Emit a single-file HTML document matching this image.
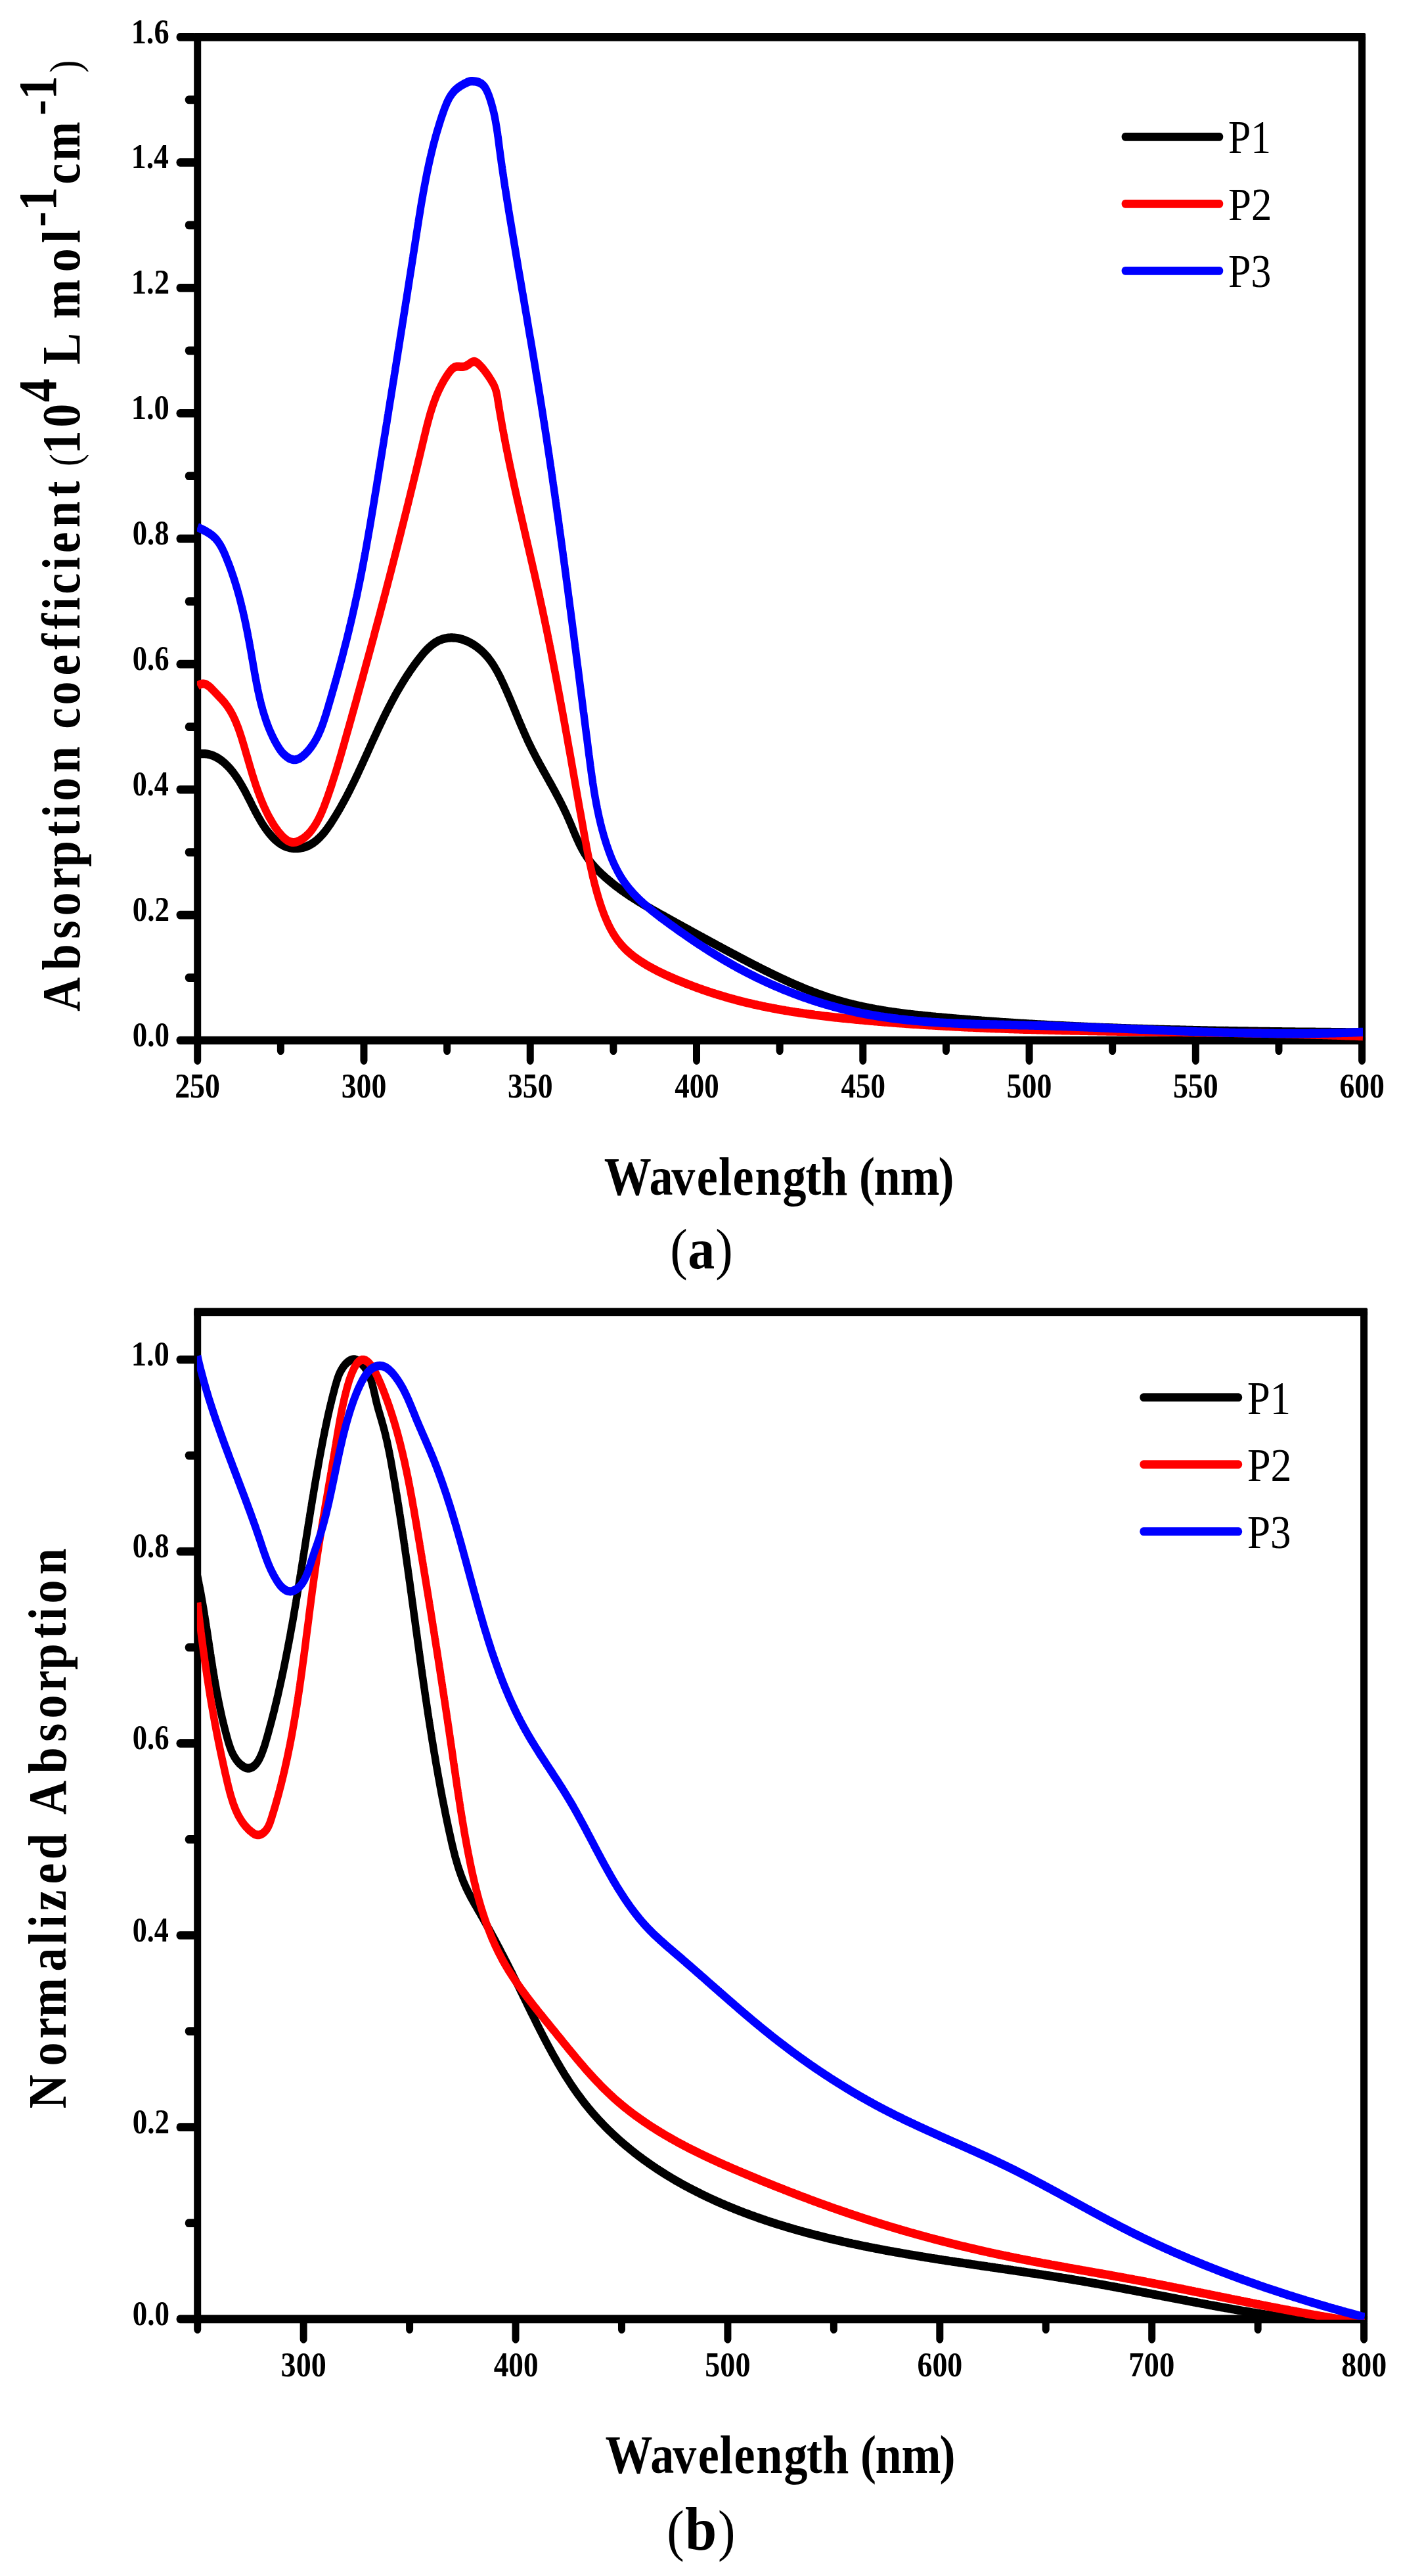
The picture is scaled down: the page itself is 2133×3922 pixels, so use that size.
<!DOCTYPE html>
<html lang="en"><head><meta charset="utf-8"><title>Absorption spectra of P1, P2 and P3</title>
<style>
html,body{margin:0;padding:0;background:#fff;}
body{width:2133px;height:3922px;overflow:hidden;}
svg{display:block;font-family:"Liberation Serif","DejaVu Serif",serif;font-size:200px;font-weight:bold;fill:#000;}
</style></head><body>
<svg width="2133" height="3922" viewBox="0 0 2133 3922">
<rect width="2133" height="3922" fill="#fff"/>
<g id="chart-a">
<path d="M300.70 56.40H2073.60V1584.00H300.70Z" fill="none" stroke="#000" stroke-width="11.0" stroke-linejoin="round" transform="translate(0,0)"/>
<rect x="295.20" y="50.05" width="1783.90" height="12.7" rx="2" ry="2"/>
<rect x="295.20" y="1577.65" width="1783.90" height="12.7" rx="2" ry="2"/>
<rect x="268.50" y="1577.65" width="32.20" height="12.7" rx="5.5" ry="6.35"/>
<rect x="268.50" y="1386.70" width="32.20" height="12.7" rx="5.5" ry="6.35"/>
<rect x="268.50" y="1195.75" width="32.20" height="12.7" rx="5.5" ry="6.35"/>
<rect x="268.50" y="1004.80" width="32.20" height="12.7" rx="5.5" ry="6.35"/>
<rect x="268.50" y="813.85" width="32.20" height="12.7" rx="5.5" ry="6.35"/>
<rect x="268.50" y="622.90" width="32.20" height="12.7" rx="5.5" ry="6.35"/>
<rect x="268.50" y="431.95" width="32.20" height="12.7" rx="5.5" ry="6.35"/>
<rect x="268.50" y="241.00" width="32.20" height="12.7" rx="5.5" ry="6.35"/>
<rect x="268.50" y="50.05" width="32.20" height="12.7" rx="5.5" ry="6.35"/>
<rect x="281.70" y="1482.18" width="19.00" height="12.7" rx="5.5" ry="6.35"/>
<rect x="281.70" y="1291.23" width="19.00" height="12.7" rx="5.5" ry="6.35"/>
<rect x="281.70" y="1100.28" width="19.00" height="12.7" rx="5.5" ry="6.35"/>
<rect x="281.70" y="909.33" width="19.00" height="12.7" rx="5.5" ry="6.35"/>
<rect x="281.70" y="718.38" width="19.00" height="12.7" rx="5.5" ry="6.35"/>
<rect x="281.70" y="527.43" width="19.00" height="12.7" rx="5.5" ry="6.35"/>
<rect x="281.70" y="336.48" width="19.00" height="12.7" rx="5.5" ry="6.35"/>
<rect x="281.70" y="145.53" width="19.00" height="12.7" rx="5.5" ry="6.35"/>
<rect x="295.20" y="1584.00" width="11.0" height="36.90" rx="5.5" ry="6.35"/>
<rect x="548.47" y="1584.00" width="11.0" height="36.90" rx="5.5" ry="6.35"/>
<rect x="801.74" y="1584.00" width="11.0" height="36.90" rx="5.5" ry="6.35"/>
<rect x="1055.01" y="1584.00" width="11.0" height="36.90" rx="5.5" ry="6.35"/>
<rect x="1308.29" y="1584.00" width="11.0" height="36.90" rx="5.5" ry="6.35"/>
<rect x="1561.56" y="1584.00" width="11.0" height="36.90" rx="5.5" ry="6.35"/>
<rect x="1814.83" y="1584.00" width="11.0" height="36.90" rx="5.5" ry="6.35"/>
<rect x="2068.10" y="1584.00" width="11.0" height="36.90" rx="5.5" ry="6.35"/>
<rect x="421.84" y="1584.00" width="11.0" height="22.00" rx="5.5" ry="6.35"/>
<rect x="675.11" y="1584.00" width="11.0" height="22.00" rx="5.5" ry="6.35"/>
<rect x="928.38" y="1584.00" width="11.0" height="22.00" rx="5.5" ry="6.35"/>
<rect x="1181.65" y="1584.00" width="11.0" height="22.00" rx="5.5" ry="6.35"/>
<rect x="1434.92" y="1584.00" width="11.0" height="22.00" rx="5.5" ry="6.35"/>
<rect x="1688.19" y="1584.00" width="11.0" height="22.00" rx="5.5" ry="6.35"/>
<rect x="1941.46" y="1584.00" width="11.0" height="22.00" rx="5.5" ry="6.35"/>
<text transform="matrix(0.2247,0,0,0.2654,201.71,1593.10)">0.0</text>
<text transform="matrix(0.2256,0,0,0.2654,201.71,1402.15)">0.2</text>
<text transform="matrix(0.2209,0,0,0.2654,201.74,1211.20)">0.4</text>
<text transform="matrix(0.2233,0,0,0.2654,201.73,1020.25)">0.6</text>
<text transform="matrix(0.2237,0,0,0.2654,201.72,829.30)">0.8</text>
<text transform="matrix(0.2331,0,0,0.2654,199.67,638.35)">1.0</text>
<text transform="matrix(0.2341,0,0,0.2664,199.65,447.40)">1.2</text>
<text transform="matrix(0.2291,0,0,0.2674,199.73,256.45)">1.4</text>
<text transform="matrix(0.2316,0,0,0.2664,199.69,65.50)">1.6</text>
<text transform="matrix(0.2296,0,0,0.2659,266.15,1671.37)">250</text>
<text transform="matrix(0.2288,0,0,0.2659,519.66,1671.37)">300</text>
<text transform="matrix(0.2288,0,0,0.2659,772.93,1671.37)">350</text>
<text transform="matrix(0.2248,0,0,0.2659,1027.35,1671.37)">400</text>
<text transform="matrix(0.2248,0,0,0.2659,1280.62,1671.37)">450</text>
<text transform="matrix(0.2292,0,0,0.2659,1532.62,1671.37)">500</text>
<text transform="matrix(0.2292,0,0,0.2659,1785.90,1671.37)">550</text>
<text transform="matrix(0.2284,0,0,0.2659,2039.40,1671.37)">600</text>
<clipPath id="clipA"><rect x="299.90" y="56.40" width="1775.10" height="1528.60"/></clipPath>
<g clip-path="url(#clipA)"><g fill="none" stroke-width="11.4" stroke-linejoin="round" transform="scale(1,1.16)">
<path d="M300.7 990.0 302.6 989.7 304.5 989.5 306.4 989.3 308.3 989.3 310.2 989.3 312.0 989.4 313.8 989.5 315.6 989.7 317.4 990.0 319.2 990.4 320.9 990.8 322.6 991.3 324.3 991.8 326.0 992.4 327.6 993.1 329.3 993.8 330.9 994.6 332.5 995.4 334.0 996.3 335.6 997.2 337.1 998.1 338.6 999.2 340.1 1000.2 341.6 1001.3 343.0 1002.4 344.4 1003.6 345.9 1004.8 347.2 1006.0 348.6 1007.2 349.9 1008.5 351.3 1009.8 352.5 1011.2 353.8 1012.5 355.1 1013.9 356.3 1015.3 357.5 1016.8 358.7 1018.2 359.9 1019.6 361.0 1021.1 362.2 1022.6 363.3 1024.1 364.4 1025.5 365.4 1027.0 366.5 1028.5 367.5 1030.0 368.5 1031.5 369.5 1033.1 370.5 1034.6 371.5 1036.1 372.5 1037.6 373.4 1039.2 374.3 1040.7 375.3 1042.2 376.2 1043.8 377.1 1045.3 378.0 1046.9 378.9 1048.4 379.9 1050.0 380.8 1051.5 381.7 1053.1 382.6 1054.6 383.5 1056.2 384.4 1057.8 385.3 1059.3 386.2 1060.9 387.2 1062.4 388.1 1064.0 389.0 1065.5 390.0 1067.1 391.0 1068.6 391.9 1070.2 392.9 1071.7 393.9 1073.2 395.0 1074.8 396.0 1076.3 397.0 1077.8 398.1 1079.4 399.2 1080.9 400.3 1082.4 401.5 1083.9 402.6 1085.4 403.8 1086.9 405.0 1088.3 406.2 1089.8 407.5 1091.2 408.7 1092.6 410.0 1094.0 411.3 1095.3 412.7 1096.7 414.0 1097.9 415.4 1099.2 416.8 1100.4 418.2 1101.6 419.7 1102.7 421.2 1103.8 422.7 1104.9 424.2 1105.9 425.7 1106.8 427.3 1107.7 428.9 1108.5 430.5 1109.3 432.2 1110.0 433.9 1110.7 435.6 1111.3 437.3 1111.8 439.0 1112.2 440.8 1112.6 442.6 1112.9 444.4 1113.2 446.2 1113.4 448.0 1113.5 449.9 1113.5 451.7 1113.5 453.5 1113.4 455.3 1113.3 457.1 1113.1 458.9 1112.8 460.7 1112.5 462.5 1112.1 464.3 1111.7 466.0 1111.2 467.7 1110.6 469.4 1110.0 471.1 1109.3 472.7 1108.5 474.3 1107.7 475.9 1106.9 477.4 1106.0 478.9 1105.0 480.4 1104.0 481.9 1103.0 483.3 1101.9 484.8 1100.8 486.2 1099.6 487.6 1098.4 488.9 1097.2 490.3 1095.9 491.6 1094.6 492.9 1093.3 494.2 1092.0 495.4 1090.6 496.7 1089.2 497.9 1087.8 499.1 1086.3 500.3 1084.9 501.5 1083.4 502.7 1081.9 503.9 1080.4 505.0 1078.9 506.1 1077.3 507.3 1075.8 508.4 1074.3 509.5 1072.7 510.6 1071.2 511.7 1069.7 512.7 1068.1 513.8 1066.6 514.9 1065.0 515.9 1063.5 517.0 1062.0 518.0 1060.4 519.0 1058.9 520.0 1057.3 521.0 1055.7 522.0 1054.2 523.0 1052.6 524.0 1051.1 525.0 1049.5 526.0 1048.0 526.9 1046.4 527.9 1044.8 528.8 1043.3 529.8 1041.7 530.7 1040.1 531.6 1038.6 532.6 1037.0 533.5 1035.4 534.4 1033.8 535.3 1032.3 536.2 1030.7 537.1 1029.1 538.0 1027.5 538.9 1026.0 539.8 1024.4 540.7 1022.8 541.5 1021.2 542.4 1019.6 543.3 1018.1 544.2 1016.5 545.0 1014.9 545.9 1013.3 546.7 1011.7 547.6 1010.1 548.4 1008.5 549.3 1007.0 550.1 1005.4 551.0 1003.8 551.8 1002.2 552.7 1000.6 553.5 999.0 554.3 997.4 555.2 995.8 556.0 994.2 556.9 992.6 557.7 991.1 558.5 989.5 559.4 987.9 560.2 986.3 561.0 984.7 561.9 983.1 562.7 981.5 563.5 979.9 564.4 978.3 565.2 976.7 566.0 975.1 566.9 973.5 567.7 971.9 568.6 970.4 569.4 968.8 570.3 967.2 571.1 965.6 572.0 964.0 572.8 962.4 573.7 960.8 574.5 959.2 575.4 957.6 576.2 956.0 577.1 954.5 578.0 952.9 578.8 951.3 579.7 949.7 580.6 948.1 581.5 946.6 582.3 945.0 583.2 943.4 584.1 941.8 585.0 940.2 585.9 938.7 586.8 937.1 587.7 935.5 588.6 934.0 589.6 932.4 590.5 930.8 591.4 929.3 592.3 927.7 593.3 926.2 594.2 924.6 595.1 923.1 596.1 921.5 597.1 920.0 598.0 918.4 599.0 916.9 600.0 915.3 600.9 913.8 601.9 912.3 602.9 910.7 603.9 909.2 604.9 907.7 605.9 906.1 607.0 904.6 608.0 903.1 609.0 901.6 610.1 900.1 611.1 898.6 612.2 897.1 613.2 895.6 614.3 894.1 615.4 892.6 616.5 891.1 617.6 889.6 618.7 888.1 619.8 886.6 620.9 885.2 622.1 883.7 623.2 882.2 624.3 880.8 625.5 879.3 626.7 877.8 627.9 876.4 629.0 874.9 630.2 873.5 631.4 872.1 632.7 870.6 633.9 869.2 635.1 867.8 636.4 866.4 637.6 865.0 638.9 863.6 640.2 862.2 641.5 860.8 642.8 859.4 644.1 858.1 645.4 856.7 646.8 855.4 648.1 854.2 649.5 852.9 650.9 851.7 652.3 850.5 653.8 849.4 655.2 848.2 656.7 847.2 658.2 846.1 659.7 845.2 661.2 844.2 662.7 843.3 664.3 842.5 665.9 841.7 667.5 841.0 669.1 840.3 670.8 839.8 672.5 839.2 674.2 838.7 675.9 838.3 677.6 838.0 679.3 837.7 681.1 837.4 682.9 837.2 684.7 837.1 686.5 837.0 688.3 837.0 690.1 837.1 691.9 837.2 693.7 837.3 695.5 837.5 697.3 837.8 699.1 838.1 700.9 838.5 702.7 838.9 704.5 839.4 706.3 839.9 708.0 840.5 709.8 841.1 711.5 841.7 713.3 842.4 715.0 843.2 716.7 844.0 718.4 844.8 720.1 845.6 721.7 846.5 723.3 847.5 724.9 848.4 726.5 849.5 728.1 850.5 729.6 851.6 731.2 852.7 732.6 853.8 734.1 854.9 735.5 856.1 736.9 857.3 738.3 858.5 739.6 859.8 740.9 861.0 742.2 862.3 743.5 863.6 744.7 865.0 745.9 866.3 747.0 867.7 748.2 869.1 749.3 870.5 750.4 871.9 751.4 873.3 752.5 874.7 753.5 876.2 754.5 877.7 755.5 879.2 756.5 880.6 757.5 882.2 758.4 883.7 759.3 885.2 760.3 886.7 761.2 888.3 762.1 889.9 763.0 891.4 763.8 893.0 764.7 894.6 765.6 896.2 766.4 897.7 767.3 899.3 768.1 900.9 769.0 902.6 769.8 904.2 770.7 905.8 771.5 907.4 772.3 909.0 773.1 910.7 774.0 912.3 774.8 913.9 775.6 915.6 776.4 917.2 777.2 918.8 778.0 920.5 778.8 922.1 779.6 923.8 780.4 925.4 781.2 927.1 782.0 928.8 782.8 930.4 783.6 932.1 784.4 933.7 785.2 935.4 786.0 937.1 786.8 938.7 787.6 940.4 788.4 942.0 789.2 943.7 790.0 945.4 790.8 947.0 791.6 948.7 792.4 950.3 793.3 952.0 794.1 953.6 794.9 955.3 795.7 956.9 796.6 958.6 797.4 960.2 798.2 961.9 799.1 963.5 799.9 965.2 800.8 966.8 801.6 968.4 802.5 970.0 803.3 971.7 804.2 973.3 805.1 974.9 806.0 976.5 806.9 978.1 807.8 979.7 808.7 981.3 809.6 982.9 810.5 984.4 811.4 986.0 812.4 987.6 813.3 989.2 814.2 990.7 815.2 992.3 816.1 993.8 817.1 995.4 818.0 996.9 819.0 998.5 820.0 1000.0 820.9 1001.6 821.9 1003.1 822.9 1004.7 823.9 1006.2 824.9 1007.7 825.8 1009.3 826.8 1010.8 827.8 1012.3 828.8 1013.8 829.8 1015.4 830.8 1016.9 831.8 1018.4 832.8 1020.0 833.7 1021.5 834.7 1023.0 835.7 1024.5 836.7 1026.1 837.7 1027.6 838.7 1029.1 839.7 1030.6 840.7 1032.2 841.6 1033.7 842.6 1035.2 843.6 1036.8 844.6 1038.3 845.5 1039.9 846.5 1041.4 847.5 1043.0 848.4 1044.5 849.4 1046.1 850.3 1047.6 851.3 1049.2 852.2 1050.7 853.1 1052.3 854.1 1053.9 855.0 1055.4 855.9 1057.0 856.8 1058.6 857.7 1060.2 858.6 1061.8 859.5 1063.4 860.4 1065.0 861.3 1066.6 862.1 1068.2 863.0 1069.8 863.8 1071.5 864.7 1073.1 865.5 1074.7 866.3 1076.4 867.1 1078.0 868.0 1079.7 868.8 1081.3 869.6 1083.0 870.4 1084.6 871.2 1086.3 872.0 1088.0 872.8 1089.6 873.6 1091.3 874.4 1092.9 875.2 1094.6 876.0 1096.2 876.9 1097.9 877.7 1099.5 878.5 1101.1 879.4 1102.7 880.3 1104.4 881.1 1106.0 882.0 1107.6 882.9 1109.1 883.8 1110.7 884.8 1112.3 885.7 1113.8 886.7 1115.4 887.7 1116.9 888.7 1118.4 889.7 1119.9 890.8 1121.3 891.9 1122.8 893.0 1124.2 894.1 1125.6 895.3 1127.0 896.4 1128.4 897.6 1129.8 898.8 1131.1 900.1 1132.5 901.3 1133.8 902.6 1135.1 903.9 1136.4 905.2 1137.6 906.5 1138.9 907.9 1140.1 909.2 1141.3 910.6 1142.6 912.0 1143.8 913.4 1144.9 914.8 1146.1 916.2 1147.3 917.6 1148.4 919.1 1149.6 920.5 1150.7 922.0 1151.8 923.4 1152.9 924.9 1154.0 926.4 1155.1 927.9 1156.2 929.4 1157.2 930.9 1158.3 932.4 1159.3 933.9 1160.4 935.4 1161.4 936.9 1162.4 938.4 1163.4 940.0 1164.4 941.5 1165.4 943.0 1166.4 944.6 1167.4 946.1 1168.3 947.7 1169.3 949.2 1170.2 950.8 1171.2 952.4 1172.1 954.0 1173.0 955.5 1174.0 957.1 1174.9 958.7 1175.8 960.3 1176.7 961.9 1177.6 963.5 1178.5 965.1 1179.4 966.7 1180.2 968.3 1181.1 969.9 1182.0 971.5 1182.8 973.2 1183.7 974.8 1184.5 976.4 1185.4 978.0 1186.2 979.7 1187.1 981.3 1187.9 982.9 1188.7 984.5 1189.6 986.2 1190.4 987.8 1191.2 989.5 1192.0 991.1 1192.8 992.7 1193.7 994.4 1194.5 996.0 1195.3 997.7 1196.1 999.3 1196.9 1001.0 1197.7 1002.6 1198.5 1004.3 1199.3 1005.9 1200.1 1007.6 1200.9 1009.2 1201.6 1010.9 1202.4 1012.5 1203.2 1014.2 1204.0 1015.8 1204.8 1017.5 1205.6 1019.1 1206.4 1020.8 1207.2 1022.4 1208.0 1024.1 1208.7 1025.7 1209.5 1027.4 1210.3 1029.0 1211.1 1030.7 1211.9 1032.3 1212.7 1034.0 1213.5 1035.6 1214.2 1037.2 1215.0 1038.9 1215.8 1040.5 1216.6 1042.2 1217.4 1043.8 1218.2 1045.5 1218.9 1047.1 1219.7 1048.8 1220.5 1050.4 1221.3 1052.1 1222.1 1053.7 1222.8 1055.3 1223.6 1057.0 1224.4 1058.6 1225.2 1060.3 1226.0 1061.9 1226.7 1063.6 1227.5 1065.2 1228.3 1066.9 1229.1 1068.5 1229.8 1070.2 1230.6 1071.8 1231.4 1073.5 1232.2 1075.1 1232.9 1076.7 1233.7 1078.4 1234.5 1080.0 1235.3 1081.7 1236.0 1083.3 1236.8 1085.0 1237.6 1086.6 1238.3 1088.3 1239.1 1089.9 1239.9 1091.6 1240.7 1093.2 1241.4 1094.9 1242.2 1096.5 1243.0 1098.2 1243.7 1099.8 1244.5 1101.5 1245.3 1103.2 1246.0 1104.8 1246.8 1106.5 1247.6 1108.1 1248.3 1109.8 1249.1 1111.4 1249.8 1113.1 1250.6 1114.8 1251.4 1116.4 1252.1 1118.1 1252.9 1119.7 1253.6 1121.4 1254.4 1123.1 1255.2 1124.7 1255.9 1126.4 1256.7 1128.1 1257.4 1129.7 1258.2 1131.4 1258.9 1133.1 1259.7 1134.7 1260.5 1136.4 1261.2 1138.1 1262.0 1139.7 1262.7 1141.4 1263.5 1143.1 1264.2 1144.8 1265.0 1146.4 1265.7 1148.1 1266.4 1149.8 1267.2 1151.5 1267.9 1153.1 1268.7 1154.8 1269.4 1156.5 1270.1 1158.2 1270.9 1159.9 1271.6 1161.5 1272.3 1163.2 1273.1 1164.9 1273.8 1166.6 1274.5 1168.3 1275.2 1170.0 1276.0 1171.7 1276.7 1173.3 1277.4 1175.0 1278.1 1176.7 1278.8 1178.4 1279.5 1180.1 1280.2 1181.8 1280.9 1183.5 1281.6 1185.2 1282.3 1186.9 1283.0 1188.6 1283.7 1190.3 1284.4 1192.0 1285.1 1193.7 1285.7 1195.4 1286.4 1197.1 1287.1 1198.8 1287.8 1200.5 1288.4 1202.2 1289.1 1203.9 1289.8 1205.7 1290.4 1207.4 1291.1 1209.1 1291.7 1210.8 1292.4 1212.5 1293.0 1214.2 1293.6 1215.9 1294.3 1217.7 1294.9 1219.4 1295.5 1221.1 1296.1 1222.8 1296.8 1224.6 1297.4 1226.3 1298.0 1228.0 1298.6 1229.7 1299.2 1231.5 1299.8 1233.2 1300.4 1234.9 1300.9 1236.7 1301.5 1238.4 1302.1 1240.1 1302.7 1241.9 1303.2 1243.6 1303.8 1245.3 1304.3 1247.1 1304.9 1248.8 1305.4 1250.6 1306.0 1252.3 1306.5 1254.1 1307.0 1255.8 1307.5 1257.6 1308.1 1259.3 1308.6 1261.1 1309.1 1262.8 1309.6 1264.6 1310.1 1266.3 1310.5 1268.1 1311.0 1269.8 1311.5 1271.6 1312.0 1273.4 1312.4 1275.1 1312.9 1276.9 1313.3 1278.6 1313.8 1280.4 1314.2 1282.2 1314.6 1284.0 1315.1 1285.7 1315.5 1287.5 1315.9 1289.3 1316.3 1291.0 1316.7 1292.8 1317.1 1294.6 1317.5 1296.4 1317.9 1298.2 1318.2 1299.9 1318.6 1301.7 1319.0 1303.5 1319.3 1305.3 1319.7 1307.1 1320.1 1308.9 1320.4 1310.7 1320.7 1312.4 1321.1 1314.2 1321.4 1316.0 1321.7 1317.8 1322.1 1319.6 1322.4 1321.4 1322.7 1323.2 1323.0 1325.0 1323.3 1326.8 1323.6 1328.6 1323.9 1330.4 1324.2 1332.2 1324.5 1334.0 1324.8 1335.8 1325.0 1337.6 1325.3 1339.4 1325.6 1341.2 1325.8 1343.0 1326.1 1344.8 1326.4 1346.6 1326.6 1348.4 1326.9 1350.2 1327.1 1352.0 1327.4 1353.9 1327.6 1355.7 1327.8 1357.5 1328.1 1359.3 1328.3 1361.1 1328.5 1362.9 1328.7 1364.7 1329.0 1366.5 1329.2 1368.4 1329.4 1370.2 1329.6 1372.0 1329.8 1373.8 1330.0 1375.6 1330.2 1377.4 1330.4 1379.3 1330.6 1381.1 1330.8 1382.9 1331.0 1384.7 1331.2 1386.5 1331.4 1388.4 1331.5 1390.2 1331.7 1392.0 1331.9 1393.8 1332.1 1395.6 1332.2 1397.5 1332.4 1399.3 1332.6 1401.1 1332.7 1402.9 1332.9 1404.8 1333.1 1406.6 1333.2 1408.4 1333.4 1410.2 1333.6 1412.1 1333.7 1413.9 1333.9 1415.7 1334.0 1417.5 1334.2 1419.4 1334.3 1421.2 1334.5 1423.0 1334.6 1424.8 1334.8 1426.7 1334.9 1428.5 1335.1 1430.3 1335.2 1432.1 1335.3 1434.0 1335.5 1435.8 1335.6 1437.6 1335.8 1439.5 1335.9 1441.3 1336.0 1443.1 1336.2 1444.9 1336.3 1446.8 1336.5 1448.6 1336.6 1450.4 1336.7 1452.2 1336.9 1454.1 1337.0 1455.9 1337.1 1457.7 1337.3 1459.5 1337.4 1461.4 1337.5 1463.2 1337.6 1465.0 1337.8 1466.8 1337.9 1468.7 1338.0 1470.5 1338.2 1472.3 1338.3 1474.1 1338.4 1476.0 1338.5 1477.8 1338.7 1479.6 1338.8 1481.4 1338.9 1483.3 1339.0 1485.1 1339.2 1486.9 1339.3 1488.8 1339.4 1490.6 1339.5 1492.4 1339.6 1494.2 1339.8 1496.1 1339.9 1497.9 1340.0 1499.7 1340.1 1501.5 1340.2 1503.4 1340.3 1505.2 1340.4 1507.0 1340.6 1508.8 1340.7 1510.7 1340.8 1512.5 1340.9 1514.3 1341.0 1516.1 1341.1 1518.0 1341.2 1519.8 1341.3 1521.6 1341.4 1523.4 1341.6 1525.3 1341.7 1527.1 1341.8 1528.9 1341.9 1530.7 1342.0 1532.6 1342.1 1534.4 1342.2 1536.2 1342.3 1538.0 1342.4 1539.9 1342.5 1541.7 1342.6 1543.5 1342.7 1545.3 1342.8 1547.2 1342.9 1549.0 1343.0 1550.8 1343.1 1552.6 1343.2 1554.5 1343.3 1556.3 1343.4 1558.1 1343.5 1559.9 1343.6 1561.8 1343.7 1563.6 1343.8 1565.4 1343.9 1567.2 1344.0 1569.1 1344.0 1570.9 1344.1 1572.7 1344.2 1574.5 1344.3 1576.4 1344.4 1578.2 1344.5 1580.0 1344.6 1581.8 1344.7 1583.7 1344.8 1585.5 1344.9 1587.3 1344.9 1589.1 1345.0 1591.0 1345.1 1592.8 1345.2 1594.6 1345.3 1596.4 1345.4 1598.3 1345.5 1600.1 1345.5 1601.9 1345.6 1603.7 1345.7 1605.6 1345.8 1607.4 1345.9 1609.2 1345.9 1611.0 1346.0 1612.9 1346.1 1614.7 1346.2 1616.5 1346.3 1618.3 1346.3 1620.2 1346.4 1622.0 1346.5 1623.8 1346.6 1625.6 1346.6 1627.5 1346.7 1629.3 1346.8 1631.1 1346.9 1632.9 1346.9 1634.8 1347.0 1636.6 1347.1 1638.4 1347.2 1640.2 1347.2 1642.1 1347.3 1643.9 1347.4 1645.7 1347.4 1647.5 1347.5 1649.4 1347.6 1651.2 1347.7 1653.0 1347.7 1654.8 1347.8 1656.7 1347.9 1658.5 1347.9 1660.3 1348.0 1662.1 1348.1 1664.0 1348.1 1665.8 1348.2 1667.6 1348.2 1669.5 1348.3 1671.3 1348.4 1673.1 1348.4 1674.9 1348.5 1676.8 1348.6 1678.6 1348.6 1680.4 1348.7 1682.2 1348.7 1684.1 1348.8 1685.9 1348.9 1687.7 1348.9 1689.5 1349.0 1691.4 1349.0 1693.2 1349.1 1695.0 1349.2 1696.8 1349.2 1698.7 1349.3 1700.5 1349.3 1702.3 1349.4 1704.1 1349.4 1706.0 1349.5 1707.8 1349.6 1709.6 1349.6 1711.4 1349.7 1713.3 1349.7 1715.1 1349.8 1716.9 1349.8 1718.7 1349.9 1720.6 1349.9 1722.4 1350.0 1724.2 1350.0 1726.0 1350.1 1727.9 1350.1 1729.7 1350.2 1731.5 1350.2 1733.3 1350.3 1735.2 1350.3 1737.0 1350.4 1738.8 1350.4 1740.6 1350.5 1742.5 1350.5 1744.3 1350.6 1746.1 1350.6 1747.9 1350.7 1749.8 1350.7 1751.6 1350.8 1753.4 1350.8 1755.2 1350.8 1757.1 1350.9 1758.9 1350.9 1760.7 1351.0 1762.5 1351.0 1764.4 1351.1 1766.2 1351.1 1768.0 1351.1 1769.8 1351.2 1771.7 1351.2 1773.5 1351.3 1775.3 1351.3 1777.1 1351.4 1779.0 1351.4 1780.8 1351.4 1782.6 1351.5 1784.4 1351.5 1786.3 1351.6 1788.1 1351.6 1789.9 1351.6 1791.7 1351.7 1793.6 1351.7 1795.4 1351.7 1797.2 1351.8 1799.0 1351.8 1800.9 1351.9 1802.7 1351.9 1804.5 1351.9 1806.4 1352.0 1808.2 1352.0 1810.0 1352.0 1811.8 1352.1 1813.7 1352.1 1815.5 1352.1 1817.3 1352.2 1819.1 1352.2 1821.0 1352.2 1822.8 1352.3 1824.6 1352.3 1826.4 1352.3 1828.3 1352.4 1830.1 1352.4 1831.9 1352.4 1833.7 1352.5 1835.6 1352.5 1837.4 1352.5 1839.2 1352.6 1841.0 1352.6 1842.9 1352.6 1844.7 1352.7 1846.5 1352.7 1848.3 1352.7 1850.2 1352.7 1852.0 1352.8 1853.8 1352.8 1855.7 1352.8 1857.5 1352.9 1859.3 1352.9 1861.1 1352.9 1863.0 1352.9 1864.8 1353.0 1866.6 1353.0 1868.4 1353.0 1870.3 1353.0 1872.1 1353.1 1873.9 1353.1 1875.7 1353.1 1877.6 1353.2 1879.4 1353.2 1881.2 1353.2 1883.0 1353.2 1884.9 1353.3 1886.7 1353.3 1888.5 1353.3 1890.4 1353.3 1892.2 1353.4 1894.0 1353.4 1895.8 1353.4 1897.7 1353.4 1899.5 1353.4 1901.3 1353.5 1903.1 1353.5 1905.0 1353.5 1906.8 1353.5 1908.6 1353.6 1910.5 1353.6 1912.3 1353.6 1914.1 1353.6 1915.9 1353.7 1917.8 1353.7 1919.6 1353.7 1921.4 1353.7 1923.2 1353.7 1925.1 1353.8 1926.9 1353.8 1928.7 1353.8 1930.5 1353.8 1932.4 1353.8 1934.2 1353.9 1936.0 1353.9 1937.9 1353.9 1939.7 1353.9 1941.5 1353.9 1943.3 1354.0 1945.2 1354.0 1947.0 1354.0 1948.8 1354.0 1950.7 1354.0 1952.5 1354.1 1954.3 1354.1 1956.1 1354.1 1958.0 1354.1 1959.8 1354.1 1961.6 1354.2 1963.4 1354.2 1965.3 1354.2 1967.1 1354.2 1968.9 1354.2 1970.8 1354.2 1972.6 1354.3 1974.4 1354.3 1976.2 1354.3 1978.1 1354.3 1979.9 1354.3 1981.7 1354.3 1983.6 1354.4 1985.4 1354.4 1987.2 1354.4 1989.0 1354.4 1990.9 1354.4 1992.7 1354.5 1994.5 1354.5 1996.3 1354.5 1998.2 1354.5 2000.0 1354.5 2001.8 1354.5 2003.7 1354.6 2005.5 1354.6 2007.3 1354.6 2009.1 1354.6 2011.0 1354.6 2012.8 1354.6 2014.6 1354.7 2016.5 1354.7 2018.3 1354.7 2020.1 1354.7 2021.9 1354.7 2023.8 1354.7 2025.6 1354.7 2027.4 1354.8 2029.3 1354.8 2031.1 1354.8 2032.9 1354.8 2034.8 1354.8 2036.6 1354.8 2038.4 1354.9 2040.2 1354.9 2042.1 1354.9 2043.9 1354.9 2045.7 1354.9 2047.6 1354.9 2049.4 1355.0 2051.2 1355.0 2053.0 1355.0 2054.9 1355.0 2056.7 1355.0 2058.5 1355.0 2060.4 1355.0 2062.2 1355.1 2064.0 1355.1 2065.9 1355.1 2067.7 1355.1 2069.5 1355.1 2071.3 1355.1 2073.2 1355.2 2075.0 1355.2" stroke="#000000"/>
<path d="M300.7 900.4 302.8 899.1 304.8 898.2 306.8 897.7 308.7 897.5 310.6 897.6 312.4 897.9 314.1 898.5 315.9 899.4 317.5 900.4 319.2 901.5 320.8 902.8 322.5 904.2 324.0 905.6 325.6 907.0 327.2 908.4 328.7 909.8 330.3 911.2 331.8 912.6 333.3 914.0 334.8 915.4 336.3 916.7 337.8 918.1 339.2 919.5 340.6 920.9 342.0 922.3 343.3 923.7 344.6 925.2 345.9 926.7 347.1 928.2 348.3 929.8 349.5 931.3 350.6 932.9 351.7 934.6 352.8 936.2 353.8 937.9 354.8 939.6 355.8 941.3 356.7 943.0 357.7 944.8 358.6 946.6 359.4 948.4 360.3 950.2 361.1 952.0 362.0 953.8 362.8 955.7 363.6 957.5 364.3 959.4 365.1 961.3 365.8 963.2 366.5 965.1 367.3 967.0 368.0 968.9 368.7 970.9 369.3 972.8 370.0 974.7 370.7 976.7 371.4 978.6 372.0 980.5 372.7 982.5 373.3 984.4 374.0 986.4 374.6 988.3 375.3 990.2 376.0 992.2 376.6 994.1 377.3 996.0 377.9 998.0 378.6 999.9 379.2 1001.8 379.9 1003.8 380.5 1005.7 381.2 1007.6 381.8 1009.5 382.5 1011.4 383.2 1013.4 383.8 1015.3 384.5 1017.2 385.2 1019.1 385.9 1021.0 386.6 1022.9 387.3 1024.8 388.0 1026.6 388.7 1028.5 389.4 1030.4 390.2 1032.3 390.9 1034.1 391.7 1036.0 392.4 1037.8 393.2 1039.7 394.0 1041.5 394.8 1043.3 395.6 1045.2 396.4 1047.0 397.2 1048.8 398.0 1050.6 398.9 1052.4 399.8 1054.2 400.6 1056.0 401.5 1057.7 402.4 1059.5 403.4 1061.2 404.3 1063.0 405.3 1064.7 406.2 1066.4 407.2 1068.2 408.2 1069.9 409.3 1071.6 410.3 1073.2 411.4 1074.9 412.5 1076.6 413.6 1078.2 414.7 1079.9 415.8 1081.5 417.0 1083.1 418.2 1084.7 419.4 1086.3 420.7 1087.8 422.0 1089.4 423.3 1090.9 424.7 1092.4 426.1 1093.9 427.6 1095.4 429.1 1096.8 430.7 1098.3 432.3 1099.6 434.0 1100.9 435.7 1102.0 437.5 1103.1 439.3 1104.0 441.1 1104.7 443.0 1105.2 444.9 1105.5 446.8 1105.6 448.8 1105.4 450.8 1105.1 452.7 1104.6 454.7 1103.9 456.6 1103.1 458.5 1102.2 460.4 1101.2 462.2 1100.1 463.9 1099.0 465.6 1097.8 467.2 1096.5 468.7 1095.2 470.2 1093.9 471.7 1092.5 473.1 1091.1 474.4 1089.6 475.7 1088.1 477.0 1086.5 478.2 1084.9 479.4 1083.3 480.6 1081.7 481.7 1080.1 482.8 1078.4 483.9 1076.7 484.9 1075.0 485.9 1073.2 486.9 1071.5 487.9 1069.7 488.8 1068.0 489.7 1066.2 490.6 1064.4 491.5 1062.5 492.4 1060.7 493.2 1058.9 494.0 1057.0 494.8 1055.2 495.6 1053.3 496.4 1051.5 497.2 1049.6 498.0 1047.8 498.8 1045.9 499.5 1044.0 500.3 1042.1 501.0 1040.3 501.8 1038.4 502.5 1036.5 503.3 1034.6 504.0 1032.8 504.7 1030.9 505.4 1029.0 506.1 1027.1 506.8 1025.2 507.5 1023.3 508.2 1021.5 508.9 1019.6 509.6 1017.7 510.3 1015.8 511.0 1013.9 511.7 1012.0 512.3 1010.1 513.0 1008.2 513.7 1006.3 514.3 1004.4 515.0 1002.5 515.7 1000.6 516.3 998.7 517.0 996.8 517.6 994.9 518.2 993.0 518.9 991.1 519.5 989.2 520.2 987.3 520.8 985.4 521.4 983.5 522.1 981.6 522.7 979.7 523.3 977.8 524.0 975.9 524.6 974.0 525.2 972.0 525.8 970.1 526.5 968.2 527.1 966.3 527.7 964.4 528.3 962.5 529.0 960.6 529.6 958.7 530.2 956.8 530.8 954.9 531.5 953.0 532.1 951.1 532.7 949.2 533.3 947.3 533.9 945.4 534.6 943.5 535.2 941.5 535.8 939.6 536.4 937.7 537.0 935.8 537.7 933.9 538.3 932.0 538.9 930.1 539.5 928.2 540.1 926.3 540.7 924.4 541.4 922.5 542.0 920.6 542.6 918.7 543.2 916.8 543.8 914.9 544.4 913.0 545.0 911.0 545.7 909.1 546.3 907.2 546.9 905.3 547.5 903.4 548.1 901.5 548.7 899.6 549.3 897.7 549.9 895.8 550.6 893.9 551.2 892.0 551.8 890.1 552.4 888.2 553.0 886.2 553.6 884.3 554.2 882.4 554.8 880.5 555.4 878.6 556.0 876.7 556.6 874.8 557.2 872.9 557.8 871.0 558.4 869.1 559.0 867.2 559.7 865.2 560.3 863.3 560.9 861.4 561.5 859.5 562.1 857.6 562.7 855.7 563.3 853.8 563.9 851.9 564.5 850.0 565.1 848.1 565.7 846.1 566.3 844.2 566.9 842.3 567.5 840.4 568.1 838.5 568.7 836.6 569.3 834.7 569.9 832.7 570.4 830.8 571.0 828.9 571.6 827.0 572.2 825.1 572.8 823.2 573.4 821.3 574.0 819.3 574.6 817.4 575.2 815.5 575.8 813.6 576.4 811.7 577.0 809.8 577.6 807.8 578.2 805.9 578.8 804.0 579.3 802.1 579.9 800.2 580.5 798.3 581.1 796.3 581.7 794.4 582.3 792.5 582.9 790.6 583.5 788.7 584.0 786.7 584.6 784.8 585.2 782.9 585.8 781.0 586.4 779.1 587.0 777.1 587.6 775.2 588.1 773.3 588.7 771.4 589.3 769.4 589.9 767.5 590.5 765.6 591.0 763.7 591.6 761.7 592.2 759.8 592.8 757.9 593.4 756.0 593.9 754.0 594.5 752.1 595.1 750.2 595.7 748.3 596.3 746.3 596.8 744.4 597.4 742.5 598.0 740.6 598.6 738.6 599.1 736.7 599.7 734.8 600.3 732.8 600.8 730.9 601.4 729.0 602.0 727.1 602.6 725.1 603.1 723.2 603.7 721.3 604.3 719.3 604.8 717.4 605.4 715.5 606.0 713.6 606.6 711.6 607.1 709.7 607.7 707.8 608.3 705.8 608.8 703.9 609.4 702.0 610.0 700.0 610.5 698.1 611.1 696.2 611.6 694.2 612.2 692.3 612.8 690.4 613.3 688.5 613.9 686.5 614.5 684.6 615.0 682.7 615.6 680.7 616.1 678.8 616.7 676.9 617.3 674.9 617.8 673.0 618.4 671.1 618.9 669.1 619.5 667.2 620.0 665.3 620.6 663.3 621.2 661.4 621.7 659.5 622.3 657.5 622.8 655.6 623.4 653.7 623.9 651.8 624.5 649.8 625.0 647.9 625.6 646.0 626.1 644.0 626.7 642.1 627.2 640.2 627.8 638.2 628.3 636.3 628.9 634.4 629.4 632.4 630.0 630.5 630.5 628.6 631.1 626.6 631.6 624.7 632.2 622.8 632.7 620.8 633.2 618.9 633.8 617.0 634.3 615.1 634.9 613.1 635.4 611.2 636.0 609.3 636.5 607.3 637.0 605.4 637.6 603.5 638.1 601.5 638.7 599.6 639.2 597.7 639.7 595.8 640.3 593.8 640.8 591.9 641.3 590.0 641.9 588.0 642.4 586.1 642.9 584.2 643.5 582.3 644.0 580.3 644.5 578.4 645.1 576.5 645.6 574.5 646.1 572.6 646.7 570.7 647.2 568.8 647.7 566.9 648.3 564.9 648.8 563.0 649.4 561.1 649.9 559.2 650.5 557.3 651.1 555.4 651.7 553.5 652.3 551.5 652.9 549.6 653.5 547.8 654.1 545.9 654.7 544.0 655.3 542.1 656.0 540.2 656.7 538.3 657.4 536.5 658.0 534.6 658.8 532.8 659.5 530.9 660.2 529.1 661.0 527.2 661.8 525.4 662.6 523.6 663.4 521.8 664.2 519.9 665.1 518.1 666.0 516.4 666.9 514.6 667.8 512.8 668.8 511.0 669.8 509.3 670.8 507.5 671.8 505.8 672.9 504.0 674.0 502.3 675.1 500.6 676.2 498.9 677.4 497.2 678.6 495.5 679.8 493.9 681.1 492.2 682.4 490.6 683.7 489.0 685.1 487.4 686.5 485.9 688.0 484.5 689.6 483.3 691.3 482.3 693.0 481.6 694.9 481.2 696.9 481.1 698.9 481.2 701.0 481.3 703.0 481.4 705.1 481.3 707.1 481.0 709.0 480.5 710.9 479.7 712.8 478.7 714.6 477.6 716.3 476.5 718.1 475.5 719.8 474.8 721.5 474.5 723.3 474.7 725.0 475.4 726.7 476.4 728.5 477.6 730.1 479.0 731.7 480.5 733.3 481.9 734.8 483.4 736.3 484.9 737.7 486.5 739.0 488.0 740.3 489.5 741.6 491.0 742.8 492.6 744.1 494.1 745.2 495.7 746.4 497.3 747.5 498.8 748.6 500.4 749.7 502.0 750.8 503.6 751.8 505.2 752.7 506.9 753.5 508.6 754.3 510.4 754.9 512.2 755.5 514.0 756.1 515.9 756.5 517.9 757.0 519.8 757.4 521.8 757.7 523.8 758.1 525.8 758.5 527.7 758.8 529.7 759.2 531.7 759.6 533.7 760.0 535.7 760.3 537.7 760.7 539.7 761.1 541.6 761.5 543.6 761.9 545.6 762.3 547.6 762.7 549.6 763.1 551.5 763.5 553.5 763.9 555.5 764.3 557.5 764.7 559.4 765.1 561.4 765.5 563.4 766.0 565.4 766.4 567.3 766.8 569.3 767.2 571.3 767.7 573.2 768.1 575.2 768.5 577.2 769.0 579.1 769.4 581.1 769.8 583.1 770.3 585.0 770.7 587.0 771.2 588.9 771.6 590.9 772.1 592.8 772.6 594.8 773.0 596.8 773.5 598.7 773.9 600.7 774.4 602.6 774.9 604.6 775.3 606.5 775.8 608.5 776.3 610.4 776.7 612.4 777.2 614.3 777.7 616.3 778.2 618.2 778.7 620.2 779.1 622.1 779.6 624.1 780.1 626.0 780.6 628.0 781.1 629.9 781.6 631.9 782.1 633.8 782.5 635.8 783.0 637.7 783.5 639.6 784.0 641.6 784.5 643.5 785.0 645.5 785.5 647.4 786.0 649.3 786.5 651.3 787.0 653.2 787.5 655.2 788.0 657.1 788.6 659.0 789.1 661.0 789.6 662.9 790.1 664.9 790.6 666.8 791.1 668.7 791.6 670.7 792.1 672.6 792.6 674.5 793.2 676.5 793.7 678.4 794.2 680.4 794.7 682.3 795.2 684.2 795.7 686.2 796.3 688.1 796.8 690.0 797.3 692.0 797.8 693.9 798.3 695.8 798.8 697.8 799.4 699.7 799.9 701.6 800.4 703.6 800.9 705.5 801.4 707.5 802.0 709.4 802.5 711.3 803.0 713.3 803.5 715.2 804.0 717.1 804.6 719.1 805.1 721.0 805.6 722.9 806.1 724.9 806.6 726.8 807.2 728.7 807.7 730.7 808.2 732.6 808.7 734.5 809.2 736.5 809.8 738.4 810.3 740.4 810.8 742.3 811.3 744.2 811.8 746.2 812.3 748.1 812.8 750.0 813.4 752.0 813.9 753.9 814.4 755.9 814.9 757.8 815.4 759.7 815.9 761.7 816.4 763.6 816.9 765.6 817.4 767.5 817.9 769.4 818.4 771.4 818.9 773.3 819.5 775.3 820.0 777.2 820.5 779.2 821.0 781.1 821.5 783.0 821.9 785.0 822.4 786.9 822.9 788.9 823.4 790.8 823.9 792.8 824.4 794.7 824.9 796.7 825.4 798.6 825.9 800.6 826.4 802.5 826.8 804.5 827.3 806.4 827.8 808.4 828.3 810.3 828.8 812.3 829.2 814.2 829.7 816.2 830.2 818.1 830.6 820.1 831.1 822.0 831.6 824.0 832.1 826.0 832.5 827.9 833.0 829.9 833.5 831.8 833.9 833.8 834.4 835.7 834.8 837.7 835.3 839.7 835.8 841.6 836.2 843.6 836.7 845.5 837.1 847.5 837.6 849.5 838.0 851.4 838.5 853.4 838.9 855.3 839.4 857.3 839.8 859.3 840.3 861.2 840.7 863.2 841.2 865.2 841.6 867.1 842.1 869.1 842.5 871.1 843.0 873.0 843.4 875.0 843.8 876.9 844.3 878.9 844.7 880.9 845.2 882.8 845.6 884.8 846.0 886.8 846.5 888.7 846.9 890.7 847.3 892.7 847.8 894.6 848.2 896.6 848.6 898.6 849.1 900.5 849.5 902.5 849.9 904.5 850.3 906.4 850.8 908.4 851.2 910.4 851.6 912.3 852.1 914.3 852.5 916.3 852.9 918.3 853.3 920.2 853.7 922.2 854.2 924.2 854.6 926.1 855.0 928.1 855.4 930.1 855.8 932.0 856.3 934.0 856.7 936.0 857.1 937.9 857.5 939.9 857.9 941.9 858.3 943.8 858.8 945.8 859.2 947.8 859.6 949.8 860.0 951.7 860.4 953.7 860.8 955.7 861.2 957.6 861.6 959.6 862.1 961.6 862.5 963.5 862.9 965.5 863.3 967.5 863.7 969.4 864.1 971.4 864.5 973.4 864.9 975.3 865.3 977.3 865.7 979.3 866.1 981.3 866.5 983.2 867.0 985.2 867.4 987.2 867.8 989.1 868.2 991.1 868.6 993.1 869.0 995.0 869.4 997.0 869.8 999.0 870.2 1000.9 870.6 1002.9 871.0 1004.9 871.4 1006.8 871.8 1008.8 872.2 1010.7 872.6 1012.7 873.0 1014.7 873.4 1016.6 873.8 1018.6 874.2 1020.6 874.6 1022.5 875.0 1024.5 875.4 1026.5 875.8 1028.4 876.2 1030.4 876.6 1032.3 877.0 1034.3 877.4 1036.3 877.8 1038.2 878.2 1040.2 878.6 1042.1 879.0 1044.1 879.4 1046.1 879.8 1048.0 880.2 1050.0 880.6 1051.9 881.0 1053.9 881.4 1055.9 881.8 1057.8 882.2 1059.8 882.6 1061.7 883.0 1063.7 883.4 1065.6 883.9 1067.6 884.3 1069.5 884.7 1071.5 885.1 1073.4 885.5 1075.4 885.9 1077.4 886.3 1079.3 886.7 1081.3 887.1 1083.2 887.5 1085.2 887.9 1087.1 888.3 1089.1 888.7 1091.0 889.1 1093.0 889.5 1094.9 889.9 1096.8 890.3 1098.8 890.7 1100.7 891.1 1102.7 891.6 1104.6 892.0 1106.6 892.4 1108.5 892.8 1110.5 893.2 1112.4 893.7 1114.3 894.1 1116.3 894.5 1118.2 895.0 1120.2 895.4 1122.1 895.9 1124.1 896.3 1126.0 896.8 1127.9 897.3 1129.9 897.7 1131.8 898.2 1133.8 898.7 1135.7 899.2 1137.6 899.7 1139.6 900.2 1141.5 900.7 1143.4 901.2 1145.4 901.7 1147.3 902.2 1149.3 902.7 1151.2 903.3 1153.1 903.8 1155.1 904.4 1157.0 905.0 1158.9 905.5 1160.9 906.1 1162.8 906.7 1164.7 907.3 1166.7 907.9 1168.6 908.5 1170.6 909.2 1172.5 909.8 1174.4 910.5 1176.4 911.1 1178.3 911.8 1180.2 912.5 1182.1 913.2 1184.1 913.9 1186.0 914.6 1187.9 915.4 1189.8 916.1 1191.7 916.9 1193.6 917.7 1195.5 918.5 1197.4 919.3 1199.3 920.1 1201.1 921.0 1203.0 921.9 1204.8 922.8 1206.7 923.7 1208.5 924.6 1210.3 925.5 1212.0 926.5 1213.8 927.5 1215.6 928.5 1217.3 929.6 1219.0 930.6 1220.7 931.7 1222.4 932.8 1224.1 933.9 1225.7 935.1 1227.3 936.3 1228.9 937.5 1230.5 938.7 1232.0 940.0 1233.6 941.3 1235.1 942.6 1236.5 944.0 1238.0 945.3 1239.4 946.7 1240.8 948.2 1242.1 949.6 1243.5 951.1 1244.8 952.6 1246.1 954.1 1247.4 955.7 1248.6 957.3 1249.8 958.8 1251.0 960.5 1252.2 962.1 1253.3 963.7 1254.5 965.4 1255.6 967.1 1256.7 968.8 1257.8 970.5 1258.8 972.2 1259.9 974.0 1260.9 975.7 1261.9 977.5 1262.9 979.3 1263.8 981.0 1264.8 982.8 1265.7 984.6 1266.7 986.4 1267.6 988.3 1268.5 990.1 1269.3 991.9 1270.2 993.7 1271.1 995.6 1271.9 997.4 1272.7 999.2 1273.6 1001.1 1274.4 1002.9 1275.2 1004.8 1276.0 1006.6 1276.7 1008.5 1277.5 1010.4 1278.3 1012.2 1279.0 1014.1 1279.8 1015.9 1280.5 1017.8 1281.2 1019.7 1282.0 1021.6 1282.7 1023.4 1283.4 1025.3 1284.1 1027.2 1284.8 1029.1 1285.5 1031.0 1286.2 1032.9 1286.8 1034.8 1287.5 1036.6 1288.2 1038.5 1288.8 1040.4 1289.5 1042.3 1290.2 1044.2 1290.8 1046.1 1291.4 1048.0 1292.1 1050.0 1292.7 1051.9 1293.3 1053.8 1294.0 1055.7 1294.6 1057.6 1295.2 1059.5 1295.8 1061.4 1296.4 1063.3 1297.0 1065.3 1297.6 1067.2 1298.2 1069.1 1298.8 1071.0 1299.4 1073.0 1299.9 1074.9 1300.5 1076.8 1301.1 1078.8 1301.6 1080.7 1302.2 1082.6 1302.7 1084.6 1303.3 1086.5 1303.8 1088.4 1304.3 1090.4 1304.9 1092.3 1305.4 1094.3 1305.9 1096.2 1306.4 1098.2 1306.9 1100.1 1307.4 1102.0 1307.9 1104.0 1308.4 1105.9 1308.9 1107.9 1309.4 1109.8 1309.9 1111.8 1310.4 1113.8 1310.8 1115.7 1311.3 1117.7 1311.7 1119.6 1312.2 1121.6 1312.7 1123.5 1313.1 1125.5 1313.5 1127.5 1314.0 1129.4 1314.4 1131.4 1314.8 1133.4 1315.3 1135.3 1315.7 1137.3 1316.1 1139.2 1316.5 1141.2 1316.9 1143.2 1317.3 1145.1 1317.7 1147.1 1318.1 1149.1 1318.5 1151.1 1318.8 1153.0 1319.2 1155.0 1319.6 1157.0 1319.9 1158.9 1320.3 1160.9 1320.7 1162.9 1321.0 1164.9 1321.4 1166.8 1321.7 1168.8 1322.1 1170.8 1322.4 1172.8 1322.7 1174.8 1323.1 1176.7 1323.4 1178.7 1323.7 1180.7 1324.0 1182.7 1324.4 1184.7 1324.7 1186.6 1325.0 1188.6 1325.3 1190.6 1325.6 1192.6 1325.9 1194.6 1326.2 1196.6 1326.5 1198.6 1326.7 1200.5 1327.0 1202.5 1327.3 1204.5 1327.6 1206.5 1327.9 1208.5 1328.1 1210.5 1328.4 1212.5 1328.7 1214.5 1328.9 1216.5 1329.2 1218.4 1329.4 1220.4 1329.7 1222.4 1329.9 1224.4 1330.2 1226.4 1330.4 1228.4 1330.7 1230.4 1330.9 1232.4 1331.2 1234.4 1331.4 1236.4 1331.6 1238.4 1331.8 1240.4 1332.1 1242.4 1332.3 1244.4 1332.5 1246.4 1332.7 1248.4 1332.9 1250.4 1333.2 1252.3 1333.4 1254.3 1333.6 1256.3 1333.8 1258.3 1334.0 1260.3 1334.2 1262.3 1334.4 1264.3 1334.6 1266.3 1334.8 1268.3 1335.0 1270.3 1335.2 1272.3 1335.4 1274.3 1335.5 1276.3 1335.7 1278.3 1335.9 1280.3 1336.1 1282.3 1336.3 1284.3 1336.5 1286.3 1336.6 1288.3 1336.8 1290.3 1337.0 1292.3 1337.2 1294.3 1337.3 1296.3 1337.5 1298.3 1337.7 1300.4 1337.8 1302.4 1338.0 1304.4 1338.2 1306.4 1338.3 1308.4 1338.5 1310.4 1338.7 1312.4 1338.8 1314.4 1339.0 1316.4 1339.1 1318.4 1339.3 1320.4 1339.4 1322.4 1339.6 1324.4 1339.8 1326.4 1339.9 1328.4 1340.1 1330.4 1340.2 1332.4 1340.4 1334.4 1340.5 1336.4 1340.6 1338.4 1340.8 1340.4 1340.9 1342.4 1341.1 1344.4 1341.2 1346.4 1341.4 1348.4 1341.5 1350.4 1341.6 1352.4 1341.8 1354.4 1341.9 1356.4 1342.0 1358.4 1342.2 1360.4 1342.3 1362.4 1342.4 1364.4 1342.6 1366.4 1342.7 1368.4 1342.8 1370.5 1343.0 1372.5 1343.1 1374.5 1343.2 1376.5 1343.3 1378.5 1343.5 1380.5 1343.6 1382.5 1343.7 1384.5 1343.8 1386.5 1344.0 1388.5 1344.1 1390.5 1344.2 1392.5 1344.3 1394.5 1344.4 1396.5 1344.5 1398.5 1344.6 1400.5 1344.8 1402.5 1344.9 1404.5 1345.0 1406.5 1345.1 1408.5 1345.2 1410.5 1345.3 1412.5 1345.4 1414.5 1345.5 1416.6 1345.6 1418.6 1345.7 1420.6 1345.8 1422.6 1345.9 1424.6 1346.0 1426.6 1346.1 1428.6 1346.2 1430.6 1346.3 1432.6 1346.4 1434.6 1346.5 1436.6 1346.6 1438.6 1346.7 1440.6 1346.8 1442.6 1346.9 1444.6 1347.0 1446.6 1347.1 1448.6 1347.2 1450.6 1347.3 1452.6 1347.4 1454.6 1347.5 1456.7 1347.6 1458.7 1347.6 1460.7 1347.7 1462.7 1347.8 1464.7 1347.9 1466.7 1348.0 1468.7 1348.1 1470.7 1348.1 1472.7 1348.2 1474.7 1348.3 1476.7 1348.4 1478.7 1348.5 1480.7 1348.5 1482.7 1348.6 1484.7 1348.7 1486.7 1348.8 1488.7 1348.8 1490.8 1348.9 1492.8 1349.0 1494.8 1349.1 1496.8 1349.1 1498.8 1349.2 1500.8 1349.3 1502.8 1349.4 1504.8 1349.4 1506.8 1349.5 1508.8 1349.6 1510.8 1349.6 1512.8 1349.7 1514.8 1349.8 1516.8 1349.8 1518.8 1349.9 1520.9 1350.0 1522.9 1350.0 1524.9 1350.1 1526.9 1350.1 1528.9 1350.2 1530.9 1350.3 1532.9 1350.3 1534.9 1350.4 1536.9 1350.5 1538.9 1350.5 1540.9 1350.6 1542.9 1350.6 1544.9 1350.7 1546.9 1350.7 1548.9 1350.8 1551.0 1350.8 1553.0 1350.9 1555.0 1351.0 1557.0 1351.0 1559.0 1351.1 1561.0 1351.1 1563.0 1351.2 1565.0 1351.2 1567.0 1351.3 1569.0 1351.3 1571.0 1351.4 1573.0 1351.4 1575.0 1351.5 1577.0 1351.5 1579.1 1351.6 1581.1 1351.6 1583.1 1351.7 1585.1 1351.7 1587.1 1351.7 1589.1 1351.8 1591.1 1351.8 1593.1 1351.9 1595.1 1351.9 1597.1 1352.0 1599.1 1352.0 1601.1 1352.0 1603.1 1352.1 1605.2 1352.1 1607.2 1352.2 1609.2 1352.2 1611.2 1352.2 1613.2 1352.3 1615.2 1352.3 1617.2 1352.4 1619.2 1352.4 1621.2 1352.4 1623.2 1352.5 1625.2 1352.5 1627.2 1352.5 1629.3 1352.6 1631.3 1352.6 1633.3 1352.7 1635.3 1352.7 1637.3 1352.7 1639.3 1352.8 1641.3 1352.8 1643.3 1352.8 1645.3 1352.9 1647.3 1352.9 1649.3 1352.9 1651.3 1353.0 1653.3 1353.0 1655.4 1353.0 1657.4 1353.1 1659.4 1353.1 1661.4 1353.1 1663.4 1353.1 1665.4 1353.2 1667.4 1353.2 1669.4 1353.2 1671.4 1353.3 1673.4 1353.3 1675.4 1353.3 1677.4 1353.3 1679.5 1353.4 1681.5 1353.4 1683.5 1353.4 1685.5 1353.5 1687.5 1353.5 1689.5 1353.5 1691.5 1353.5 1693.5 1353.6 1695.5 1353.6 1697.5 1353.6 1699.5 1353.6 1701.5 1353.7 1703.6 1353.7 1705.6 1353.7 1707.6 1353.7 1709.6 1353.8 1711.6 1353.8 1713.6 1353.8 1715.6 1353.8 1717.6 1353.9 1719.6 1353.9 1721.6 1353.9 1723.6 1353.9 1725.6 1353.9 1727.7 1354.0 1729.7 1354.0 1731.7 1354.0 1733.7 1354.0 1735.7 1354.1 1737.7 1354.1 1739.7 1354.1 1741.7 1354.1 1743.7 1354.2 1745.7 1354.2 1747.7 1354.2 1749.7 1354.2 1751.8 1354.2 1753.8 1354.3 1755.8 1354.3 1757.8 1354.3 1759.8 1354.3 1761.8 1354.3 1763.8 1354.4 1765.8 1354.4 1767.8 1354.4 1769.8 1354.4 1771.8 1354.5 1773.9 1354.5 1775.9 1354.5 1777.9 1354.5 1779.9 1354.5 1781.9 1354.6 1783.9 1354.6 1785.9 1354.6 1787.9 1354.6 1789.9 1354.6 1791.9 1354.7 1793.9 1354.7 1795.9 1354.7 1798.0 1354.7 1800.0 1354.7 1802.0 1354.8 1804.0 1354.8 1806.0 1354.8 1808.0 1354.8 1810.0 1354.9 1812.0 1354.9 1814.0 1354.9 1816.0 1354.9 1818.0 1354.9 1820.0 1355.0 1822.1 1355.0 1824.1 1355.0 1826.1 1355.0 1828.1 1355.0 1830.1 1355.1 1832.1 1355.1 1834.1 1355.1 1836.1 1355.1 1838.1 1355.2 1840.1 1355.2 1842.1 1355.2 1844.1 1355.2 1846.2 1355.3 1848.2 1355.3 1850.2 1355.3 1852.2 1355.3 1854.2 1355.3 1856.2 1355.4 1858.2 1355.4 1860.2 1355.4 1862.2 1355.4 1864.2 1355.5 1866.2 1355.5 1868.2 1355.5 1870.3 1355.5 1872.3 1355.6 1874.3 1355.6 1876.3 1355.6 1878.3 1355.6 1880.3 1355.7 1882.3 1355.7 1884.3 1355.7 1886.3 1355.8 1888.3 1355.8 1890.3 1355.8 1892.3 1355.8 1894.4 1355.9 1896.4 1355.9 1898.4 1355.9 1900.4 1356.0 1902.4 1356.0 1904.4 1356.0 1906.4 1356.0 1908.4 1356.1 1910.4 1356.1 1912.4 1356.1 1914.4 1356.2 1916.4 1356.2 1918.5 1356.2 1920.5 1356.3 1922.5 1356.3 1924.5 1356.3 1926.5 1356.4 1928.5 1356.4 1930.5 1356.4 1932.5 1356.5 1934.5 1356.5 1936.5 1356.5 1938.5 1356.6 1940.5 1356.6 1942.5 1356.6 1944.6 1356.7 1946.6 1356.7 1948.6 1356.8 1950.6 1356.8 1952.6 1356.8 1954.6 1356.9 1956.6 1356.9 1958.6 1357.0 1960.6 1357.0 1962.6 1357.0 1964.6 1357.1 1966.6 1357.1 1968.6 1357.2 1970.7 1357.2 1972.7 1357.2 1974.7 1357.3 1976.7 1357.3 1978.7 1357.4 1980.7 1357.4 1982.7 1357.5 1984.7 1357.5 1986.7 1357.6 1988.7 1357.6 1990.7 1357.7 1992.7 1357.7 1994.7 1357.7 1996.7 1357.8 1998.8 1357.8 2000.8 1357.9 2002.8 1357.9 2004.8 1358.0 2006.8 1358.1 2008.8 1358.1 2010.8 1358.2 2012.8 1358.2 2014.8 1358.3 2016.8 1358.3 2018.8 1358.4 2020.8 1358.4 2022.8 1358.5 2024.8 1358.5 2026.8 1358.6 2028.9 1358.7 2030.9 1358.7 2032.9 1358.8 2034.9 1358.8 2036.9 1358.9 2038.9 1359.0 2040.9 1359.0 2042.9 1359.1 2044.9 1359.1 2046.9 1359.2 2048.9 1359.3 2050.9 1359.3 2052.9 1359.4 2054.9 1359.5 2056.9 1359.5 2059.0 1359.6 2061.0 1359.7 2063.0 1359.7 2065.0 1359.8 2067.0 1359.9 2069.0 1360.0 2071.0 1360.0 2073.0 1360.1 2075.0 1360.2" stroke="#ff0000"/>
<path d="M300.7 691.9 302.6 692.7 304.5 693.4 306.5 694.2 308.4 695.1 310.4 695.9 312.3 696.8 314.2 697.7 316.1 698.7 318.0 699.7 319.8 700.7 321.6 701.8 323.4 703.0 325.0 704.2 326.7 705.5 328.2 706.9 329.7 708.4 331.1 709.9 332.4 711.5 333.7 713.1 334.9 714.8 336.1 716.5 337.3 718.3 338.4 720.1 339.4 722.0 340.5 723.9 341.5 725.8 342.4 727.7 343.4 729.6 344.3 731.5 345.2 733.5 346.1 735.4 347.0 737.4 347.9 739.3 348.8 741.2 349.6 743.2 350.4 745.1 351.3 747.1 352.1 749.0 352.9 751.0 353.6 753.0 354.4 754.9 355.2 756.9 355.9 758.8 356.7 760.8 357.4 762.8 358.1 764.7 358.8 766.7 359.5 768.7 360.2 770.6 360.9 772.6 361.5 774.6 362.2 776.6 362.8 778.6 363.5 780.5 364.1 782.5 364.7 784.5 365.3 786.5 365.9 788.5 366.5 790.5 367.1 792.5 367.6 794.5 368.2 796.5 368.8 798.5 369.3 800.5 369.9 802.5 370.4 804.5 370.9 806.5 371.5 808.5 372.0 810.5 372.5 812.5 373.0 814.6 373.5 816.6 374.0 818.6 374.5 820.6 374.9 822.6 375.4 824.7 375.9 826.7 376.4 828.7 376.8 830.8 377.3 832.8 377.7 834.9 378.2 836.9 378.6 838.9 379.1 841.0 379.5 843.0 379.9 845.1 380.4 847.1 380.8 849.2 381.2 851.3 381.7 853.3 382.1 855.4 382.5 857.5 382.9 859.5 383.3 861.6 383.7 863.7 384.2 865.7 384.6 867.8 385.0 869.9 385.4 872.0 385.8 874.1 386.2 876.1 386.7 878.2 387.1 880.3 387.5 882.4 387.9 884.5 388.4 886.5 388.8 888.6 389.3 890.7 389.7 892.8 390.2 894.9 390.6 896.9 391.1 899.0 391.6 901.1 392.1 903.1 392.5 905.2 393.0 907.3 393.6 909.3 394.1 911.4 394.6 913.4 395.2 915.5 395.7 917.5 396.3 919.5 396.8 921.6 397.4 923.6 398.0 925.6 398.7 927.6 399.3 929.6 399.9 931.6 400.6 933.6 401.3 935.6 402.0 937.6 402.7 939.5 403.4 941.5 404.2 943.4 404.9 945.4 405.7 947.3 406.5 949.2 407.3 951.2 408.2 953.1 409.0 955.0 409.9 956.9 410.8 958.7 411.8 960.6 412.7 962.5 413.7 964.3 414.7 966.1 415.7 968.0 416.8 969.8 417.8 971.6 418.9 973.3 420.0 975.1 421.2 976.9 422.4 978.6 423.6 980.3 424.8 982.0 426.1 983.7 427.5 985.3 428.9 986.9 430.4 988.4 432.0 989.8 433.6 991.1 435.4 992.4 437.2 993.6 439.1 994.7 441.1 995.6 443.1 996.3 445.1 996.8 447.2 997.2 449.2 997.2 451.2 996.9 453.2 996.4 455.2 995.7 457.1 994.8 458.9 993.7 460.8 992.5 462.5 991.2 464.3 989.8 465.9 988.4 467.5 986.9 469.1 985.4 470.6 983.9 472.0 982.3 473.5 980.7 474.8 979.1 476.1 977.5 477.4 975.8 478.6 974.1 479.8 972.4 480.9 970.7 482.1 968.9 483.1 967.2 484.2 965.4 485.2 963.5 486.1 961.7 487.1 959.8 488.0 958.0 488.9 956.1 489.7 954.2 490.6 952.3 491.4 950.3 492.2 948.4 492.9 946.4 493.7 944.5 494.4 942.5 495.2 940.5 495.9 938.6 496.6 936.6 497.3 934.6 498.0 932.6 498.7 930.6 499.4 928.6 500.1 926.6 500.7 924.6 501.4 922.6 502.1 920.6 502.8 918.6 503.5 916.6 504.1 914.6 504.8 912.6 505.5 910.6 506.1 908.6 506.8 906.6 507.5 904.6 508.1 902.6 508.8 900.6 509.5 898.6 510.1 896.6 510.8 894.6 511.4 892.6 512.1 890.6 512.7 888.6 513.4 886.6 514.0 884.6 514.6 882.6 515.3 880.6 515.9 878.6 516.5 876.6 517.2 874.6 517.8 872.6 518.4 870.6 519.0 868.6 519.7 866.6 520.3 864.6 520.9 862.6 521.5 860.6 522.1 858.6 522.7 856.6 523.3 854.5 523.9 852.5 524.5 850.5 525.1 848.5 525.7 846.5 526.3 844.5 526.9 842.5 527.5 840.5 528.1 838.5 528.7 836.4 529.2 834.4 529.8 832.4 530.4 830.4 531.0 828.4 531.5 826.4 532.1 824.3 532.6 822.3 533.2 820.3 533.8 818.3 534.3 816.3 534.9 814.2 535.4 812.2 536.0 810.2 536.5 808.2 537.0 806.2 537.6 804.1 538.1 802.1 538.6 800.1 539.2 798.0 539.7 796.0 540.2 794.0 540.7 792.0 541.2 789.9 541.7 787.9 542.2 785.9 542.8 783.8 543.3 781.8 543.8 779.8 544.2 777.7 544.7 775.7 545.2 773.7 545.7 771.6 546.2 769.6 546.7 767.5 547.2 765.5 547.6 763.5 548.1 761.4 548.6 759.4 549.1 757.3 549.5 755.3 550.0 753.2 550.5 751.2 550.9 749.2 551.4 747.1 551.8 745.1 552.3 743.0 552.7 741.0 553.2 738.9 553.6 736.9 554.1 734.8 554.5 732.8 554.9 730.7 555.4 728.7 555.8 726.6 556.3 724.6 556.7 722.5 557.1 720.5 557.6 718.4 558.0 716.4 558.4 714.3 558.8 712.2 559.2 710.2 559.7 708.1 560.1 706.1 560.5 704.0 560.9 702.0 561.3 699.9 561.7 697.9 562.2 695.8 562.6 693.7 563.0 691.7 563.4 689.6 563.8 687.6 564.2 685.5 564.6 683.4 565.0 681.4 565.4 679.3 565.8 677.3 566.2 675.2 566.6 673.1 567.0 671.1 567.4 669.0 567.8 667.0 568.2 664.9 568.6 662.8 569.0 660.8 569.4 658.7 569.8 656.7 570.2 654.6 570.5 652.5 570.9 650.5 571.3 648.4 571.7 646.4 572.1 644.3 572.5 642.2 572.9 640.2 573.3 638.1 573.7 636.0 574.0 634.0 574.4 631.9 574.8 629.9 575.2 627.8 575.6 625.7 576.0 623.7 576.4 621.6 576.7 619.5 577.1 617.5 577.5 615.4 577.9 613.4 578.3 611.3 578.7 609.2 579.1 607.2 579.4 605.1 579.8 603.0 580.2 601.0 580.6 598.9 581.0 596.9 581.4 594.8 581.8 592.7 582.1 590.7 582.5 588.6 582.9 586.6 583.3 584.5 583.7 582.4 584.1 580.4 584.4 578.3 584.8 576.3 585.2 574.2 585.6 572.1 586.0 570.1 586.4 568.0 586.7 565.9 587.1 563.9 587.5 561.8 587.9 559.8 588.3 557.7 588.7 555.6 589.1 553.6 589.4 551.5 589.8 549.5 590.2 547.4 590.6 545.3 591.0 543.3 591.3 541.2 591.7 539.2 592.1 537.1 592.5 535.0 592.9 533.0 593.3 530.9 593.6 528.9 594.0 526.8 594.4 524.7 594.8 522.7 595.2 520.6 595.6 518.6 595.9 516.5 596.3 514.4 596.7 512.4 597.1 510.3 597.5 508.3 597.8 506.2 598.2 504.1 598.6 502.1 599.0 500.0 599.4 498.0 599.8 495.9 600.1 493.8 600.5 491.8 600.9 489.7 601.3 487.6 601.7 485.6 602.0 483.5 602.4 481.5 602.8 479.4 603.2 477.3 603.6 475.3 603.9 473.2 604.3 471.2 604.7 469.1 605.1 467.0 605.5 465.0 605.8 462.9 606.2 460.9 606.6 458.8 607.0 456.7 607.4 454.7 607.7 452.6 608.1 450.5 608.5 448.5 608.9 446.4 609.2 444.4 609.6 442.3 610.0 440.2 610.4 438.2 610.8 436.1 611.1 434.1 611.5 432.0 611.9 429.9 612.3 427.9 612.6 425.8 613.0 423.7 613.4 421.7 613.8 419.6 614.2 417.6 614.5 415.5 614.9 413.4 615.3 411.4 615.7 409.3 616.0 407.2 616.4 405.2 616.8 403.1 617.2 401.1 617.5 399.0 617.9 396.9 618.3 394.9 618.7 392.8 619.1 390.7 619.4 388.7 619.8 386.6 620.2 384.6 620.6 382.5 620.9 380.4 621.3 378.4 621.7 376.3 622.1 374.2 622.4 372.2 622.8 370.1 623.2 368.0 623.5 366.0 623.9 363.9 624.3 361.9 624.7 359.8 625.0 357.7 625.4 355.7 625.8 353.6 626.2 351.5 626.5 349.5 626.9 347.4 627.3 345.3 627.7 343.3 628.0 341.2 628.4 339.1 628.8 337.1 629.1 335.0 629.5 332.9 629.9 330.9 630.3 328.8 630.6 326.7 631.0 324.7 631.4 322.6 631.8 320.5 632.1 318.5 632.5 316.4 632.9 314.3 633.2 312.3 633.6 310.2 634.0 308.1 634.3 306.1 634.7 304.0 635.1 301.9 635.5 299.9 635.8 297.8 636.2 295.7 636.6 293.7 637.0 291.6 637.3 289.5 637.7 287.5 638.1 285.4 638.5 283.3 638.9 281.3 639.3 279.2 639.7 277.1 640.0 275.1 640.4 273.0 640.8 270.9 641.2 268.9 641.6 266.8 642.0 264.8 642.4 262.7 642.9 260.6 643.3 258.6 643.7 256.5 644.1 254.5 644.5 252.4 645.0 250.4 645.4 248.3 645.8 246.3 646.3 244.2 646.7 242.2 647.2 240.1 647.6 238.1 648.1 236.0 648.5 234.0 649.0 231.9 649.5 229.9 649.9 227.8 650.4 225.8 650.9 223.8 651.4 221.7 651.9 219.7 652.4 217.6 652.9 215.6 653.4 213.6 654.0 211.5 654.5 209.5 655.0 207.5 655.6 205.5 656.1 203.4 656.7 201.4 657.2 199.4 657.8 197.4 658.4 195.4 658.9 193.4 659.5 191.3 660.1 189.3 660.7 187.3 661.4 185.3 662.0 183.3 662.6 181.3 663.2 179.3 663.9 177.3 664.5 175.3 665.2 173.3 665.9 171.3 666.6 169.4 667.3 167.4 668.0 165.4 668.7 163.4 669.4 161.4 670.1 159.5 670.8 157.5 671.6 155.5 672.3 153.5 673.1 151.6 673.9 149.6 674.7 147.7 675.5 145.7 676.3 143.8 677.1 141.8 678.0 139.9 678.9 138.0 679.8 136.1 680.7 134.3 681.7 132.4 682.8 130.7 683.8 128.9 685.0 127.2 686.2 125.5 687.5 123.9 688.8 122.4 690.2 120.9 691.7 119.4 693.2 118.1 694.9 116.8 696.6 115.6 698.4 114.4 700.3 113.3 702.2 112.3 704.1 111.3 706.0 110.4 708.0 109.5 709.9 108.7 711.7 107.9 713.6 107.3 715.5 106.8 717.5 106.6 719.6 106.6 721.7 106.7 723.8 106.9 726.0 107.3 728.1 107.8 730.2 108.5 732.1 109.4 733.9 110.4 735.5 111.7 737.0 113.1 738.3 114.6 739.5 116.3 740.6 118.0 741.6 119.9 742.6 121.8 743.5 123.7 744.4 125.7 745.2 127.7 746.0 129.7 746.7 131.6 747.4 133.6 748.1 135.6 748.8 137.6 749.4 139.6 750.1 141.6 750.6 143.6 751.2 145.6 751.8 147.6 752.3 149.7 752.8 151.7 753.3 153.7 753.7 155.7 754.2 157.8 754.6 159.8 755.0 161.8 755.4 163.9 755.8 165.9 756.2 168.0 756.6 170.0 756.9 172.0 757.3 174.1 757.6 176.1 757.9 178.2 758.3 180.2 758.6 182.3 758.9 184.4 759.2 186.4 759.5 188.5 759.8 190.5 760.1 192.6 760.4 194.7 760.7 196.7 761.1 198.8 761.4 200.8 761.7 202.9 762.0 205.0 762.3 207.0 762.7 209.1 763.0 211.1 763.3 213.2 763.7 215.3 764.0 217.3 764.4 219.4 764.7 221.5 765.1 223.5 765.4 225.6 765.8 227.7 766.1 229.7 766.5 231.8 766.8 233.9 767.2 235.9 767.5 238.0 767.9 240.1 768.3 242.1 768.6 244.2 769.0 246.3 769.4 248.3 769.8 250.4 770.1 252.5 770.5 254.5 770.9 256.6 771.3 258.7 771.6 260.7 772.0 262.8 772.4 264.9 772.8 266.9 773.2 269.0 773.6 271.1 774.0 273.1 774.3 275.2 774.7 277.3 775.1 279.3 775.5 281.4 775.9 283.5 776.3 285.5 776.7 287.6 777.1 289.7 777.5 291.7 777.9 293.8 778.3 295.9 778.7 297.9 779.1 300.0 779.5 302.0 779.9 304.1 780.3 306.2 780.7 308.2 781.1 310.3 781.5 312.4 781.9 314.4 782.3 316.5 782.7 318.5 783.1 320.6 783.5 322.7 783.9 324.7 784.3 326.8 784.7 328.9 785.1 330.9 785.5 333.0 785.9 335.0 786.3 337.1 786.7 339.2 787.1 341.2 787.5 343.3 787.9 345.3 788.3 347.4 788.7 349.5 789.1 351.5 789.5 353.6 789.9 355.6 790.3 357.7 790.7 359.8 791.2 361.8 791.6 363.9 792.0 365.9 792.4 368.0 792.8 370.0 793.2 372.1 793.6 374.2 794.0 376.2 794.4 378.3 794.8 380.3 795.2 382.4 795.6 384.5 796.1 386.5 796.5 388.6 796.9 390.6 797.3 392.7 797.7 394.7 798.1 396.8 798.5 398.9 798.9 400.9 799.3 403.0 799.7 405.0 800.1 407.1 800.5 409.2 801.0 411.2 801.4 413.3 801.8 415.3 802.2 417.4 802.6 419.4 803.0 421.5 803.4 423.6 803.8 425.6 804.2 427.7 804.6 429.7 805.0 431.8 805.4 433.8 805.8 435.9 806.2 438.0 806.6 440.0 807.0 442.1 807.5 444.1 807.9 446.2 808.3 448.3 808.7 450.3 809.1 452.4 809.5 454.4 809.9 456.5 810.3 458.5 810.7 460.6 811.1 462.7 811.5 464.7 811.9 466.8 812.3 468.8 812.7 470.9 813.1 473.0 813.5 475.0 813.9 477.1 814.3 479.1 814.7 481.2 815.1 483.2 815.5 485.3 815.8 487.4 816.2 489.4 816.6 491.5 817.0 493.5 817.4 495.6 817.8 497.7 818.2 499.7 818.6 501.8 819.0 503.8 819.4 505.9 819.8 508.0 820.1 510.0 820.5 512.1 820.9 514.1 821.3 516.2 821.7 518.3 822.1 520.3 822.5 522.4 822.8 524.5 823.2 526.5 823.6 528.6 824.0 530.6 824.4 532.7 824.7 534.8 825.1 536.8 825.5 538.9 825.9 541.0 826.2 543.0 826.6 545.1 827.0 547.1 827.4 549.2 827.7 551.3 828.1 553.3 828.5 555.4 828.9 557.5 829.2 559.5 829.6 561.6 830.0 563.7 830.3 565.7 830.7 567.8 831.1 569.9 831.4 571.9 831.8 574.0 832.2 576.0 832.5 578.1 832.9 580.2 833.2 582.2 833.6 584.3 834.0 586.4 834.3 588.4 834.7 590.5 835.0 592.6 835.4 594.6 835.8 596.7 836.1 598.8 836.5 600.8 836.8 602.9 837.2 605.0 837.5 607.0 837.9 609.1 838.2 611.2 838.6 613.3 839.0 615.3 839.3 617.4 839.7 619.5 840.0 621.5 840.4 623.6 840.7 625.7 841.1 627.7 841.4 629.8 841.7 631.9 842.1 633.9 842.4 636.0 842.8 638.1 843.1 640.1 843.5 642.2 843.8 644.3 844.2 646.4 844.5 648.4 844.9 650.5 845.2 652.6 845.5 654.6 845.9 656.7 846.2 658.8 846.6 660.8 846.9 662.9 847.2 665.0 847.6 667.1 847.9 669.1 848.2 671.2 848.6 673.3 848.9 675.3 849.3 677.4 849.6 679.5 849.9 681.6 850.3 683.6 850.6 685.7 850.9 687.8 851.3 689.8 851.6 691.9 851.9 694.0 852.3 696.1 852.6 698.1 852.9 700.2 853.3 702.3 853.6 704.3 853.9 706.4 854.2 708.5 854.6 710.6 854.9 712.6 855.2 714.7 855.6 716.8 855.9 718.9 856.2 720.9 856.5 723.0 856.9 725.1 857.2 727.1 857.5 729.2 857.8 731.3 858.2 733.4 858.5 735.4 858.8 737.5 859.1 739.6 859.5 741.7 859.8 743.7 860.1 745.8 860.4 747.9 860.7 750.0 861.1 752.0 861.4 754.1 861.7 756.2 862.0 758.3 862.3 760.3 862.7 762.4 863.0 764.5 863.3 766.5 863.6 768.6 863.9 770.7 864.3 772.8 864.6 774.8 864.9 776.9 865.2 779.0 865.5 781.1 865.8 783.1 866.2 785.2 866.5 787.3 866.8 789.4 867.1 791.4 867.4 793.5 867.7 795.6 868.0 797.7 868.4 799.7 868.7 801.8 869.0 803.9 869.3 806.0 869.6 808.0 869.9 810.1 870.2 812.2 870.6 814.3 870.9 816.3 871.2 818.4 871.5 820.5 871.8 822.6 872.1 824.6 872.4 826.7 872.7 828.8 873.1 830.9 873.4 832.9 873.7 835.0 874.0 837.1 874.3 839.2 874.6 841.2 874.9 843.3 875.2 845.4 875.5 847.5 875.8 849.6 876.2 851.6 876.5 853.7 876.8 855.8 877.1 857.9 877.4 859.9 877.7 862.0 878.0 864.1 878.3 866.2 878.6 868.2 878.9 870.3 879.2 872.4 879.5 874.5 879.9 876.5 880.2 878.6 880.5 880.7 880.8 882.8 881.1 884.8 881.4 886.9 881.7 889.0 882.0 891.1 882.3 893.1 882.6 895.2 882.9 897.3 883.2 899.4 883.5 901.4 883.8 903.5 884.2 905.6 884.5 907.7 884.8 909.8 885.1 911.8 885.4 913.9 885.7 916.0 886.0 918.1 886.3 920.1 886.6 922.2 886.9 924.3 887.2 926.4 887.5 928.4 887.8 930.5 888.1 932.6 888.4 934.7 888.8 936.7 889.1 938.8 889.4 940.9 889.7 943.0 890.0 945.0 890.3 947.1 890.6 949.2 890.9 951.3 891.2 953.3 891.5 955.4 891.8 957.5 892.1 959.6 892.4 961.6 892.7 963.7 893.1 965.8 893.4 967.9 893.7 969.9 894.0 972.0 894.3 974.1 894.6 976.2 894.9 978.2 895.2 980.3 895.5 982.4 895.8 984.5 896.1 986.5 896.4 988.6 896.7 990.7 897.1 992.8 897.4 994.8 897.7 996.9 898.0 999.0 898.3 1001.1 898.6 1003.1 898.9 1005.2 899.3 1007.3 899.6 1009.3 899.9 1011.4 900.2 1013.5 900.6 1015.6 900.9 1017.6 901.2 1019.7 901.6 1021.8 901.9 1023.8 902.3 1025.9 902.6 1028.0 903.0 1030.0 903.4 1032.1 903.8 1034.1 904.1 1036.2 904.5 1038.3 904.9 1040.3 905.3 1042.4 905.7 1044.4 906.1 1046.5 906.5 1048.5 907.0 1050.6 907.4 1052.6 907.8 1054.7 908.3 1056.7 908.8 1058.7 909.2 1060.8 909.7 1062.8 910.2 1064.9 910.7 1066.9 911.2 1068.9 911.7 1071.0 912.2 1073.0 912.8 1075.0 913.3 1077.0 913.9 1079.1 914.4 1081.1 915.0 1083.1 915.6 1085.1 916.2 1087.1 916.8 1089.1 917.5 1091.1 918.1 1093.1 918.8 1095.1 919.4 1097.1 920.1 1099.1 920.8 1101.1 921.5 1103.1 922.2 1105.1 923.0 1107.1 923.7 1109.1 924.5 1111.0 925.3 1113.0 926.1 1115.0 926.9 1116.9 927.7 1118.9 928.6 1120.8 929.4 1122.8 930.3 1124.7 931.2 1126.6 932.1 1128.5 933.1 1130.4 934.0 1132.3 935.0 1134.2 936.0 1136.0 937.1 1137.9 938.1 1139.7 939.2 1141.5 940.2 1143.3 941.4 1145.1 942.5 1146.9 943.7 1148.6 944.8 1150.3 946.0 1152.0 947.3 1153.7 948.5 1155.3 949.8 1157.0 951.1 1158.6 952.4 1160.2 953.8 1161.7 955.2 1163.3 956.6 1164.8 958.0 1166.3 959.4 1167.8 960.9 1169.3 962.3 1170.7 963.8 1172.2 965.3 1173.6 966.9 1175.0 968.4 1176.4 970.0 1177.8 971.5 1179.1 973.1 1180.5 974.7 1181.8 976.4 1183.1 978.0 1184.4 979.6 1185.7 981.3 1187.0 983.0 1188.2 984.7 1189.5 986.4 1190.7 988.1 1192.0 989.8 1193.2 991.5 1194.4 993.2 1195.6 995.0 1196.8 996.7 1198.0 998.5 1199.2 1000.2 1200.4 1002.0 1201.5 1003.8 1202.7 1005.5 1203.9 1007.3 1205.0 1009.1 1206.2 1010.9 1207.3 1012.7 1208.4 1014.5 1209.6 1016.3 1210.7 1018.0 1211.8 1019.8 1213.0 1021.6 1214.1 1023.4 1215.2 1025.2 1216.3 1027.0 1217.4 1028.8 1218.5 1030.6 1219.7 1032.4 1220.8 1034.2 1221.9 1036.0 1223.0 1037.8 1224.0 1039.6 1225.1 1041.5 1226.2 1043.3 1227.3 1045.1 1228.4 1046.9 1229.5 1048.7 1230.5 1050.5 1231.6 1052.3 1232.7 1054.2 1233.7 1056.0 1234.8 1057.8 1235.8 1059.6 1236.9 1061.4 1237.9 1063.3 1239.0 1065.1 1240.0 1066.9 1241.0 1068.8 1242.1 1070.6 1243.1 1072.4 1244.1 1074.3 1245.1 1076.1 1246.1 1078.0 1247.2 1079.8 1248.2 1081.6 1249.2 1083.5 1250.2 1085.3 1251.1 1087.2 1252.1 1089.0 1253.1 1090.9 1254.1 1092.8 1255.1 1094.6 1256.0 1096.5 1257.0 1098.3 1258.0 1100.2 1258.9 1102.1 1259.9 1103.9 1260.8 1105.8 1261.7 1107.7 1262.7 1109.6 1263.6 1111.5 1264.5 1113.3 1265.5 1115.2 1266.4 1117.1 1267.3 1119.0 1268.2 1120.9 1269.1 1122.8 1270.0 1124.7 1270.9 1126.6 1271.8 1128.5 1272.6 1130.4 1273.5 1132.3 1274.4 1134.2 1275.2 1136.1 1276.1 1138.0 1277.0 1139.9 1277.8 1141.9 1278.6 1143.8 1279.5 1145.7 1280.3 1147.6 1281.1 1149.6 1282.0 1151.5 1282.8 1153.4 1283.6 1155.4 1284.4 1157.3 1285.2 1159.2 1286.0 1161.2 1286.8 1163.1 1287.6 1165.1 1288.3 1167.0 1289.1 1169.0 1289.9 1170.9 1290.6 1172.9 1291.4 1174.8 1292.1 1176.8 1292.9 1178.7 1293.6 1180.7 1294.4 1182.7 1295.1 1184.6 1295.8 1186.6 1296.5 1188.6 1297.2 1190.5 1298.0 1192.5 1298.7 1194.5 1299.4 1196.5 1300.0 1198.4 1300.7 1200.4 1301.4 1202.4 1302.1 1204.4 1302.7 1206.4 1303.4 1208.4 1304.1 1210.4 1304.7 1212.4 1305.4 1214.3 1306.0 1216.3 1306.6 1218.3 1307.3 1220.3 1307.9 1222.3 1308.5 1224.3 1309.1 1226.3 1309.7 1228.4 1310.3 1230.4 1310.9 1232.4 1311.5 1234.4 1312.1 1236.4 1312.7 1238.4 1313.2 1240.4 1313.8 1242.4 1314.4 1244.5 1314.9 1246.5 1315.5 1248.5 1316.0 1250.5 1316.5 1252.6 1317.1 1254.6 1317.6 1256.6 1318.1 1258.6 1318.6 1260.7 1319.1 1262.7 1319.6 1264.7 1320.1 1266.8 1320.6 1268.8 1321.1 1270.8 1321.6 1272.9 1322.0 1274.9 1322.5 1277.0 1323.0 1279.0 1323.4 1281.0 1323.9 1283.1 1324.3 1285.1 1324.7 1287.2 1325.2 1289.2 1325.6 1291.3 1326.0 1293.3 1326.4 1295.4 1326.8 1297.4 1327.2 1299.5 1327.6 1301.5 1328.0 1303.6 1328.4 1305.7 1328.8 1307.7 1329.1 1309.8 1329.5 1311.8 1329.9 1313.9 1330.2 1316.0 1330.6 1318.0 1330.9 1320.1 1331.2 1322.1 1331.6 1324.2 1331.9 1326.3 1332.2 1328.3 1332.5 1330.4 1332.8 1332.5 1333.1 1334.6 1333.4 1336.6 1333.7 1338.7 1334.0 1340.8 1334.3 1342.8 1334.5 1344.9 1334.8 1347.0 1335.1 1349.1 1335.3 1351.1 1335.6 1353.2 1335.8 1355.3 1336.1 1357.4 1336.3 1359.5 1336.6 1361.5 1336.8 1363.6 1337.0 1365.7 1337.2 1367.8 1337.5 1369.9 1337.7 1372.0 1337.9 1374.0 1338.1 1376.1 1338.3 1378.2 1338.5 1380.3 1338.7 1382.4 1338.9 1384.5 1339.0 1386.6 1339.2 1388.7 1339.4 1390.8 1339.6 1392.8 1339.7 1394.9 1339.9 1397.0 1340.1 1399.1 1340.2 1401.2 1340.4 1403.3 1340.5 1405.4 1340.7 1407.5 1340.8 1409.6 1340.9 1411.7 1341.1 1413.8 1341.2 1415.9 1341.3 1418.0 1341.5 1420.1 1341.6 1422.2 1341.7 1424.3 1341.8 1426.4 1341.9 1428.5 1342.0 1430.6 1342.2 1432.7 1342.3 1434.8 1342.4 1436.9 1342.5 1439.0 1342.6 1441.1 1342.7 1443.2 1342.7 1445.3 1342.8 1447.4 1342.9 1449.5 1343.0 1451.6 1343.1 1453.7 1343.2 1455.8 1343.3 1457.9 1343.3 1460.0 1343.4 1462.1 1343.5 1464.2 1343.5 1466.3 1343.6 1468.4 1343.7 1470.6 1343.7 1472.7 1343.8 1474.8 1343.9 1476.9 1343.9 1479.0 1344.0 1481.1 1344.0 1483.2 1344.1 1485.3 1344.2 1487.4 1344.2 1489.5 1344.3 1491.6 1344.3 1493.7 1344.4 1495.8 1344.4 1497.9 1344.5 1500.1 1344.5 1502.2 1344.6 1504.3 1344.6 1506.4 1344.6 1508.5 1344.7 1510.6 1344.7 1512.7 1344.8 1514.8 1344.8 1516.9 1344.8 1519.0 1344.9 1521.1 1344.9 1523.3 1345.0 1525.4 1345.0 1527.5 1345.0 1529.6 1345.1 1531.7 1345.1 1533.8 1345.2 1535.9 1345.2 1538.0 1345.2 1540.1 1345.3 1542.2 1345.3 1544.3 1345.3 1546.4 1345.4 1548.5 1345.4 1550.7 1345.5 1552.8 1345.5 1554.9 1345.5 1557.0 1345.6 1559.1 1345.6 1561.2 1345.7 1563.3 1345.7 1565.4 1345.7 1567.5 1345.8 1569.6 1345.8 1571.7 1345.9 1573.8 1345.9 1575.9 1346.0 1578.0 1346.0 1580.1 1346.1 1582.2 1346.1 1584.3 1346.2 1586.4 1346.2 1588.5 1346.3 1590.7 1346.3 1592.8 1346.4 1594.9 1346.4 1597.0 1346.5 1599.1 1346.5 1601.2 1346.6 1603.3 1346.6 1605.4 1346.7 1607.5 1346.8 1609.6 1346.8 1611.7 1346.9 1613.8 1346.9 1615.9 1347.0 1618.0 1347.1 1620.1 1347.1 1622.2 1347.2 1624.3 1347.2 1626.4 1347.3 1628.5 1347.4 1630.6 1347.4 1632.7 1347.5 1634.8 1347.6 1636.9 1347.6 1639.0 1347.7 1641.1 1347.8 1643.2 1347.8 1645.2 1347.9 1647.3 1348.0 1649.4 1348.0 1651.5 1348.1 1653.6 1348.2 1655.7 1348.2 1657.8 1348.3 1659.9 1348.4 1662.0 1348.5 1664.1 1348.5 1666.2 1348.6 1668.3 1348.7 1670.4 1348.7 1672.5 1348.8 1674.6 1348.9 1676.7 1349.0 1678.8 1349.0 1680.9 1349.1 1683.0 1349.2 1685.1 1349.2 1687.2 1349.3 1689.3 1349.4 1691.4 1349.5 1693.4 1349.5 1695.5 1349.6 1697.6 1349.7 1699.7 1349.8 1701.8 1349.8 1703.9 1349.9 1706.0 1350.0 1708.1 1350.1 1710.2 1350.1 1712.3 1350.2 1714.4 1350.3 1716.5 1350.4 1718.6 1350.5 1720.7 1350.5 1722.7 1350.6 1724.8 1350.7 1726.9 1350.8 1729.0 1350.8 1731.1 1350.9 1733.2 1351.0 1735.3 1351.1 1737.4 1351.1 1739.5 1351.2 1741.6 1351.3 1743.7 1351.4 1745.8 1351.4 1747.9 1351.5 1749.9 1351.6 1752.0 1351.7 1754.1 1351.7 1756.2 1351.8 1758.3 1351.9 1760.4 1352.0 1762.5 1352.0 1764.6 1352.1 1766.7 1352.2 1768.8 1352.3 1770.9 1352.3 1773.0 1352.4 1775.0 1352.5 1777.1 1352.6 1779.2 1352.6 1781.3 1352.7 1783.4 1352.8 1785.5 1352.8 1787.6 1352.9 1789.7 1353.0 1791.8 1353.1 1793.9 1353.1 1796.0 1353.2 1798.0 1353.3 1800.1 1353.3 1802.2 1353.4 1804.3 1353.5 1806.4 1353.5 1808.5 1353.6 1810.6 1353.7 1812.7 1353.7 1814.8 1353.8 1816.9 1353.9 1819.0 1353.9 1821.0 1354.0 1823.1 1354.1 1825.2 1354.1 1827.3 1354.2 1829.4 1354.2 1831.5 1354.3 1833.6 1354.4 1835.7 1354.4 1837.8 1354.5 1839.9 1354.6 1842.0 1354.6 1844.1 1354.7 1846.1 1354.7 1848.2 1354.8 1850.3 1354.8 1852.4 1354.9 1854.5 1354.9 1856.6 1355.0 1858.7 1355.1 1860.8 1355.1 1862.9 1355.2 1865.0 1355.2 1867.1 1355.3 1869.2 1355.3 1871.2 1355.4 1873.3 1355.4 1875.4 1355.5 1877.5 1355.5 1879.6 1355.5 1881.7 1355.6 1883.8 1355.6 1885.9 1355.7 1888.0 1355.7 1890.1 1355.8 1892.2 1355.8 1894.3 1355.8 1896.4 1355.9 1898.5 1355.9 1900.6 1356.0 1902.6 1356.0 1904.7 1356.0 1906.8 1356.1 1908.9 1356.1 1911.0 1356.1 1913.1 1356.2 1915.2 1356.2 1917.3 1356.2 1919.4 1356.2 1921.5 1356.3 1923.6 1356.3 1925.7 1356.3 1927.8 1356.3 1929.9 1356.4 1932.0 1356.4 1934.1 1356.4 1936.2 1356.4 1938.3 1356.4 1940.4 1356.5 1942.5 1356.5 1944.6 1356.5 1946.7 1356.5 1948.8 1356.5 1950.8 1356.5 1952.9 1356.5 1955.0 1356.5 1957.1 1356.5 1959.2 1356.5 1961.3 1356.5 1963.4 1356.6 1965.5 1356.6 1967.6 1356.6 1969.7 1356.6 1971.8 1356.6 1973.9 1356.5 1976.0 1356.5 1978.1 1356.5 1980.2 1356.5 1982.3 1356.5 1984.4 1356.5 1986.5 1356.5 1988.6 1356.5 1990.7 1356.5 1992.8 1356.5 1994.9 1356.4 1997.0 1356.4 1999.1 1356.4 2001.2 1356.4 2003.4 1356.3 2005.5 1356.3 2007.6 1356.3 2009.7 1356.3 2011.8 1356.2 2013.9 1356.2 2016.0 1356.2 2018.1 1356.1 2020.2 1356.1 2022.3 1356.1 2024.4 1356.0 2026.5 1356.0 2028.6 1355.9 2030.7 1355.9 2032.8 1355.9 2034.9 1355.8 2037.0 1355.8 2039.1 1355.7 2041.2 1355.7 2043.4 1355.6 2045.5 1355.5 2047.6 1355.5 2049.7 1355.4 2051.8 1355.4 2053.9 1355.3 2056.0 1355.2 2058.1 1355.2 2060.2 1355.1 2062.3 1355.0 2064.4 1355.0 2066.6 1354.9 2068.7 1354.8 2070.8 1354.7 2072.9 1354.6 2075.0 1354.6" stroke="#0000ff"/>
</g></g>
<rect x="1707.6" y="201.95" width="154.7" height="12.7" rx="5.5" ry="6.35" fill="#000000"/>
<text transform="matrix(0.3083,0,0,0.3553,1870.05,232.90)" font-weight="normal">P1</text>
<rect x="1707.6" y="303.95" width="154.7" height="12.7" rx="5.5" ry="6.35" fill="#ff0000"/>
<text transform="matrix(0.3144,0,0,0.3540,1870.01,334.90)" font-weight="normal">P2</text>
<rect x="1707.6" y="405.95" width="154.7" height="12.7" rx="5.5" ry="6.35" fill="#0000ff"/>
<text transform="matrix(0.3096,0,0,0.3546,1870.04,436.99)" font-weight="normal">P3</text>
<text transform="matrix(0.3600,0,0,0.4160,923.10,1818.70)" x="-9.58 181.58 275.42 382.67 474.5 534.47 628.67 745.61 841.86 908.92 1020.15 1069.25 1131.72 1243.11 1403.86" y="0">Wavelength (nm)</text>
<text transform="matrix(0.3980,0,0,0.4290,1023.80,1931.40)" x="-9.12 58.88 164.23" y="0" font-weight="normal">(<tspan font-weight="bold" font-size="206">a</tspan>)</text>
<text transform="matrix(0,-0.3600,0.4125,0,121.10,1539.20)"><tspan x="-2.36 172.11 304.67 401.94 517.22 609.06 737.14 816.92 887.5 1007.69 1118.93" y="0">Absorption </tspan><tspan x="1193.11 1293.61 1418.64 1528.47 1614.44 1694.14 1762.56 1864.14 1936.97 2044.36 2173.94 2240.55" y="0">coefficient </tspan><tspan x="2303.51" y="0" font-weight="normal" font-size="157">(</tspan><tspan x="2355.58 2467.64" y="0">10</tspan><tspan x="2574.94 2674.94" y="-87.27">4 </tspan><tspan x="2733.67 2867.07" y="0">L </tspan><tspan x="2927.28 3124.58 3247.69" y="0">mol</tspan><tspan x="3314.97 3384.61" y="-87.27">-1</tspan><tspan x="3495.89 3594.64" y="0">cm</tspan><tspan x="3787.19 3854.75" y="-87.27">-1</tspan><tspan x="3968.33" y="0" font-weight="normal" font-size="157">)</tspan></text>
</g>
<g id="chart-b">
<path d="M300.70 1997.60H2076.60V3530.80H300.70Z" fill="none" stroke="#000" stroke-width="11.0" stroke-linejoin="round" transform="translate(0,0)"/>
<rect x="295.20" y="1991.25" width="1786.90" height="12.7" rx="2" ry="2"/>
<rect x="295.20" y="3524.45" width="1786.90" height="12.7" rx="2" ry="2"/>
<rect x="268.50" y="3524.45" width="32.20" height="12.7" rx="5.5" ry="6.35"/>
<rect x="268.50" y="3232.29" width="32.20" height="12.7" rx="5.5" ry="6.35"/>
<rect x="268.50" y="2940.13" width="32.20" height="12.7" rx="5.5" ry="6.35"/>
<rect x="268.50" y="2647.97" width="32.20" height="12.7" rx="5.5" ry="6.35"/>
<rect x="268.50" y="2355.81" width="32.20" height="12.7" rx="5.5" ry="6.35"/>
<rect x="268.50" y="2063.65" width="32.20" height="12.7" rx="5.5" ry="6.35"/>
<rect x="281.70" y="3378.37" width="19.00" height="12.7" rx="5.5" ry="6.35"/>
<rect x="281.70" y="3086.21" width="19.00" height="12.7" rx="5.5" ry="6.35"/>
<rect x="281.70" y="2794.05" width="19.00" height="12.7" rx="5.5" ry="6.35"/>
<rect x="281.70" y="2501.89" width="19.00" height="12.7" rx="5.5" ry="6.35"/>
<rect x="281.70" y="2209.73" width="19.00" height="12.7" rx="5.5" ry="6.35"/>
<rect x="456.65" y="3530.80" width="11.0" height="36.90" rx="5.5" ry="6.35"/>
<rect x="779.54" y="3530.80" width="11.0" height="36.90" rx="5.5" ry="6.35"/>
<rect x="1102.43" y="3530.80" width="11.0" height="36.90" rx="5.5" ry="6.35"/>
<rect x="1425.32" y="3530.80" width="11.0" height="36.90" rx="5.5" ry="6.35"/>
<rect x="1748.21" y="3530.80" width="11.0" height="36.90" rx="5.5" ry="6.35"/>
<rect x="2071.10" y="3530.80" width="11.0" height="36.90" rx="5.5" ry="6.35"/>
<rect x="295.20" y="3530.80" width="11.0" height="22.00" rx="5.5" ry="6.35"/>
<rect x="618.09" y="3530.80" width="11.0" height="22.00" rx="5.5" ry="6.35"/>
<rect x="940.98" y="3530.80" width="11.0" height="22.00" rx="5.5" ry="6.35"/>
<rect x="1263.87" y="3530.80" width="11.0" height="22.00" rx="5.5" ry="6.35"/>
<rect x="1586.76" y="3530.80" width="11.0" height="22.00" rx="5.5" ry="6.35"/>
<rect x="1909.65" y="3530.80" width="11.0" height="22.00" rx="5.5" ry="6.35"/>
<text transform="matrix(0.2247,0,0,0.2654,201.71,3539.90)">0.0</text>
<text transform="matrix(0.2256,0,0,0.2654,201.71,3247.74)">0.2</text>
<text transform="matrix(0.2209,0,0,0.2654,201.74,2955.58)">0.4</text>
<text transform="matrix(0.2233,0,0,0.2654,201.73,2663.42)">0.6</text>
<text transform="matrix(0.2237,0,0,0.2654,201.72,2371.26)">0.8</text>
<text transform="matrix(0.2331,0,0,0.2654,199.67,2079.10)">1.0</text>
<text transform="matrix(0.2302,0,0,0.2674,427.62,3617.87)">300</text>
<text transform="matrix(0.2262,0,0,0.2674,751.67,3617.87)">400</text>
<text transform="matrix(0.2306,0,0,0.2674,1073.28,3617.87)">500</text>
<text transform="matrix(0.2298,0,0,0.2674,1396.41,3617.87)">600</text>
<text transform="matrix(0.2335,0,0,0.2674,1718.22,3617.87)">700</text>
<text transform="matrix(0.2294,0,0,0.2674,2042.31,3617.87)">800</text>
<clipPath id="clipB"><rect x="299.90" y="1997.60" width="1778.10" height="1534.20"/></clipPath>
<g clip-path="url(#clipB)"><g fill="none" stroke-width="11.4" stroke-linejoin="round" transform="scale(1,1.16)">
<path d="M300.7 2069.0 301.2 2070.9 301.7 2072.9 302.1 2074.9 302.6 2076.9 303.0 2078.9 303.5 2080.9 303.9 2082.8 304.4 2084.8 304.8 2086.8 305.2 2088.8 305.7 2090.7 306.1 2092.7 306.5 2094.7 306.9 2096.6 307.3 2098.6 307.7 2100.6 308.1 2102.5 308.5 2104.5 308.9 2106.5 309.3 2108.4 309.7 2110.4 310.0 2112.4 310.4 2114.3 310.8 2116.3 311.2 2118.2 311.5 2120.2 311.9 2122.2 312.2 2124.1 312.6 2126.1 313.0 2128.0 313.3 2130.0 313.7 2131.9 314.0 2133.9 314.4 2135.8 314.7 2137.8 315.1 2139.7 315.4 2141.7 315.8 2143.6 316.1 2145.6 316.4 2147.5 316.8 2149.5 317.1 2151.4 317.5 2153.4 317.8 2155.3 318.1 2157.3 318.5 2159.2 318.8 2161.2 319.2 2163.1 319.5 2165.0 319.8 2167.0 320.2 2168.9 320.5 2170.9 320.9 2172.8 321.2 2174.8 321.6 2176.7 321.9 2178.6 322.3 2180.6 322.6 2182.5 323.0 2184.5 323.3 2186.4 323.7 2188.4 324.0 2190.3 324.4 2192.2 324.8 2194.2 325.1 2196.1 325.5 2198.1 325.9 2200.0 326.3 2201.9 326.6 2203.9 327.0 2205.8 327.4 2207.8 327.8 2209.7 328.2 2211.6 328.6 2213.6 329.0 2215.5 329.4 2217.5 329.8 2219.4 330.2 2221.4 330.6 2223.3 331.1 2225.2 331.5 2227.2 331.9 2229.1 332.4 2231.1 332.8 2233.0 333.3 2235.0 333.7 2236.9 334.2 2238.8 334.7 2240.8 335.1 2242.7 335.6 2244.7 336.1 2246.6 336.6 2248.6 337.1 2250.5 337.6 2252.5 338.1 2254.4 338.6 2256.4 339.2 2258.3 339.7 2260.3 340.3 2262.2 340.8 2264.2 341.4 2266.1 341.9 2268.1 342.5 2270.0 343.1 2272.0 343.7 2274.0 344.3 2275.9 344.9 2277.9 345.5 2279.8 346.1 2281.8 346.8 2283.7 347.4 2285.7 348.1 2287.6 348.8 2289.6 349.6 2291.5 350.3 2293.4 351.1 2295.2 351.9 2297.1 352.8 2298.9 353.7 2300.7 354.7 2302.4 355.7 2304.1 356.8 2305.8 358.0 2307.4 359.2 2309.0 360.4 2310.5 361.8 2311.9 363.2 2313.3 364.7 2314.7 366.3 2315.9 368.0 2317.1 369.7 2318.2 371.5 2319.2 373.4 2320.0 375.2 2320.5 377.2 2320.8 379.1 2320.8 381.0 2320.5 382.8 2319.9 384.7 2319.1 386.4 2318.0 388.0 2316.8 389.5 2315.5 390.9 2314.0 392.2 2312.4 393.4 2310.8 394.6 2309.0 395.6 2307.2 396.6 2305.4 397.6 2303.5 398.5 2301.7 399.3 2299.8 400.1 2298.0 400.9 2296.1 401.6 2294.2 402.4 2292.4 403.1 2290.5 403.7 2288.6 404.4 2286.7 405.0 2284.9 405.6 2283.0 406.3 2281.1 406.9 2279.2 407.5 2277.3 408.1 2275.5 408.7 2273.6 409.3 2271.7 409.9 2269.8 410.5 2267.9 411.1 2266.0 411.7 2264.1 412.3 2262.2 412.9 2260.3 413.5 2258.4 414.0 2256.5 414.6 2254.6 415.2 2252.7 415.7 2250.8 416.3 2248.9 416.9 2247.0 417.4 2245.1 418.0 2243.2 418.5 2241.3 419.0 2239.4 419.6 2237.5 420.1 2235.5 420.7 2233.6 421.2 2231.7 421.7 2229.8 422.2 2227.9 422.8 2226.0 423.3 2224.0 423.8 2222.1 424.3 2220.2 424.8 2218.3 425.3 2216.3 425.8 2214.4 426.3 2212.5 426.8 2210.5 427.3 2208.6 427.8 2206.7 428.3 2204.8 428.8 2202.8 429.3 2200.9 429.7 2198.9 430.2 2197.0 430.7 2195.1 431.2 2193.1 431.6 2191.2 432.1 2189.3 432.6 2187.3 433.0 2185.4 433.5 2183.4 433.9 2181.5 434.4 2179.5 434.8 2177.6 435.3 2175.6 435.7 2173.7 436.2 2171.7 436.6 2169.8 437.1 2167.8 437.5 2165.9 437.9 2163.9 438.4 2162.0 438.8 2160.0 439.2 2158.1 439.7 2156.1 440.1 2154.2 440.5 2152.2 440.9 2150.3 441.4 2148.3 441.8 2146.3 442.2 2144.4 442.6 2142.4 443.0 2140.5 443.4 2138.5 443.8 2136.5 444.2 2134.6 444.7 2132.6 445.1 2130.6 445.5 2128.7 445.9 2126.7 446.3 2124.7 446.7 2122.8 447.1 2120.8 447.5 2118.8 447.8 2116.9 448.2 2114.9 448.6 2112.9 449.0 2111.0 449.4 2109.0 449.8 2107.0 450.2 2105.1 450.6 2103.1 450.9 2101.1 451.3 2099.1 451.7 2097.2 452.1 2095.2 452.5 2093.2 452.8 2091.3 453.2 2089.3 453.6 2087.3 454.0 2085.3 454.3 2083.4 454.7 2081.4 455.1 2079.4 455.5 2077.4 455.8 2075.5 456.2 2073.5 456.6 2071.5 456.9 2069.5 457.3 2067.6 457.7 2065.6 458.0 2063.6 458.4 2061.6 458.8 2059.7 459.1 2057.7 459.5 2055.7 459.9 2053.7 460.2 2051.8 460.6 2049.8 461.0 2047.8 461.3 2045.8 461.7 2043.8 462.0 2041.9 462.4 2039.9 462.8 2037.9 463.1 2035.9 463.5 2034.0 463.9 2032.0 464.2 2030.0 464.6 2028.0 464.9 2026.1 465.3 2024.1 465.7 2022.1 466.0 2020.1 466.4 2018.1 466.7 2016.2 467.1 2014.2 467.5 2012.2 467.8 2010.2 468.2 2008.3 468.6 2006.3 468.9 2004.3 469.3 2002.3 469.6 2000.4 470.0 1998.4 470.4 1996.4 470.7 1994.4 471.1 1992.5 471.5 1990.5 471.8 1988.5 472.2 1986.6 472.6 1984.6 472.9 1982.6 473.3 1980.6 473.7 1978.7 474.1 1976.7 474.4 1974.7 474.8 1972.8 475.2 1970.8 475.5 1968.8 475.9 1966.9 476.3 1964.9 476.7 1962.9 477.1 1961.0 477.4 1959.0 477.8 1957.0 478.2 1955.1 478.6 1953.1 479.0 1951.1 479.3 1949.2 479.7 1947.2 480.1 1945.2 480.5 1943.3 480.9 1941.3 481.3 1939.4 481.7 1937.4 482.1 1935.4 482.5 1933.5 482.9 1931.5 483.3 1929.6 483.7 1927.6 484.1 1925.7 484.5 1923.7 484.9 1921.7 485.3 1919.8 485.7 1917.8 486.1 1915.9 486.5 1913.9 486.9 1912.0 487.3 1910.0 487.8 1908.1 488.2 1906.1 488.6 1904.2 489.0 1902.2 489.5 1900.3 489.9 1898.4 490.3 1896.4 490.7 1894.5 491.2 1892.5 491.6 1890.6 492.0 1888.7 492.5 1886.7 492.9 1884.8 493.4 1882.8 493.8 1880.9 494.3 1879.0 494.7 1877.0 495.2 1875.1 495.7 1873.2 496.1 1871.2 496.6 1869.3 497.1 1867.4 497.6 1865.5 498.0 1863.5 498.5 1861.6 499.0 1859.7 499.5 1857.8 500.0 1855.8 500.5 1853.9 501.0 1852.0 501.5 1850.1 502.0 1848.1 502.6 1846.2 503.1 1844.3 503.6 1842.4 504.2 1840.5 504.7 1838.6 505.2 1836.7 505.8 1834.7 506.4 1832.8 506.9 1830.9 507.5 1829.0 508.1 1827.1 508.7 1825.2 509.2 1823.3 509.8 1821.4 510.4 1819.5 511.0 1817.6 511.7 1815.7 512.3 1813.8 513.0 1811.9 513.7 1810.0 514.4 1808.2 515.2 1806.3 516.0 1804.5 516.9 1802.7 517.9 1800.9 518.9 1799.2 520.1 1797.5 521.3 1795.8 522.6 1794.1 524.0 1792.5 525.4 1791.0 527.0 1789.6 528.6 1788.3 530.3 1787.1 532.0 1786.1 533.7 1785.3 535.5 1784.7 537.3 1784.4 539.2 1784.3 541.0 1784.6 542.9 1785.1 544.7 1785.9 546.5 1786.9 548.2 1788.0 549.9 1789.3 551.5 1790.7 553.0 1792.2 554.5 1793.7 555.8 1795.3 557.1 1796.9 558.2 1798.5 559.3 1800.2 560.4 1801.9 561.4 1803.7 562.3 1805.5 563.1 1807.3 563.9 1809.2 564.7 1811.0 565.4 1812.9 566.1 1814.9 566.7 1816.8 567.3 1818.8 567.9 1820.7 568.5 1822.7 569.0 1824.7 569.5 1826.7 570.1 1828.7 570.6 1830.6 571.1 1832.6 571.6 1834.6 572.1 1836.6 572.6 1838.5 573.2 1840.5 573.8 1842.4 574.3 1844.3 574.9 1846.2 575.5 1848.1 576.1 1850.0 576.8 1851.9 577.4 1853.8 578.0 1855.6 578.7 1857.5 579.3 1859.4 579.9 1861.2 580.6 1863.1 581.2 1864.9 581.8 1866.8 582.4 1868.7 583.0 1870.5 583.6 1872.4 584.2 1874.3 584.8 1876.2 585.4 1878.0 585.9 1879.9 586.5 1881.8 587.0 1883.7 587.5 1885.7 588.0 1887.6 588.6 1889.5 589.1 1891.4 589.6 1893.3 590.0 1895.3 590.5 1897.2 591.0 1899.1 591.5 1901.1 591.9 1903.0 592.4 1904.9 592.8 1906.9 593.3 1908.8 593.7 1910.8 594.1 1912.7 594.6 1914.7 595.0 1916.7 595.4 1918.6 595.8 1920.6 596.2 1922.5 596.6 1924.5 597.0 1926.5 597.4 1928.4 597.8 1930.4 598.2 1932.4 598.6 1934.3 599.0 1936.3 599.4 1938.3 599.8 1940.2 600.2 1942.2 600.6 1944.2 601.0 1946.1 601.4 1948.1 601.7 1950.1 602.1 1952.1 602.5 1954.0 602.9 1956.0 603.2 1958.0 603.6 1959.9 604.0 1961.9 604.4 1963.9 604.7 1965.8 605.1 1967.8 605.5 1969.8 605.8 1971.8 606.2 1973.7 606.6 1975.7 606.9 1977.7 607.3 1979.6 607.6 1981.6 608.0 1983.6 608.4 1985.5 608.7 1987.5 609.1 1989.5 609.4 1991.5 609.8 1993.4 610.1 1995.4 610.5 1997.4 610.8 1999.4 611.2 2001.3 611.5 2003.3 611.8 2005.3 612.2 2007.2 612.5 2009.2 612.9 2011.2 613.2 2013.2 613.6 2015.1 613.9 2017.1 614.2 2019.1 614.6 2021.1 614.9 2023.0 615.2 2025.0 615.6 2027.0 615.9 2028.9 616.2 2030.9 616.6 2032.9 616.9 2034.9 617.2 2036.8 617.5 2038.8 617.9 2040.8 618.2 2042.8 618.5 2044.7 618.9 2046.7 619.2 2048.7 619.5 2050.7 619.8 2052.6 620.1 2054.6 620.5 2056.6 620.8 2058.6 621.1 2060.5 621.4 2062.5 621.7 2064.5 622.1 2066.5 622.4 2068.4 622.7 2070.4 623.0 2072.4 623.3 2074.3 623.7 2076.3 624.0 2078.3 624.3 2080.3 624.6 2082.2 624.9 2084.2 625.2 2086.2 625.5 2088.2 625.9 2090.1 626.2 2092.1 626.5 2094.1 626.8 2096.1 627.1 2098.0 627.4 2100.0 627.7 2102.0 628.0 2104.0 628.4 2105.9 628.7 2107.9 629.0 2109.9 629.3 2111.9 629.6 2113.8 629.9 2115.8 630.2 2117.8 630.5 2119.8 630.8 2121.7 631.2 2123.7 631.5 2125.7 631.8 2127.7 632.1 2129.6 632.4 2131.6 632.7 2133.6 633.0 2135.5 633.3 2137.5 633.6 2139.5 634.0 2141.5 634.3 2143.4 634.6 2145.4 634.9 2147.4 635.2 2149.4 635.5 2151.3 635.8 2153.3 636.1 2155.3 636.5 2157.3 636.8 2159.2 637.1 2161.2 637.4 2163.2 637.7 2165.1 638.0 2167.1 638.3 2169.1 638.7 2171.1 639.0 2173.0 639.3 2175.0 639.6 2177.0 639.9 2179.0 640.2 2180.9 640.6 2182.9 640.9 2184.9 641.2 2186.8 641.5 2188.8 641.8 2190.8 642.2 2192.8 642.5 2194.7 642.8 2196.7 643.1 2198.7 643.4 2200.6 643.8 2202.6 644.1 2204.6 644.4 2206.5 644.7 2208.5 645.1 2210.5 645.4 2212.5 645.7 2214.4 646.1 2216.4 646.4 2218.4 646.7 2220.3 647.0 2222.3 647.4 2224.3 647.7 2226.2 648.0 2228.2 648.4 2230.2 648.7 2232.1 649.1 2234.1 649.4 2236.1 649.7 2238.0 650.1 2240.0 650.4 2242.0 650.8 2243.9 651.1 2245.9 651.4 2247.9 651.8 2249.8 652.1 2251.8 652.5 2253.8 652.8 2255.7 653.2 2257.7 653.5 2259.7 653.9 2261.6 654.2 2263.6 654.6 2265.6 655.0 2267.5 655.3 2269.5 655.7 2271.5 656.0 2273.4 656.4 2275.4 656.8 2277.3 657.1 2279.3 657.5 2281.3 657.8 2283.2 658.2 2285.2 658.6 2287.2 659.0 2289.1 659.3 2291.1 659.7 2293.0 660.1 2295.0 660.5 2297.0 660.8 2298.9 661.2 2300.9 661.6 2302.8 662.0 2304.8 662.4 2306.8 662.8 2308.7 663.1 2310.7 663.5 2312.6 663.9 2314.6 664.3 2316.6 664.7 2318.5 665.1 2320.5 665.5 2322.4 665.9 2324.4 666.3 2326.3 666.7 2328.3 667.1 2330.3 667.5 2332.2 667.9 2334.2 668.4 2336.1 668.8 2338.1 669.2 2340.0 669.6 2342.0 670.0 2343.9 670.4 2345.9 670.9 2347.9 671.3 2349.8 671.7 2351.8 672.1 2353.7 672.6 2355.7 673.0 2357.6 673.4 2359.6 673.9 2361.5 674.3 2363.5 674.8 2365.4 675.2 2367.4 675.7 2369.3 676.1 2371.3 676.6 2373.2 677.0 2375.2 677.5 2377.1 677.9 2379.1 678.4 2381.0 678.8 2383.0 679.3 2384.9 679.8 2386.9 680.2 2388.8 680.7 2390.7 681.2 2392.7 681.7 2394.6 682.1 2396.6 682.6 2398.5 683.1 2400.5 683.6 2402.4 684.1 2404.4 684.6 2406.3 685.1 2408.2 685.6 2410.2 686.1 2412.1 686.6 2414.1 687.1 2416.0 687.6 2417.9 688.1 2419.9 688.6 2421.8 689.2 2423.7 689.7 2425.7 690.3 2427.6 690.8 2429.5 691.4 2431.4 692.0 2433.3 692.5 2435.3 693.1 2437.2 693.7 2439.1 694.4 2441.0 695.0 2442.9 695.6 2444.8 696.3 2446.6 696.9 2448.5 697.6 2450.4 698.3 2452.3 699.0 2454.1 699.7 2456.0 700.5 2457.8 701.2 2459.7 702.0 2461.5 702.8 2463.4 703.6 2465.2 704.4 2467.0 705.2 2468.8 706.1 2470.6 707.0 2472.4 707.9 2474.2 708.8 2476.0 709.7 2477.7 710.7 2479.5 711.7 2481.2 712.7 2483.0 713.7 2484.7 714.7 2486.4 715.8 2488.2 716.8 2489.9 717.9 2491.6 719.0 2493.3 720.1 2495.0 721.2 2496.7 722.3 2498.4 723.4 2500.0 724.6 2501.7 725.7 2503.4 726.8 2505.1 727.9 2506.8 729.0 2508.4 730.2 2510.1 731.3 2511.8 732.4 2513.5 733.5 2515.1 734.6 2516.8 735.7 2518.5 736.8 2520.1 737.9 2521.8 738.9 2523.5 740.0 2525.2 741.1 2526.8 742.2 2528.5 743.2 2530.2 744.3 2531.9 745.4 2533.5 746.4 2535.2 747.5 2536.9 748.5 2538.6 749.6 2540.2 750.6 2541.9 751.7 2543.6 752.7 2545.3 753.8 2546.9 754.8 2548.6 755.8 2550.3 756.9 2552.0 757.9 2553.7 758.9 2555.3 760.0 2557.0 761.0 2558.7 762.0 2560.4 763.0 2562.1 764.0 2563.8 765.0 2565.5 766.1 2567.1 767.1 2568.8 768.1 2570.5 769.1 2572.2 770.1 2573.9 771.1 2575.6 772.1 2577.3 773.1 2579.0 774.1 2580.7 775.1 2582.4 776.1 2584.1 777.1 2585.8 778.1 2587.5 779.1 2589.2 780.1 2590.9 781.1 2592.7 782.0 2594.4 783.0 2596.1 784.0 2597.8 785.0 2599.5 786.0 2601.2 787.0 2603.0 788.0 2604.7 789.0 2606.4 790.0 2608.1 791.0 2609.9 791.9 2611.6 792.9 2613.4 793.9 2615.1 794.9 2616.8 795.9 2618.6 796.9 2620.3 797.9 2622.1 798.9 2623.8 799.9 2625.6 800.9 2627.3 801.9 2629.1 802.8 2630.8 803.8 2632.6 804.8 2634.3 805.8 2636.1 806.8 2637.8 807.8 2639.6 808.8 2641.4 809.8 2643.1 810.9 2644.9 811.9 2646.6 812.9 2648.4 813.9 2650.1 814.9 2651.9 815.9 2653.6 816.9 2655.4 817.9 2657.2 819.0 2658.9 820.0 2660.7 821.0 2662.4 822.0 2664.2 823.1 2665.9 824.1 2667.7 825.2 2669.4 826.2 2671.2 827.2 2672.9 828.3 2674.6 829.3 2676.4 830.4 2678.1 831.4 2679.8 832.5 2681.6 833.6 2683.3 834.6 2685.0 835.7 2686.8 836.8 2688.5 837.9 2690.2 839.0 2691.9 840.0 2693.6 841.1 2695.3 842.2 2697.0 843.3 2698.7 844.4 2700.4 845.5 2702.1 846.7 2703.8 847.8 2705.5 848.9 2707.2 850.0 2708.9 851.2 2710.5 852.3 2712.2 853.4 2713.9 854.6 2715.5 855.7 2717.2 856.9 2718.8 858.1 2720.5 859.2 2722.1 860.4 2723.8 861.6 2725.4 862.8 2727.0 864.0 2728.6 865.2 2730.2 866.4 2731.8 867.6 2733.4 868.8 2735.0 870.0 2736.6 871.3 2738.2 872.5 2739.8 873.8 2741.3 875.0 2742.9 876.3 2744.5 877.5 2746.0 878.8 2747.5 880.1 2749.1 881.4 2750.6 882.7 2752.1 884.0 2753.6 885.3 2755.1 886.6 2756.6 887.9 2758.1 889.2 2759.6 890.6 2761.1 891.9 2762.5 893.3 2764.0 894.6 2765.4 896.0 2766.9 897.4 2768.3 898.8 2769.7 900.1 2771.1 901.5 2772.5 902.9 2773.9 904.3 2775.3 905.8 2776.7 907.2 2778.1 908.6 2779.5 910.0 2780.8 911.5 2782.2 912.9 2783.6 914.4 2784.9 915.9 2786.2 917.3 2787.6 918.8 2788.9 920.3 2790.2 921.8 2791.5 923.3 2792.8 924.8 2794.1 926.3 2795.4 927.8 2796.7 929.3 2797.9 930.8 2799.2 932.3 2800.5 933.9 2801.7 935.4 2802.9 937.0 2804.2 938.5 2805.4 940.1 2806.6 941.6 2807.9 943.2 2809.1 944.8 2810.3 946.4 2811.5 947.9 2812.6 949.5 2813.8 951.1 2815.0 952.7 2816.2 954.3 2817.3 956.0 2818.5 957.6 2819.6 959.2 2820.8 960.8 2821.9 962.5 2823.0 964.1 2824.2 965.7 2825.3 967.4 2826.4 969.0 2827.5 970.7 2828.6 972.4 2829.7 974.0 2830.8 975.7 2831.8 977.4 2832.9 979.0 2834.0 980.7 2835.0 982.4 2836.1 984.1 2837.1 985.8 2838.2 987.5 2839.2 989.2 2840.2 990.9 2841.3 992.6 2842.3 994.4 2843.3 996.1 2844.3 997.8 2845.3 999.5 2846.3 1001.3 2847.3 1003.0 2848.3 1004.8 2849.2 1006.5 2850.2 1008.3 2851.2 1010.0 2852.1 1011.8 2853.1 1013.5 2854.0 1015.3 2855.0 1017.1 2855.9 1018.8 2856.8 1020.6 2857.7 1022.4 2858.7 1024.2 2859.6 1025.9 2860.5 1027.7 2861.4 1029.5 2862.3 1031.3 2863.2 1033.1 2864.0 1034.9 2864.9 1036.7 2865.8 1038.5 2866.7 1040.3 2867.5 1042.1 2868.4 1043.9 2869.2 1045.8 2870.1 1047.6 2870.9 1049.4 2871.7 1051.2 2872.6 1053.1 2873.4 1054.9 2874.2 1056.7 2875.0 1058.6 2875.8 1060.4 2876.6 1062.2 2877.4 1064.1 2878.2 1065.9 2879.0 1067.8 2879.8 1069.6 2880.6 1071.5 2881.4 1073.3 2882.1 1075.2 2882.9 1077.0 2883.7 1078.9 2884.4 1080.7 2885.2 1082.6 2885.9 1084.5 2886.6 1086.3 2887.4 1088.2 2888.1 1090.1 2888.8 1091.9 2889.6 1093.8 2890.3 1095.7 2891.0 1097.5 2891.7 1099.4 2892.4 1101.3 2893.1 1103.2 2893.8 1105.0 2894.5 1106.9 2895.2 1108.8 2895.8 1110.7 2896.5 1112.6 2897.2 1114.5 2897.9 1116.4 2898.5 1118.2 2899.2 1120.1 2899.8 1122.0 2900.5 1123.9 2901.1 1125.8 2901.8 1127.7 2902.4 1129.6 2903.0 1131.5 2903.7 1133.4 2904.3 1135.3 2904.9 1137.2 2905.5 1139.1 2906.1 1141.0 2906.7 1143.0 2907.4 1144.9 2908.0 1146.8 2908.5 1148.7 2909.1 1150.6 2909.7 1152.5 2910.3 1154.4 2910.9 1156.3 2911.5 1158.3 2912.0 1160.2 2912.6 1162.1 2913.2 1164.0 2913.7 1165.9 2914.3 1167.9 2914.9 1169.8 2915.4 1171.7 2916.0 1173.6 2916.5 1175.6 2917.0 1177.5 2917.6 1179.4 2918.1 1181.3 2918.6 1183.3 2919.2 1185.2 2919.7 1187.1 2920.2 1189.1 2920.7 1191.0 2921.2 1192.9 2921.7 1194.9 2922.2 1196.8 2922.8 1198.8 2923.2 1200.7 2923.7 1202.6 2924.2 1204.6 2924.7 1206.5 2925.2 1208.5 2925.7 1210.4 2926.2 1212.3 2926.7 1214.3 2927.1 1216.2 2927.6 1218.2 2928.1 1220.1 2928.5 1222.1 2929.0 1224.0 2929.5 1226.0 2929.9 1227.9 2930.4 1229.8 2930.8 1231.8 2931.3 1233.7 2931.7 1235.7 2932.1 1237.6 2932.6 1239.6 2933.0 1241.5 2933.5 1243.5 2933.9 1245.5 2934.3 1247.4 2934.7 1249.4 2935.2 1251.3 2935.6 1253.3 2936.0 1255.2 2936.4 1257.2 2936.8 1259.1 2937.2 1261.1 2937.7 1263.0 2938.1 1265.0 2938.5 1267.0 2938.9 1268.9 2939.3 1270.9 2939.7 1272.8 2940.1 1274.8 2940.4 1276.7 2940.8 1278.7 2941.2 1280.7 2941.6 1282.6 2942.0 1284.6 2942.4 1286.5 2942.7 1288.5 2943.1 1290.5 2943.5 1292.4 2943.9 1294.4 2944.2 1296.3 2944.6 1298.3 2945.0 1300.3 2945.3 1302.2 2945.7 1304.2 2946.0 1306.2 2946.4 1308.1 2946.8 1310.1 2947.1 1312.1 2947.5 1314.0 2947.8 1316.0 2948.2 1318.0 2948.5 1319.9 2948.8 1321.9 2949.2 1323.8 2949.5 1325.8 2949.9 1327.8 2950.2 1329.8 2950.5 1331.7 2950.9 1333.7 2951.2 1335.7 2951.5 1337.6 2951.8 1339.6 2952.2 1341.6 2952.5 1343.5 2952.8 1345.5 2953.1 1347.5 2953.4 1349.4 2953.8 1351.4 2954.1 1353.4 2954.4 1355.4 2954.7 1357.3 2955.0 1359.3 2955.3 1361.3 2955.6 1363.2 2955.9 1365.2 2956.2 1367.2 2956.5 1369.2 2956.8 1371.1 2957.1 1373.1 2957.4 1375.1 2957.7 1377.0 2958.0 1379.0 2958.3 1381.0 2958.6 1383.0 2958.9 1384.9 2959.2 1386.9 2959.5 1388.9 2959.8 1390.9 2960.1 1392.8 2960.3 1394.8 2960.6 1396.8 2960.9 1398.8 2961.2 1400.7 2961.5 1402.7 2961.8 1404.7 2962.0 1406.7 2962.3 1408.6 2962.6 1410.6 2962.9 1412.6 2963.1 1414.6 2963.4 1416.6 2963.7 1418.5 2964.0 1420.5 2964.2 1422.5 2964.5 1424.5 2964.8 1426.4 2965.0 1428.4 2965.3 1430.4 2965.6 1432.4 2965.8 1434.4 2966.1 1436.3 2966.4 1438.3 2966.6 1440.3 2966.9 1442.3 2967.1 1444.3 2967.4 1446.2 2967.7 1448.2 2967.9 1450.2 2968.2 1452.2 2968.4 1454.2 2968.7 1456.1 2969.0 1458.1 2969.2 1460.1 2969.5 1462.1 2969.7 1464.1 2970.0 1466.0 2970.2 1468.0 2970.5 1470.0 2970.7 1472.0 2971.0 1474.0 2971.2 1475.9 2971.5 1477.9 2971.7 1479.9 2972.0 1481.9 2972.2 1483.9 2972.5 1485.8 2972.8 1487.8 2973.0 1489.8 2973.3 1491.8 2973.5 1493.8 2973.8 1495.7 2974.0 1497.7 2974.2 1499.7 2974.5 1501.7 2974.7 1503.7 2975.0 1505.7 2975.2 1507.6 2975.5 1509.6 2975.7 1511.6 2976.0 1513.6 2976.2 1515.6 2976.5 1517.5 2976.7 1519.5 2977.0 1521.5 2977.2 1523.5 2977.5 1525.5 2977.7 1527.4 2978.0 1529.4 2978.2 1531.4 2978.5 1533.4 2978.7 1535.4 2979.0 1537.4 2979.2 1539.3 2979.5 1541.3 2979.7 1543.3 2980.0 1545.3 2980.2 1547.3 2980.5 1549.2 2980.7 1551.2 2981.0 1553.2 2981.2 1555.2 2981.5 1557.2 2981.7 1559.1 2982.0 1561.1 2982.2 1563.1 2982.5 1565.1 2982.8 1567.1 2983.0 1569.0 2983.3 1571.0 2983.5 1573.0 2983.8 1575.0 2984.0 1577.0 2984.3 1579.0 2984.5 1580.9 2984.8 1582.9 2985.1 1584.9 2985.3 1586.9 2985.6 1588.9 2985.9 1590.8 2986.1 1592.8 2986.4 1594.8 2986.6 1596.8 2986.9 1598.7 2987.2 1600.7 2987.4 1602.7 2987.7 1604.7 2988.0 1606.7 2988.2 1608.6 2988.5 1610.6 2988.8 1612.6 2989.1 1614.6 2989.3 1616.6 2989.6 1618.5 2989.9 1620.5 2990.1 1622.5 2990.4 1624.5 2990.7 1626.4 2991.0 1628.4 2991.3 1630.4 2991.5 1632.4 2991.8 1634.4 2992.1 1636.3 2992.4 1638.3 2992.7 1640.3 2993.0 1642.3 2993.3 1644.2 2993.5 1646.2 2993.8 1648.2 2994.1 1650.2 2994.4 1652.1 2994.7 1654.1 2995.0 1656.1 2995.3 1658.1 2995.6 1660.0 2995.9 1662.0 2996.2 1664.0 2996.5 1666.0 2996.8 1667.9 2997.1 1669.9 2997.4 1671.9 2997.7 1673.9 2998.0 1675.8 2998.3 1677.8 2998.6 1679.8 2998.9 1681.7 2999.2 1683.7 2999.5 1685.7 2999.9 1687.7 3000.2 1689.6 3000.5 1691.6 3000.8 1693.6 3001.1 1695.6 3001.4 1697.5 3001.7 1699.5 3002.0 1701.5 3002.4 1703.4 3002.7 1705.4 3003.0 1707.4 3003.3 1709.4 3003.6 1711.3 3003.9 1713.3 3004.3 1715.3 3004.6 1717.2 3004.9 1719.2 3005.2 1721.2 3005.5 1723.2 3005.9 1725.1 3006.2 1727.1 3006.5 1729.1 3006.8 1731.0 3007.2 1733.0 3007.5 1735.0 3007.8 1737.0 3008.1 1738.9 3008.5 1740.9 3008.8 1742.9 3009.1 1744.8 3009.4 1746.8 3009.8 1748.8 3010.1 1750.7 3010.4 1752.7 3010.7 1754.7 3011.1 1756.7 3011.4 1758.6 3011.7 1760.6 3012.0 1762.6 3012.4 1764.5 3012.7 1766.5 3013.0 1768.5 3013.3 1770.5 3013.7 1772.4 3014.0 1774.4 3014.3 1776.4 3014.6 1778.3 3015.0 1780.3 3015.3 1782.3 3015.6 1784.2 3016.0 1786.2 3016.3 1788.2 3016.6 1790.2 3016.9 1792.1 3017.3 1794.1 3017.6 1796.1 3017.9 1798.0 3018.2 1800.0 3018.6 1802.0 3018.9 1804.0 3019.2 1805.9 3019.5 1807.9 3019.9 1809.9 3020.2 1811.8 3020.5 1813.8 3020.8 1815.8 3021.1 1817.8 3021.5 1819.7 3021.8 1821.7 3022.1 1823.7 3022.4 1825.6 3022.7 1827.6 3023.1 1829.6 3023.4 1831.6 3023.7 1833.5 3024.0 1835.5 3024.3 1837.5 3024.6 1839.4 3025.0 1841.4 3025.3 1843.4 3025.6 1845.4 3025.9 1847.3 3026.2 1849.3 3026.5 1851.3 3026.8 1853.2 3027.1 1855.2 3027.5 1857.2 3027.8 1859.2 3028.1 1861.1 3028.4 1863.1 3028.7 1865.1 3029.0 1867.1 3029.3 1869.0 3029.6 1871.0 3029.9 1873.0 3030.2 1875.0 3030.5 1876.9 3030.8 1878.9 3031.1 1880.9 3031.4 1882.9 3031.7 1884.8 3032.0 1886.8 3032.3 1888.8 3032.6 1890.8 3032.9 1892.7 3033.2 1894.7 3033.4 1896.7 3033.7 1898.7 3034.0 1900.6 3034.3 1902.6 3034.6 1904.6 3034.9 1906.6 3035.2 1908.5 3035.4 1910.5 3035.7 1912.5 3036.0 1914.5 3036.3 1916.5 3036.5 1918.4 3036.8 1920.4 3037.1 1922.4 3037.4 1924.4 3037.6 1926.4 3037.9 1928.3 3038.2 1930.3 3038.4 1932.3 3038.7 1934.3 3039.0 1936.2 3039.2 1938.2 3039.5 1940.2 3039.7 1942.2 3040.0 1944.2 3040.2 1946.2 3040.5 1948.1 3040.7 1950.1 3041.0 1952.1 3041.2 1954.1 3041.5 1956.1 3041.7 1958.0 3042.0 1960.0 3042.2 1962.0 3042.5 1964.0 3042.7 1966.0 3042.9 1968.0 3043.2 1970.0 3043.4 1971.9 3043.6 1973.9 3043.8 1975.9 3044.1 1977.9 3044.3 1979.9 3044.5 1981.9 3044.7 1983.9 3045.0 1985.8 3045.2 1987.8 3045.4 1989.8 3045.6 1991.8 3045.8 1993.8 3046.0 1995.8 3046.2 1997.8 3046.4 1999.8 3046.6 2001.7 3046.8 2003.7 3047.0 2005.7 3047.2 2007.7 3047.4 2009.7 3047.6 2011.7 3047.8 2013.7 3048.0 2015.7 3048.2 2017.7 3048.3 2019.7 3048.5 2021.7 3048.7 2023.6 3048.9 2025.6 3049.0 2027.6 3049.2 2029.6 3049.4 2031.6 3049.5 2033.6 3049.7 2035.6 3049.9 2037.6 3050.0 2039.6 3050.2 2041.6 3050.3 2043.6 3050.5 2045.6 3050.6 2047.6 3050.8 2049.6 3050.9 2051.6 3051.0 2053.6 3051.2 2055.6 3051.3 2057.6 3051.4 2059.6 3051.6 2061.6 3051.7 2063.6 3051.8 2065.6 3051.9 2067.6 3052.0 2069.6 3052.2 2071.6 3052.3 2073.6 3052.4 2075.6 3052.5 2077.6 3052.6" stroke="#000000"/>
<path d="M300.7 2103.4 301.0 2105.5 301.2 2107.5 301.5 2109.5 301.8 2111.6 302.0 2113.6 302.3 2115.6 302.6 2117.6 302.8 2119.7 303.1 2121.7 303.4 2123.7 303.7 2125.7 304.0 2127.7 304.2 2129.7 304.5 2131.7 304.8 2133.7 305.1 2135.7 305.4 2137.7 305.7 2139.7 305.9 2141.7 306.2 2143.7 306.5 2145.7 306.8 2147.7 307.1 2149.7 307.4 2151.6 307.7 2153.6 308.0 2155.6 308.3 2157.6 308.6 2159.6 308.9 2161.5 309.2 2163.5 309.5 2165.5 309.8 2167.5 310.1 2169.4 310.5 2171.4 310.8 2173.4 311.1 2175.3 311.4 2177.3 311.7 2179.3 312.0 2181.2 312.4 2183.2 312.7 2185.1 313.0 2187.1 313.4 2189.1 313.7 2191.0 314.0 2193.0 314.4 2194.9 314.7 2196.9 315.0 2198.8 315.4 2200.8 315.7 2202.7 316.1 2204.7 316.4 2206.7 316.8 2208.6 317.1 2210.6 317.5 2212.5 317.8 2214.4 318.2 2216.4 318.5 2218.3 318.9 2220.3 319.3 2222.2 319.6 2224.2 320.0 2226.1 320.4 2228.1 320.8 2230.0 321.1 2232.0 321.5 2233.9 321.9 2235.8 322.3 2237.8 322.7 2239.7 323.1 2241.7 323.5 2243.6 323.9 2245.6 324.3 2247.5 324.7 2249.4 325.1 2251.4 325.5 2253.3 325.9 2255.3 326.3 2257.2 326.7 2259.2 327.1 2261.1 327.5 2263.1 328.0 2265.0 328.4 2266.9 328.8 2268.9 329.2 2270.8 329.7 2272.8 330.1 2274.7 330.5 2276.7 331.0 2278.6 331.4 2280.6 331.9 2282.5 332.3 2284.5 332.8 2286.4 333.2 2288.4 333.7 2290.3 334.2 2292.3 334.6 2294.2 335.1 2296.2 335.6 2298.2 336.0 2300.1 336.5 2302.1 337.0 2304.0 337.5 2306.0 338.0 2308.0 338.5 2309.9 339.0 2311.9 339.5 2313.8 340.0 2315.8 340.5 2317.8 341.0 2319.8 341.5 2321.7 342.0 2323.7 342.5 2325.7 343.0 2327.6 343.6 2329.6 344.1 2331.6 344.6 2333.6 345.2 2335.6 345.7 2337.5 346.2 2339.5 346.8 2341.5 347.3 2343.5 347.9 2345.5 348.5 2347.5 349.1 2349.4 349.6 2351.4 350.3 2353.4 350.9 2355.3 351.5 2357.2 352.2 2359.2 352.9 2361.1 353.6 2363.0 354.3 2364.9 355.0 2366.8 355.8 2368.7 356.6 2370.5 357.4 2372.3 358.2 2374.1 359.1 2375.9 360.0 2377.7 361.0 2379.5 361.9 2381.2 362.9 2382.9 364.0 2384.5 365.1 2386.2 366.2 2387.8 367.4 2389.4 368.6 2391.0 369.8 2392.5 371.1 2394.0 372.4 2395.4 373.8 2396.9 375.2 2398.2 376.7 2399.6 378.2 2400.9 379.8 2402.2 381.5 2403.4 383.2 2404.6 384.9 2405.7 386.7 2406.8 388.6 2407.6 390.5 2408.1 392.4 2408.4 394.4 2408.3 396.4 2407.8 398.4 2407.1 400.3 2406.1 402.0 2404.9 403.6 2403.6 405.1 2402.1 406.4 2400.6 407.5 2399.0 408.6 2397.3 409.5 2395.5 410.4 2393.7 411.2 2391.9 411.9 2390.0 412.7 2388.1 413.4 2386.2 414.1 2384.3 414.7 2382.4 415.4 2380.5 416.1 2378.6 416.8 2376.7 417.4 2374.8 418.1 2372.9 418.8 2371.0 419.4 2369.1 420.0 2367.2 420.7 2365.2 421.3 2363.3 421.9 2361.4 422.6 2359.5 423.2 2357.6 423.8 2355.7 424.4 2353.7 425.0 2351.8 425.6 2349.9 426.1 2348.0 426.7 2346.0 427.3 2344.1 427.9 2342.2 428.4 2340.3 429.0 2338.3 429.5 2336.4 430.1 2334.5 430.6 2332.5 431.2 2330.6 431.7 2328.7 432.2 2326.7 432.8 2324.8 433.3 2322.9 433.8 2320.9 434.3 2319.0 434.8 2317.0 435.3 2315.1 435.8 2313.1 436.3 2311.2 436.8 2309.3 437.3 2307.3 437.8 2305.4 438.2 2303.4 438.7 2301.5 439.2 2299.5 439.6 2297.6 440.1 2295.6 440.6 2293.7 441.0 2291.7 441.5 2289.8 441.9 2287.8 442.3 2285.9 442.8 2283.9 443.2 2282.0 443.6 2280.0 444.1 2278.0 444.5 2276.1 444.9 2274.1 445.3 2272.2 445.7 2270.2 446.1 2268.2 446.5 2266.3 446.9 2264.3 447.3 2262.4 447.7 2260.4 448.1 2258.4 448.5 2256.5 448.9 2254.5 449.3 2252.5 449.6 2250.6 450.0 2248.6 450.4 2246.6 450.8 2244.7 451.1 2242.7 451.5 2240.7 451.9 2238.7 452.2 2236.8 452.6 2234.8 452.9 2232.8 453.3 2230.9 453.6 2228.9 454.0 2226.9 454.3 2224.9 454.7 2223.0 455.0 2221.0 455.4 2219.0 455.7 2217.0 456.0 2215.1 456.4 2213.1 456.7 2211.1 457.0 2209.1 457.3 2207.2 457.7 2205.2 458.0 2203.2 458.3 2201.2 458.6 2199.2 459.0 2197.3 459.3 2195.3 459.6 2193.3 459.9 2191.3 460.2 2189.3 460.5 2187.4 460.8 2185.4 461.1 2183.4 461.4 2181.4 461.8 2179.4 462.1 2177.5 462.4 2175.5 462.7 2173.5 463.0 2171.5 463.3 2169.5 463.6 2167.5 463.9 2165.6 464.2 2163.6 464.5 2161.6 464.8 2159.6 465.1 2157.6 465.4 2155.6 465.7 2153.7 465.9 2151.7 466.2 2149.7 466.5 2147.7 466.8 2145.7 467.1 2143.7 467.4 2141.8 467.7 2139.8 468.0 2137.8 468.3 2135.8 468.6 2133.8 468.9 2131.8 469.2 2129.9 469.5 2127.9 469.8 2125.9 470.1 2123.9 470.3 2121.9 470.6 2119.9 470.9 2117.9 471.2 2116.0 471.5 2114.0 471.8 2112.0 472.1 2110.0 472.4 2108.0 472.7 2106.0 473.0 2104.1 473.3 2102.1 473.6 2100.1 473.9 2098.1 474.2 2096.1 474.5 2094.2 474.8 2092.2 475.1 2090.2 475.4 2088.2 475.7 2086.2 476.0 2084.2 476.4 2082.3 476.7 2080.3 477.0 2078.3 477.3 2076.3 477.6 2074.3 477.9 2072.4 478.2 2070.4 478.6 2068.4 478.9 2066.4 479.2 2064.4 479.5 2062.5 479.9 2060.5 480.2 2058.5 480.5 2056.5 480.8 2054.6 481.2 2052.6 481.5 2050.6 481.9 2048.6 482.2 2046.7 482.5 2044.7 482.9 2042.7 483.2 2040.7 483.6 2038.8 483.9 2036.8 484.3 2034.8 484.6 2032.9 485.0 2030.9 485.3 2028.9 485.7 2026.9 486.1 2025.0 486.4 2023.0 486.8 2021.0 487.2 2019.1 487.5 2017.1 487.9 2015.1 488.3 2013.2 488.6 2011.2 489.0 2009.2 489.4 2007.3 489.8 2005.3 490.1 2003.3 490.5 2001.4 490.9 1999.4 491.3 1997.4 491.7 1995.4 492.0 1993.5 492.4 1991.5 492.8 1989.5 493.2 1987.6 493.6 1985.6 494.0 1983.6 494.4 1981.7 494.7 1979.7 495.1 1977.7 495.5 1975.8 495.9 1973.8 496.3 1971.8 496.7 1969.9 497.1 1967.9 497.5 1965.9 497.9 1964.0 498.3 1962.0 498.7 1960.0 499.1 1958.1 499.4 1956.1 499.8 1954.1 500.2 1952.1 500.6 1950.2 501.0 1948.2 501.4 1946.2 501.8 1944.3 502.2 1942.3 502.6 1940.3 503.0 1938.3 503.4 1936.4 503.8 1934.4 504.2 1932.4 504.5 1930.4 504.9 1928.5 505.3 1926.5 505.7 1924.5 506.1 1922.5 506.5 1920.6 506.9 1918.6 507.3 1916.6 507.7 1914.6 508.0 1912.6 508.4 1910.7 508.8 1908.7 509.2 1906.7 509.6 1904.7 509.9 1902.7 510.3 1900.7 510.7 1898.8 511.1 1896.8 511.5 1894.8 511.8 1892.8 512.2 1890.8 512.6 1888.8 513.0 1886.8 513.3 1884.9 513.7 1882.9 514.1 1880.9 514.5 1878.9 514.9 1876.9 515.3 1875.0 515.7 1873.0 516.1 1871.0 516.5 1869.0 516.9 1867.1 517.3 1865.1 517.7 1863.1 518.1 1861.2 518.6 1859.2 519.0 1857.2 519.4 1855.3 519.9 1853.3 520.3 1851.4 520.8 1849.4 521.2 1847.5 521.7 1845.6 522.2 1843.6 522.7 1841.7 523.2 1839.8 523.7 1837.8 524.2 1835.9 524.7 1834.0 525.2 1832.1 525.8 1830.2 526.3 1828.3 526.9 1826.4 527.5 1824.5 528.0 1822.7 528.6 1820.8 529.2 1818.9 529.9 1817.1 530.5 1815.2 531.1 1813.3 531.8 1811.5 532.5 1809.7 533.3 1807.8 534.0 1806.0 534.9 1804.1 535.7 1802.3 536.6 1800.4 537.6 1798.6 538.6 1796.7 539.6 1794.9 540.8 1793.1 542.0 1791.3 543.3 1789.7 544.7 1788.2 546.2 1787.0 547.9 1785.9 549.6 1785.2 551.5 1784.7 553.4 1784.7 555.3 1785.1 557.1 1785.8 558.9 1786.8 560.6 1788.0 562.2 1789.4 563.7 1790.9 565.1 1792.4 566.5 1794.0 567.7 1795.6 568.9 1797.2 570.0 1798.9 571.0 1800.5 572.1 1802.3 573.0 1804.0 574.0 1805.8 575.0 1807.5 575.9 1809.3 576.8 1811.1 577.8 1812.8 578.7 1814.6 579.6 1816.4 580.4 1818.2 581.3 1820.1 582.2 1821.9 583.0 1823.7 583.9 1825.5 584.7 1827.4 585.5 1829.2 586.3 1831.0 587.1 1832.9 587.9 1834.7 588.7 1836.6 589.5 1838.4 590.3 1840.3 591.0 1842.1 591.8 1844.0 592.5 1845.8 593.3 1847.7 594.0 1849.6 594.7 1851.4 595.4 1853.3 596.1 1855.2 596.8 1857.0 597.5 1858.9 598.2 1860.8 598.9 1862.7 599.6 1864.6 600.2 1866.5 600.9 1868.3 601.5 1870.2 602.2 1872.1 602.8 1874.0 603.4 1875.9 604.1 1877.8 604.7 1879.7 605.3 1881.6 605.9 1883.6 606.5 1885.5 607.1 1887.4 607.7 1889.3 608.2 1891.2 608.8 1893.1 609.4 1895.0 609.9 1897.0 610.5 1898.9 611.0 1900.8 611.6 1902.7 612.1 1904.7 612.7 1906.6 613.2 1908.5 613.7 1910.5 614.2 1912.4 614.7 1914.3 615.3 1916.3 615.8 1918.2 616.3 1920.2 616.8 1922.1 617.2 1924.1 617.7 1926.0 618.2 1928.0 618.7 1929.9 619.2 1931.8 619.6 1933.8 620.1 1935.8 620.6 1937.7 621.0 1939.7 621.5 1941.6 621.9 1943.6 622.4 1945.5 622.8 1947.5 623.3 1949.5 623.7 1951.4 624.1 1953.4 624.6 1955.3 625.0 1957.3 625.4 1959.3 625.8 1961.2 626.3 1963.2 626.7 1965.2 627.1 1967.1 627.5 1969.1 627.9 1971.1 628.3 1973.0 628.7 1975.0 629.1 1977.0 629.6 1979.0 630.0 1980.9 630.4 1982.9 630.7 1984.9 631.1 1986.8 631.5 1988.8 631.9 1990.8 632.3 1992.8 632.7 1994.7 633.1 1996.7 633.5 1998.7 633.9 2000.7 634.3 2002.6 634.6 2004.6 635.0 2006.6 635.4 2008.6 635.8 2010.5 636.2 2012.5 636.6 2014.5 636.9 2016.4 637.3 2018.4 637.7 2020.4 638.1 2022.4 638.5 2024.3 638.9 2026.3 639.2 2028.3 639.6 2030.3 640.0 2032.2 640.4 2034.2 640.8 2036.2 641.1 2038.2 641.5 2040.1 641.9 2042.1 642.3 2044.1 642.6 2046.0 643.0 2048.0 643.4 2050.0 643.8 2052.0 644.2 2053.9 644.5 2055.9 644.9 2057.9 645.3 2059.8 645.7 2061.8 646.0 2063.8 646.4 2065.8 646.8 2067.7 647.2 2069.7 647.5 2071.7 647.9 2073.6 648.3 2075.6 648.7 2077.6 649.0 2079.5 649.4 2081.5 649.8 2083.5 650.1 2085.5 650.5 2087.4 650.9 2089.4 651.3 2091.4 651.6 2093.3 652.0 2095.3 652.4 2097.3 652.7 2099.3 653.1 2101.2 653.5 2103.2 653.8 2105.2 654.2 2107.1 654.6 2109.1 655.0 2111.1 655.3 2113.0 655.7 2115.0 656.1 2117.0 656.4 2118.9 656.8 2120.9 657.2 2122.9 657.5 2124.9 657.9 2126.8 658.2 2128.8 658.6 2130.8 659.0 2132.7 659.3 2134.7 659.7 2136.7 660.1 2138.6 660.4 2140.6 660.8 2142.6 661.2 2144.6 661.5 2146.5 661.9 2148.5 662.2 2150.5 662.6 2152.4 663.0 2154.4 663.3 2156.4 663.7 2158.3 664.0 2160.3 664.4 2162.3 664.8 2164.3 665.1 2166.2 665.5 2168.2 665.8 2170.2 666.2 2172.1 666.5 2174.1 666.9 2176.1 667.3 2178.0 667.6 2180.0 668.0 2182.0 668.3 2184.0 668.7 2185.9 669.0 2187.9 669.4 2189.9 669.7 2191.8 670.1 2193.8 670.4 2195.8 670.8 2197.8 671.1 2199.7 671.5 2201.7 671.8 2203.7 672.2 2205.6 672.5 2207.6 672.9 2209.6 673.2 2211.6 673.6 2213.5 673.9 2215.5 674.3 2217.5 674.6 2219.4 675.0 2221.4 675.3 2223.4 675.7 2225.4 676.0 2227.3 676.4 2229.3 676.7 2231.3 677.1 2233.3 677.4 2235.2 677.8 2237.2 678.1 2239.2 678.4 2241.1 678.8 2243.1 679.1 2245.1 679.5 2247.1 679.8 2249.0 680.1 2251.0 680.5 2253.0 680.8 2255.0 681.2 2256.9 681.5 2258.9 681.8 2260.9 682.2 2262.9 682.5 2264.8 682.9 2266.8 683.2 2268.8 683.5 2270.8 683.9 2272.7 684.2 2274.7 684.5 2276.7 684.9 2278.7 685.2 2280.7 685.5 2282.6 685.9 2284.6 686.2 2286.6 686.5 2288.6 686.9 2290.5 687.2 2292.5 687.5 2294.5 687.9 2296.5 688.2 2298.5 688.5 2300.4 688.9 2302.4 689.2 2304.4 689.5 2306.4 689.8 2308.3 690.2 2310.3 690.5 2312.3 690.8 2314.3 691.2 2316.3 691.5 2318.2 691.8 2320.2 692.2 2322.2 692.5 2324.2 692.8 2326.2 693.2 2328.1 693.5 2330.1 693.8 2332.1 694.2 2334.1 694.5 2336.1 694.8 2338.1 695.2 2340.0 695.5 2342.0 695.8 2344.0 696.2 2346.0 696.5 2348.0 696.9 2349.9 697.2 2351.9 697.6 2353.9 697.9 2355.9 698.3 2357.8 698.6 2359.8 699.0 2361.8 699.3 2363.8 699.7 2365.8 700.0 2367.7 700.4 2369.7 700.7 2371.7 701.1 2373.7 701.4 2375.7 701.8 2377.6 702.2 2379.6 702.5 2381.6 702.9 2383.6 703.3 2385.5 703.7 2387.5 704.0 2389.5 704.4 2391.5 704.8 2393.4 705.2 2395.4 705.6 2397.4 706.0 2399.4 706.4 2401.3 706.7 2403.3 707.1 2405.3 707.5 2407.3 707.9 2409.2 708.3 2411.2 708.8 2413.2 709.2 2415.1 709.6 2417.1 710.0 2419.1 710.4 2421.0 710.8 2423.0 711.3 2425.0 711.7 2427.0 712.1 2428.9 712.6 2430.9 713.0 2432.9 713.5 2434.8 713.9 2436.8 714.4 2438.8 714.8 2440.7 715.3 2442.7 715.7 2444.6 716.2 2446.6 716.7 2448.6 717.1 2450.5 717.6 2452.5 718.1 2454.4 718.6 2456.4 719.1 2458.3 719.6 2460.3 720.1 2462.2 720.6 2464.2 721.1 2466.1 721.7 2468.1 722.2 2470.0 722.7 2472.0 723.3 2473.9 723.8 2475.8 724.4 2477.8 724.9 2479.7 725.5 2481.6 726.1 2483.5 726.6 2485.5 727.2 2487.4 727.8 2489.3 728.4 2491.2 729.0 2493.1 729.6 2495.0 730.3 2496.9 730.9 2498.8 731.5 2500.7 732.2 2502.6 732.8 2504.5 733.5 2506.4 734.2 2508.2 734.9 2510.1 735.6 2512.0 736.3 2513.9 737.0 2515.7 737.7 2517.6 738.4 2519.4 739.1 2521.3 739.9 2523.1 740.6 2525.0 741.4 2526.8 742.2 2528.6 743.0 2530.4 743.8 2532.3 744.6 2534.1 745.4 2535.9 746.2 2537.7 747.0 2539.5 747.9 2541.3 748.7 2543.1 749.6 2544.9 750.5 2546.6 751.4 2548.4 752.3 2550.2 753.2 2551.9 754.1 2553.7 755.1 2555.4 756.0 2557.1 757.0 2558.9 758.0 2560.6 758.9 2562.3 759.9 2564.0 761.0 2565.7 762.0 2567.4 763.0 2569.1 764.1 2570.8 765.1 2572.5 766.2 2574.2 767.3 2575.8 768.4 2577.5 769.5 2579.1 770.6 2580.8 771.7 2582.4 772.9 2584.1 774.0 2585.7 775.2 2587.3 776.4 2588.9 777.6 2590.5 778.8 2592.1 780.0 2593.7 781.2 2595.3 782.4 2596.9 783.6 2598.5 784.9 2600.1 786.1 2601.6 787.4 2603.2 788.6 2604.8 789.9 2606.3 791.2 2607.9 792.5 2609.5 793.8 2611.0 795.1 2612.5 796.4 2614.1 797.7 2615.6 799.0 2617.2 800.3 2618.7 801.6 2620.2 803.0 2621.7 804.3 2623.3 805.7 2624.8 807.0 2626.3 808.4 2627.8 809.7 2629.3 811.1 2630.8 812.4 2632.3 813.8 2633.8 815.2 2635.3 816.6 2636.8 817.9 2638.3 819.3 2639.8 820.7 2641.3 822.1 2642.8 823.5 2644.3 824.9 2645.7 826.3 2647.2 827.6 2648.7 829.0 2650.2 830.4 2651.7 831.8 2653.2 833.2 2654.6 834.6 2656.1 836.0 2657.6 837.4 2659.1 838.8 2660.5 840.2 2662.0 841.6 2663.5 843.0 2665.0 844.4 2666.4 845.8 2667.9 847.1 2669.4 848.5 2670.9 849.9 2672.4 851.3 2673.8 852.7 2675.3 854.1 2676.8 855.5 2678.3 856.8 2679.7 858.2 2681.2 859.6 2682.7 861.0 2684.1 862.4 2685.6 863.8 2687.1 865.1 2688.5 866.5 2690.0 867.9 2691.4 869.3 2692.9 870.7 2694.3 872.1 2695.8 873.5 2697.2 874.9 2698.7 876.2 2700.1 877.6 2701.6 879.0 2703.0 880.4 2704.4 881.8 2705.9 883.2 2707.3 884.6 2708.7 886.1 2710.1 887.5 2711.5 888.9 2713.0 890.3 2714.4 891.7 2715.8 893.1 2717.2 894.6 2718.5 896.0 2719.9 897.4 2721.3 898.9 2722.7 900.3 2724.1 901.7 2725.4 903.2 2726.8 904.6 2728.1 906.1 2729.5 907.6 2730.8 909.0 2732.2 910.5 2733.5 912.0 2734.8 913.5 2736.1 914.9 2737.5 916.4 2738.8 917.9 2740.1 919.4 2741.4 920.9 2742.6 922.5 2743.9 924.0 2745.2 925.5 2746.4 927.0 2747.7 928.6 2748.9 930.1 2750.2 931.7 2751.4 933.2 2752.6 934.8 2753.9 936.3 2755.1 937.9 2756.3 939.5 2757.5 941.1 2758.6 942.7 2759.8 944.3 2761.0 945.9 2762.1 947.5 2763.3 949.1 2764.4 950.7 2765.6 952.4 2766.7 954.0 2767.8 955.7 2769.0 957.3 2770.1 959.0 2771.2 960.6 2772.3 962.3 2773.4 963.9 2774.5 965.6 2775.5 967.3 2776.6 969.0 2777.7 970.7 2778.7 972.4 2779.8 974.1 2780.8 975.8 2781.8 977.5 2782.9 979.2 2783.9 980.9 2784.9 982.6 2785.9 984.3 2786.9 986.1 2787.9 987.8 2788.9 989.5 2789.9 991.3 2790.9 993.0 2791.9 994.8 2792.8 996.5 2793.8 998.3 2794.8 1000.1 2795.7 1001.8 2796.7 1003.6 2797.6 1005.4 2798.5 1007.2 2799.5 1009.0 2800.4 1010.7 2801.3 1012.5 2802.2 1014.3 2803.1 1016.1 2804.0 1017.9 2804.9 1019.7 2805.8 1021.5 2806.7 1023.4 2807.6 1025.2 2808.5 1027.0 2809.4 1028.8 2810.2 1030.6 2811.1 1032.5 2812.0 1034.3 2812.8 1036.1 2813.7 1038.0 2814.5 1039.8 2815.3 1041.6 2816.2 1043.5 2817.0 1045.3 2817.8 1047.2 2818.7 1049.0 2819.5 1050.9 2820.3 1052.7 2821.1 1054.6 2821.9 1056.5 2822.7 1058.3 2823.5 1060.2 2824.3 1062.1 2825.1 1063.9 2825.9 1065.8 2826.7 1067.7 2827.5 1069.5 2828.3 1071.4 2829.0 1073.3 2829.8 1075.2 2830.6 1077.1 2831.3 1078.9 2832.1 1080.8 2832.8 1082.7 2833.6 1084.6 2834.3 1086.5 2835.1 1088.4 2835.8 1090.3 2836.6 1092.1 2837.3 1094.0 2838.1 1095.9 2838.8 1097.8 2839.5 1099.7 2840.2 1101.6 2841.0 1103.5 2841.7 1105.4 2842.4 1107.3 2843.1 1109.2 2843.8 1111.1 2844.6 1113.0 2845.3 1114.9 2846.0 1116.8 2846.7 1118.7 2847.4 1120.6 2848.1 1122.5 2848.8 1124.4 2849.5 1126.3 2850.2 1128.2 2850.9 1130.1 2851.6 1132.0 2852.3 1133.9 2852.9 1135.8 2853.6 1137.7 2854.3 1139.6 2855.0 1141.5 2855.7 1143.4 2856.4 1145.3 2857.0 1147.2 2857.7 1149.1 2858.4 1151.0 2859.1 1152.8 2859.7 1154.7 2860.4 1156.6 2861.1 1158.5 2861.8 1160.4 2862.4 1162.3 2863.1 1164.2 2863.7 1166.1 2864.4 1168.0 2865.1 1169.9 2865.7 1171.8 2866.4 1173.7 2867.0 1175.5 2867.7 1177.4 2868.4 1179.3 2869.0 1181.2 2869.7 1183.1 2870.3 1185.0 2871.0 1186.9 2871.6 1188.8 2872.2 1190.7 2872.9 1192.6 2873.5 1194.4 2874.2 1196.3 2874.8 1198.2 2875.4 1200.1 2876.1 1202.0 2876.7 1203.9 2877.4 1205.8 2878.0 1207.7 2878.6 1209.6 2879.2 1211.4 2879.9 1213.3 2880.5 1215.2 2881.1 1217.1 2881.7 1219.0 2882.4 1220.9 2883.0 1222.8 2883.6 1224.7 2884.2 1226.6 2884.8 1228.5 2885.4 1230.3 2886.0 1232.2 2886.7 1234.1 2887.3 1236.0 2887.9 1237.9 2888.5 1239.8 2889.1 1241.7 2889.7 1243.6 2890.3 1245.5 2890.9 1247.4 2891.5 1249.3 2892.1 1251.2 2892.7 1253.1 2893.3 1255.0 2893.8 1256.9 2894.4 1258.8 2895.0 1260.7 2895.6 1262.5 2896.2 1264.4 2896.8 1266.3 2897.4 1268.2 2897.9 1270.1 2898.5 1272.0 2899.1 1274.0 2899.7 1275.9 2900.2 1277.8 2900.8 1279.7 2901.4 1281.6 2901.9 1283.5 2902.5 1285.4 2903.1 1287.3 2903.6 1289.2 2904.2 1291.1 2904.8 1293.0 2905.3 1294.9 2905.9 1296.8 2906.4 1298.7 2907.0 1300.7 2907.5 1302.6 2908.1 1304.5 2908.6 1306.4 2909.2 1308.3 2909.7 1310.2 2910.3 1312.2 2910.8 1314.1 2911.4 1316.0 2911.9 1317.9 2912.4 1319.8 2913.0 1321.8 2913.5 1323.7 2914.0 1325.6 2914.6 1327.6 2915.1 1329.5 2915.6 1331.4 2916.1 1333.3 2916.7 1335.3 2917.2 1337.2 2917.7 1339.1 2918.2 1341.1 2918.7 1343.0 2919.3 1344.9 2919.8 1346.9 2920.3 1348.8 2920.8 1350.8 2921.3 1352.7 2921.8 1354.6 2922.3 1356.6 2922.8 1358.5 2923.3 1360.5 2923.8 1362.4 2924.3 1364.4 2924.8 1366.3 2925.3 1368.2 2925.8 1370.2 2926.3 1372.1 2926.8 1374.1 2927.3 1376.0 2927.8 1378.0 2928.3 1379.9 2928.7 1381.9 2929.2 1383.9 2929.7 1385.8 2930.2 1387.8 2930.7 1389.7 2931.1 1391.7 2931.6 1393.6 2932.1 1395.6 2932.6 1397.5 2933.0 1399.5 2933.5 1401.5 2934.0 1403.4 2934.4 1405.4 2934.9 1407.3 2935.3 1409.3 2935.8 1411.3 2936.3 1413.2 2936.7 1415.2 2937.2 1417.2 2937.6 1419.1 2938.1 1421.1 2938.5 1423.0 2939.0 1425.0 2939.4 1427.0 2939.9 1428.9 2940.3 1430.9 2940.7 1432.9 2941.2 1434.8 2941.6 1436.8 2942.1 1438.8 2942.5 1440.8 2942.9 1442.7 2943.3 1444.7 2943.8 1446.7 2944.2 1448.6 2944.6 1450.6 2945.1 1452.6 2945.5 1454.6 2945.9 1456.5 2946.3 1458.5 2946.7 1460.5 2947.2 1462.4 2947.6 1464.4 2948.0 1466.4 2948.4 1468.4 2948.8 1470.3 2949.2 1472.3 2949.6 1474.3 2950.0 1476.3 2950.4 1478.2 2950.8 1480.2 2951.2 1482.2 2951.6 1484.2 2952.0 1486.1 2952.4 1488.1 2952.8 1490.1 2953.2 1492.1 2953.6 1494.0 2954.0 1496.0 2954.3 1498.0 2954.7 1500.0 2955.1 1502.0 2955.5 1503.9 2955.9 1505.9 2956.2 1507.9 2956.6 1509.9 2957.0 1511.8 2957.4 1513.8 2957.7 1515.8 2958.1 1517.8 2958.5 1519.7 2958.8 1521.7 2959.2 1523.7 2959.6 1525.7 2959.9 1527.7 2960.3 1529.6 2960.6 1531.6 2961.0 1533.6 2961.3 1535.6 2961.7 1537.5 2962.1 1539.5 2962.4 1541.5 2962.7 1543.5 2963.1 1545.4 2963.4 1547.4 2963.8 1549.4 2964.1 1551.4 2964.5 1553.4 2964.8 1555.3 2965.1 1557.3 2965.5 1559.3 2965.8 1561.3 2966.1 1563.2 2966.5 1565.2 2966.8 1567.2 2967.1 1569.2 2967.5 1571.1 2967.8 1573.1 2968.1 1575.1 2968.4 1577.1 2968.8 1579.0 2969.1 1581.0 2969.4 1583.0 2969.7 1585.0 2970.0 1586.9 2970.4 1588.9 2970.7 1590.9 2971.0 1592.9 2971.3 1594.8 2971.6 1596.8 2971.9 1598.8 2972.2 1600.8 2972.6 1602.7 2972.9 1604.7 2973.2 1606.7 2973.5 1608.7 2973.8 1610.6 2974.1 1612.6 2974.4 1614.6 2974.7 1616.6 2975.0 1618.5 2975.3 1620.5 2975.6 1622.5 2975.9 1624.5 2976.2 1626.4 2976.6 1628.4 2976.9 1630.4 2977.2 1632.3 2977.5 1634.3 2977.8 1636.3 2978.1 1638.3 2978.4 1640.2 2978.7 1642.2 2979.0 1644.2 2979.3 1646.2 2979.6 1648.1 2979.9 1650.1 2980.2 1652.1 2980.5 1654.1 2980.8 1656.0 2981.1 1658.0 2981.4 1660.0 2981.7 1662.0 2982.0 1663.9 2982.3 1665.9 2982.6 1667.9 2982.9 1669.9 2983.2 1671.8 2983.5 1673.8 2983.8 1675.8 2984.1 1677.8 2984.4 1679.7 2984.7 1681.7 2985.0 1683.7 2985.3 1685.7 2985.6 1687.6 2985.9 1689.6 2986.2 1691.6 2986.5 1693.6 2986.8 1695.5 2987.2 1697.5 2987.5 1699.5 2987.8 1701.4 2988.1 1703.4 2988.4 1705.4 2988.7 1707.4 2989.0 1709.3 2989.3 1711.3 2989.6 1713.3 2989.9 1715.3 2990.3 1717.2 2990.6 1719.2 2990.9 1721.2 2991.2 1723.2 2991.5 1725.1 2991.8 1727.1 2992.2 1729.1 2992.5 1731.1 2992.8 1733.0 2993.1 1735.0 2993.4 1737.0 2993.8 1739.0 2994.1 1741.0 2994.4 1742.9 2994.7 1744.9 2995.1 1746.9 2995.4 1748.9 2995.7 1750.8 2996.0 1752.8 2996.4 1754.8 2996.7 1756.8 2997.0 1758.7 2997.4 1760.7 2997.7 1762.7 2998.0 1764.7 2998.4 1766.6 2998.7 1768.6 2999.0 1770.6 2999.4 1772.6 2999.7 1774.5 3000.0 1776.5 3000.4 1778.5 3000.7 1780.5 3001.0 1782.5 3001.4 1784.4 3001.7 1786.4 3002.1 1788.4 3002.4 1790.4 3002.7 1792.3 3003.1 1794.3 3003.4 1796.3 3003.8 1798.3 3004.1 1800.2 3004.4 1802.2 3004.8 1804.2 3005.1 1806.2 3005.5 1808.2 3005.8 1810.1 3006.2 1812.1 3006.5 1814.1 3006.9 1816.1 3007.2 1818.0 3007.5 1820.0 3007.9 1822.0 3008.2 1824.0 3008.6 1826.0 3008.9 1827.9 3009.3 1829.9 3009.6 1831.9 3010.0 1833.9 3010.3 1835.8 3010.6 1837.8 3011.0 1839.8 3011.3 1841.8 3011.7 1843.8 3012.0 1845.7 3012.4 1847.7 3012.7 1849.7 3013.1 1851.7 3013.4 1853.7 3013.8 1855.6 3014.1 1857.6 3014.5 1859.6 3014.8 1861.6 3015.2 1863.5 3015.5 1865.5 3015.8 1867.5 3016.2 1869.5 3016.5 1871.5 3016.9 1873.4 3017.2 1875.4 3017.6 1877.4 3017.9 1879.4 3018.3 1881.4 3018.6 1883.3 3018.9 1885.3 3019.3 1887.3 3019.6 1889.3 3020.0 1891.3 3020.3 1893.2 3020.7 1895.2 3021.0 1897.2 3021.3 1899.2 3021.7 1901.2 3022.0 1903.1 3022.4 1905.1 3022.7 1907.1 3023.1 1909.1 3023.4 1911.1 3023.7 1913.0 3024.1 1915.0 3024.4 1917.0 3024.7 1919.0 3025.1 1921.0 3025.4 1922.9 3025.8 1924.9 3026.1 1926.9 3026.4 1928.9 3026.8 1930.9 3027.1 1932.8 3027.4 1934.8 3027.8 1936.8 3028.1 1938.8 3028.4 1940.8 3028.8 1942.8 3029.1 1944.7 3029.4 1946.7 3029.7 1948.7 3030.1 1950.7 3030.4 1952.7 3030.7 1954.6 3031.1 1956.6 3031.4 1958.6 3031.7 1960.6 3032.0 1962.6 3032.3 1964.5 3032.7 1966.5 3033.0 1968.5 3033.3 1970.5 3033.6 1972.5 3033.9 1974.5 3034.3 1976.4 3034.6 1978.4 3034.9 1980.4 3035.2 1982.4 3035.5 1984.4 3035.8 1986.4 3036.1 1988.3 3036.5 1990.3 3036.8 1992.3 3037.1 1994.3 3037.4 1996.3 3037.7 1998.2 3038.0 2000.2 3038.3 2002.2 3038.6 2004.2 3038.9 2006.2 3039.2 2008.2 3039.5 2010.1 3039.8 2012.1 3040.1 2014.1 3040.4 2016.1 3040.7 2018.1 3041.0 2020.1 3041.3 2022.0 3041.6 2024.0 3041.9 2026.0 3042.1 2028.0 3042.4 2030.0 3042.7 2032.0 3043.0 2033.9 3043.3 2035.9 3043.6 2037.9 3043.8 2039.9 3044.1 2041.9 3044.4 2043.9 3044.7 2045.8 3044.9 2047.8 3045.2 2049.8 3045.5 2051.8 3045.8 2053.8 3046.0 2055.8 3046.3 2057.8 3046.6 2059.7 3046.8 2061.7 3047.1 2063.7 3047.4 2065.7 3047.6 2067.7 3047.9 2069.7 3048.1 2071.6 3048.4 2073.6 3048.6 2075.6 3048.9 2077.6 3049.1" stroke="#ff0000"/>
<path d="M300.7 1779.7 301.2 1781.5 301.6 1783.3 302.1 1785.0 302.6 1786.8 303.0 1788.5 303.5 1790.3 304.0 1792.0 304.5 1793.8 305.0 1795.6 305.5 1797.3 306.0 1799.0 306.6 1800.8 307.1 1802.5 307.6 1804.3 308.2 1806.0 308.7 1807.8 309.3 1809.5 309.8 1811.3 310.4 1813.0 310.9 1814.7 311.5 1816.5 312.1 1818.2 312.6 1819.9 313.2 1821.7 313.8 1823.4 314.4 1825.1 315.0 1826.8 315.6 1828.6 316.2 1830.3 316.8 1832.0 317.4 1833.8 318.0 1835.5 318.7 1837.2 319.3 1838.9 319.9 1840.6 320.6 1842.4 321.2 1844.1 321.8 1845.8 322.5 1847.5 323.1 1849.2 323.8 1850.9 324.4 1852.6 325.1 1854.4 325.8 1856.1 326.4 1857.8 327.1 1859.5 327.8 1861.2 328.4 1862.9 329.1 1864.6 329.8 1866.3 330.5 1868.0 331.2 1869.7 331.9 1871.4 332.6 1873.1 333.3 1874.8 334.0 1876.5 334.7 1878.2 335.4 1879.9 336.1 1881.6 336.8 1883.3 337.5 1885.0 338.2 1886.7 338.9 1888.4 339.6 1890.1 340.3 1891.8 341.1 1893.5 341.8 1895.2 342.5 1896.9 343.2 1898.6 344.0 1900.3 344.7 1902.0 345.4 1903.7 346.1 1905.3 346.9 1907.0 347.6 1908.7 348.3 1910.4 349.1 1912.1 349.8 1913.8 350.5 1915.5 351.3 1917.2 352.0 1918.8 352.8 1920.5 353.5 1922.2 354.2 1923.9 355.0 1925.6 355.7 1927.3 356.5 1928.9 357.2 1930.6 357.9 1932.3 358.7 1934.0 359.4 1935.7 360.2 1937.4 360.9 1939.0 361.7 1940.7 362.4 1942.4 363.1 1944.1 363.9 1945.8 364.6 1947.4 365.4 1949.1 366.1 1950.8 366.8 1952.5 367.6 1954.2 368.3 1955.8 369.1 1957.5 369.8 1959.2 370.5 1960.9 371.3 1962.6 372.0 1964.2 372.7 1965.9 373.5 1967.6 374.2 1969.3 374.9 1971.0 375.6 1972.6 376.4 1974.3 377.1 1976.0 377.8 1977.7 378.5 1979.3 379.2 1981.0 380.0 1982.7 380.7 1984.4 381.4 1986.1 382.1 1987.7 382.8 1989.4 383.5 1991.1 384.2 1992.8 384.9 1994.5 385.6 1996.1 386.3 1997.8 387.0 1999.5 387.7 2001.2 388.4 2002.9 389.1 2004.5 389.8 2006.2 390.4 2007.9 391.1 2009.6 391.8 2011.3 392.5 2012.9 393.1 2014.6 393.8 2016.3 394.4 2018.0 395.1 2019.7 395.8 2021.4 396.4 2023.0 397.1 2024.7 397.7 2026.4 398.3 2028.1 399.0 2029.8 399.6 2031.5 400.3 2033.1 401.0 2034.8 401.6 2036.5 402.3 2038.2 403.0 2039.8 403.7 2041.5 404.4 2043.2 405.1 2044.8 405.8 2046.5 406.5 2048.1 407.3 2049.8 408.0 2051.4 408.8 2053.1 409.6 2054.7 410.4 2056.3 411.2 2058.0 412.1 2059.6 413.0 2061.2 413.9 2062.8 414.8 2064.4 415.8 2066.0 416.7 2067.6 417.7 2069.1 418.8 2070.7 419.8 2072.3 420.9 2073.8 422.0 2075.4 423.2 2076.9 424.4 2078.4 425.6 2079.8 426.9 2081.2 428.3 2082.5 429.7 2083.7 431.2 2084.8 432.7 2085.8 434.3 2086.7 435.9 2087.5 437.6 2088.0 439.4 2088.4 441.1 2088.6 442.9 2088.6 444.6 2088.4 446.4 2087.9 448.1 2087.4 449.7 2086.7 451.3 2085.8 452.9 2084.9 454.3 2083.9 455.7 2082.8 457.0 2081.6 458.3 2080.3 459.5 2079.0 460.6 2077.6 461.7 2076.1 462.8 2074.6 463.8 2073.0 464.7 2071.4 465.6 2069.7 466.5 2068.0 467.3 2066.3 468.1 2064.5 468.9 2062.7 469.7 2060.9 470.4 2059.1 471.1 2057.3 471.8 2055.4 472.5 2053.6 473.1 2051.8 473.8 2049.9 474.4 2048.1 475.1 2046.4 475.8 2044.6 476.4 2042.9 477.1 2041.1 477.7 2039.4 478.4 2037.8 479.0 2036.1 479.7 2034.5 480.4 2032.8 481.0 2031.2 481.7 2029.6 482.3 2028.0 483.0 2026.4 483.6 2024.8 484.2 2023.2 484.9 2021.6 485.5 2020.0 486.1 2018.4 486.7 2016.8 487.3 2015.2 487.9 2013.5 488.5 2011.9 489.1 2010.3 489.7 2008.6 490.2 2007.0 490.8 2005.3 491.3 2003.6 491.9 2001.9 492.4 2000.3 493.0 1998.6 493.5 1996.9 494.0 1995.2 494.5 1993.5 495.0 1991.8 495.6 1990.1 496.1 1988.3 496.6 1986.6 497.1 1984.9 497.5 1983.1 498.0 1981.4 498.5 1979.6 499.0 1977.9 499.5 1976.1 499.9 1974.4 500.4 1972.6 500.9 1970.8 501.3 1969.1 501.8 1967.3 502.2 1965.5 502.7 1963.7 503.1 1961.9 503.6 1960.2 504.0 1958.4 504.5 1956.6 504.9 1954.8 505.4 1953.0 505.8 1951.2 506.2 1949.4 506.7 1947.6 507.1 1945.7 507.6 1943.9 508.0 1942.1 508.4 1940.3 508.9 1938.5 509.3 1936.7 509.7 1934.9 510.2 1933.0 510.6 1931.2 511.0 1929.4 511.5 1927.6 511.9 1925.7 512.4 1923.9 512.8 1922.1 513.2 1920.3 513.7 1918.5 514.1 1916.6 514.6 1914.8 515.0 1913.0 515.5 1911.2 515.9 1909.3 516.4 1907.5 516.8 1905.7 517.3 1903.9 517.8 1902.1 518.2 1900.3 518.7 1898.5 519.2 1896.6 519.7 1894.8 520.2 1893.0 520.7 1891.2 521.1 1889.4 521.6 1887.6 522.1 1885.8 522.7 1884.0 523.2 1882.2 523.7 1880.4 524.2 1878.7 524.7 1876.9 525.3 1875.1 525.8 1873.3 526.4 1871.6 526.9 1869.8 527.5 1868.0 528.0 1866.3 528.6 1864.5 529.2 1862.8 529.8 1861.0 530.4 1859.3 531.0 1857.5 531.6 1855.8 532.2 1854.1 532.8 1852.4 533.4 1850.7 534.1 1848.9 534.7 1847.2 535.4 1845.5 536.1 1843.9 536.7 1842.2 537.4 1840.5 538.1 1838.8 538.8 1837.1 539.5 1835.5 540.3 1833.8 541.0 1832.2 541.7 1830.6 542.5 1828.9 543.3 1827.3 544.0 1825.7 544.8 1824.1 545.7 1822.5 546.5 1820.9 547.4 1819.3 548.2 1817.7 549.2 1816.1 550.1 1814.6 551.0 1813.0 552.0 1811.4 553.1 1809.9 554.1 1808.3 555.2 1806.8 556.3 1805.3 557.5 1803.9 558.7 1802.4 560.0 1801.1 561.3 1799.8 562.8 1798.6 564.2 1797.4 565.8 1796.4 567.4 1795.5 569.1 1794.7 570.9 1794.0 572.7 1793.4 574.5 1793.0 576.3 1792.7 578.2 1792.6 579.9 1792.7 581.7 1792.9 583.4 1793.3 585.0 1793.8 586.7 1794.4 588.3 1795.2 589.8 1796.1 591.4 1797.1 592.9 1798.2 594.3 1799.4 595.8 1800.6 597.2 1801.9 598.5 1803.2 599.8 1804.6 601.1 1806.0 602.4 1807.4 603.6 1808.9 604.8 1810.3 606.0 1811.8 607.1 1813.3 608.2 1814.8 609.3 1816.2 610.4 1817.8 611.4 1819.3 612.4 1820.8 613.4 1822.3 614.4 1823.9 615.3 1825.5 616.2 1827.0 617.1 1828.6 618.0 1830.2 618.9 1831.8 619.7 1833.3 620.6 1834.9 621.4 1836.5 622.2 1838.2 623.0 1839.8 623.8 1841.4 624.6 1843.0 625.4 1844.6 626.2 1846.3 627.0 1847.9 627.7 1849.5 628.5 1851.2 629.3 1852.8 630.1 1854.4 630.8 1856.1 631.6 1857.7 632.4 1859.4 633.1 1861.0 633.9 1862.6 634.7 1864.3 635.5 1865.9 636.3 1867.5 637.1 1869.2 637.9 1870.8 638.7 1872.4 639.5 1874.1 640.4 1875.7 641.2 1877.3 642.0 1879.0 642.8 1880.6 643.6 1882.2 644.5 1883.8 645.3 1885.5 646.1 1887.1 647.0 1888.7 647.8 1890.4 648.6 1892.0 649.4 1893.6 650.3 1895.3 651.1 1896.9 651.9 1898.6 652.7 1900.2 653.5 1901.8 654.3 1903.5 655.1 1905.1 655.9 1906.8 656.7 1908.4 657.5 1910.1 658.3 1911.7 659.1 1913.4 659.9 1915.0 660.7 1916.7 661.4 1918.4 662.2 1920.0 662.9 1921.7 663.7 1923.4 664.4 1925.0 665.2 1926.7 665.9 1928.4 666.6 1930.1 667.4 1931.8 668.1 1933.4 668.8 1935.1 669.5 1936.8 670.2 1938.5 670.9 1940.2 671.6 1941.9 672.3 1943.6 673.0 1945.3 673.7 1947.0 674.4 1948.7 675.1 1950.4 675.8 1952.1 676.4 1953.8 677.1 1955.5 677.8 1957.2 678.4 1958.9 679.1 1960.6 679.8 1962.3 680.4 1964.0 681.1 1965.7 681.7 1967.5 682.3 1969.2 683.0 1970.9 683.6 1972.6 684.3 1974.3 684.9 1976.1 685.5 1977.8 686.1 1979.5 686.8 1981.2 687.4 1983.0 688.0 1984.7 688.6 1986.4 689.2 1988.2 689.8 1989.9 690.4 1991.6 691.0 1993.4 691.6 1995.1 692.2 1996.8 692.8 1998.6 693.4 2000.3 694.0 2002.1 694.6 2003.8 695.2 2005.5 695.7 2007.3 696.3 2009.0 696.9 2010.8 697.5 2012.5 698.1 2014.3 698.6 2016.0 699.2 2017.8 699.8 2019.5 700.4 2021.2 700.9 2023.0 701.5 2024.7 702.1 2026.5 702.6 2028.2 703.2 2030.0 703.7 2031.7 704.3 2033.5 704.9 2035.3 705.4 2037.0 706.0 2038.8 706.5 2040.5 707.1 2042.3 707.7 2044.0 708.2 2045.8 708.8 2047.5 709.3 2049.3 709.9 2051.0 710.4 2052.8 711.0 2054.5 711.5 2056.3 712.1 2058.0 712.6 2059.8 713.2 2061.6 713.7 2063.3 714.3 2065.1 714.8 2066.8 715.4 2068.6 715.9 2070.3 716.5 2072.1 717.0 2073.8 717.6 2075.6 718.1 2077.3 718.7 2079.1 719.2 2080.8 719.8 2082.6 720.3 2084.3 720.9 2086.1 721.5 2087.8 722.0 2089.6 722.6 2091.3 723.1 2093.1 723.7 2094.8 724.2 2096.6 724.8 2098.3 725.4 2100.1 725.9 2101.8 726.5 2103.6 727.1 2105.3 727.6 2107.1 728.2 2108.8 728.8 2110.5 729.3 2112.3 729.9 2114.0 730.5 2115.8 731.1 2117.5 731.6 2119.2 732.2 2121.0 732.8 2122.7 733.4 2124.4 734.0 2126.2 734.6 2127.9 735.1 2129.6 735.7 2131.4 736.3 2133.1 736.9 2134.8 737.5 2136.6 738.1 2138.3 738.7 2140.0 739.3 2141.7 740.0 2143.4 740.6 2145.2 741.2 2146.9 741.8 2148.6 742.4 2150.3 743.0 2152.0 743.7 2153.7 744.3 2155.5 744.9 2157.2 745.6 2158.9 746.2 2160.6 746.8 2162.3 747.5 2164.0 748.1 2165.7 748.8 2167.4 749.4 2169.1 750.1 2170.8 750.8 2172.5 751.4 2174.2 752.1 2175.9 752.8 2177.5 753.4 2179.2 754.1 2180.9 754.8 2182.6 755.5 2184.3 756.2 2186.0 756.9 2187.6 757.6 2189.3 758.3 2191.0 759.0 2192.6 759.7 2194.3 760.4 2196.0 761.2 2197.6 761.9 2199.3 762.6 2201.0 763.4 2202.6 764.1 2204.3 764.8 2205.9 765.6 2207.6 766.3 2209.2 767.1 2210.9 767.9 2212.5 768.6 2214.2 769.4 2215.8 770.2 2217.4 771.0 2219.1 771.8 2220.7 772.6 2222.3 773.4 2223.9 774.2 2225.6 775.0 2227.2 775.8 2228.8 776.6 2230.4 777.5 2232.0 778.3 2233.6 779.1 2235.2 780.0 2236.8 780.9 2238.4 781.7 2240.0 782.6 2241.6 783.4 2243.2 784.3 2244.8 785.2 2246.4 786.1 2248.0 787.0 2249.5 787.9 2251.1 788.8 2252.7 789.7 2254.3 790.7 2255.8 791.6 2257.4 792.5 2258.9 793.5 2260.5 794.4 2262.0 795.4 2263.6 796.3 2265.1 797.3 2266.7 798.3 2268.2 799.3 2269.8 800.3 2271.3 801.3 2272.8 802.3 2274.3 803.3 2275.9 804.3 2277.4 805.3 2278.9 806.4 2280.4 807.4 2281.9 808.4 2283.4 809.5 2284.9 810.5 2286.4 811.6 2287.9 812.7 2289.4 813.7 2290.9 814.8 2292.4 815.9 2293.9 817.0 2295.4 818.1 2296.9 819.2 2298.3 820.2 2299.8 821.3 2301.3 822.4 2302.8 823.5 2304.3 824.7 2305.7 825.8 2307.2 826.9 2308.7 828.0 2310.2 829.1 2311.6 830.2 2313.1 831.3 2314.6 832.4 2316.0 833.6 2317.5 834.7 2319.0 835.8 2320.4 836.9 2321.9 838.0 2323.4 839.2 2324.8 840.3 2326.3 841.4 2327.8 842.5 2329.3 843.6 2330.7 844.7 2332.2 845.8 2333.7 847.0 2335.1 848.1 2336.6 849.2 2338.1 850.3 2339.6 851.4 2341.0 852.5 2342.5 853.6 2344.0 854.7 2345.5 855.8 2346.9 856.8 2348.4 857.9 2349.9 859.0 2351.4 860.1 2352.9 861.1 2354.4 862.2 2355.9 863.3 2357.4 864.3 2358.9 865.4 2360.4 866.4 2361.9 867.5 2363.4 868.5 2364.9 869.5 2366.4 870.5 2367.9 871.6 2369.4 872.6 2370.9 873.6 2372.5 874.6 2374.0 875.6 2375.5 876.6 2377.0 877.6 2378.6 878.6 2380.1 879.5 2381.6 880.5 2383.1 881.5 2384.7 882.5 2386.2 883.4 2387.8 884.4 2389.3 885.4 2390.8 886.3 2392.4 887.3 2393.9 888.3 2395.5 889.2 2397.0 890.2 2398.5 891.1 2400.1 892.1 2401.6 893.0 2403.2 894.0 2404.7 894.9 2406.3 895.9 2407.8 896.8 2409.4 897.8 2410.9 898.7 2412.5 899.7 2414.0 900.6 2415.6 901.6 2417.2 902.5 2418.7 903.5 2420.3 904.4 2421.8 905.3 2423.4 906.3 2424.9 907.2 2426.5 908.2 2428.0 909.1 2429.6 910.1 2431.1 911.0 2432.7 912.0 2434.2 913.0 2435.8 913.9 2437.3 914.9 2438.9 915.8 2440.4 916.8 2442.0 917.8 2443.5 918.8 2445.1 919.7 2446.6 920.7 2448.2 921.7 2449.7 922.7 2451.2 923.7 2452.8 924.7 2454.3 925.7 2455.9 926.7 2457.4 927.7 2458.9 928.7 2460.5 929.7 2462.0 930.7 2463.5 931.7 2465.0 932.7 2466.6 933.8 2468.1 934.8 2469.6 935.8 2471.1 936.9 2472.6 937.9 2474.1 939.0 2475.7 940.1 2477.2 941.1 2478.7 942.2 2480.1 943.3 2481.6 944.4 2483.1 945.5 2484.6 946.5 2486.1 947.7 2487.5 948.8 2489.0 949.9 2490.5 951.0 2491.9 952.1 2493.4 953.3 2494.8 954.4 2496.3 955.5 2497.7 956.7 2499.1 957.9 2500.5 959.0 2502.0 960.2 2503.4 961.4 2504.8 962.6 2506.2 963.8 2507.5 965.0 2508.9 966.2 2510.3 967.4 2511.7 968.6 2513.0 969.9 2514.4 971.1 2515.7 972.4 2517.0 973.6 2518.4 974.9 2519.7 976.2 2521.0 977.4 2522.3 978.7 2523.6 980.0 2524.8 981.3 2526.1 982.7 2527.4 984.0 2528.6 985.3 2529.9 986.7 2531.1 988.0 2532.3 989.4 2533.5 990.8 2534.7 992.2 2535.9 993.5 2537.1 994.9 2538.3 996.3 2539.4 997.8 2540.6 999.2 2541.7 1000.6 2542.9 1002.0 2544.0 1003.5 2545.2 1004.9 2546.3 1006.3 2547.4 1007.8 2548.5 1009.2 2549.6 1010.7 2550.8 1012.2 2551.9 1013.6 2553.0 1015.1 2554.1 1016.5 2555.2 1018.0 2556.3 1019.5 2557.3 1021.0 2558.4 1022.4 2559.5 1023.9 2560.6 1025.4 2561.7 1026.9 2562.8 1028.3 2563.9 1029.8 2565.0 1031.3 2566.0 1032.8 2567.1 1034.2 2568.2 1035.7 2569.3 1037.2 2570.4 1038.7 2571.5 1040.1 2572.6 1041.6 2573.7 1043.1 2574.8 1044.5 2575.9 1046.0 2577.0 1047.5 2578.1 1048.9 2579.2 1050.4 2580.3 1051.9 2581.4 1053.3 2582.5 1054.8 2583.6 1056.3 2584.7 1057.7 2585.8 1059.2 2586.9 1060.6 2588.0 1062.1 2589.1 1063.6 2590.2 1065.0 2591.3 1066.5 2592.4 1067.9 2593.5 1069.4 2594.6 1070.9 2595.7 1072.3 2596.8 1073.8 2597.9 1075.2 2599.0 1076.7 2600.2 1078.1 2601.3 1079.6 2602.4 1081.1 2603.5 1082.5 2604.6 1084.0 2605.7 1085.4 2606.8 1086.9 2607.9 1088.4 2609.0 1089.8 2610.1 1091.3 2611.2 1092.7 2612.3 1094.2 2613.4 1095.6 2614.5 1097.1 2615.6 1098.6 2616.7 1100.0 2617.8 1101.5 2618.9 1102.9 2620.0 1104.4 2621.1 1105.9 2622.2 1107.3 2623.3 1108.8 2624.4 1110.2 2625.5 1111.7 2626.6 1113.2 2627.7 1114.6 2628.8 1116.1 2629.9 1117.6 2631.0 1119.0 2632.1 1120.5 2633.2 1122.0 2634.3 1123.4 2635.4 1124.9 2636.5 1126.4 2637.6 1127.8 2638.7 1129.3 2639.7 1130.8 2640.8 1132.2 2641.9 1133.7 2643.0 1135.2 2644.1 1136.7 2645.2 1138.1 2646.2 1139.6 2647.3 1141.1 2648.4 1142.6 2649.5 1144.1 2650.5 1145.5 2651.6 1147.0 2652.7 1148.5 2653.7 1150.0 2654.8 1151.5 2655.9 1153.0 2656.9 1154.4 2658.0 1155.9 2659.0 1157.4 2660.1 1158.9 2661.2 1160.4 2662.2 1161.9 2663.3 1163.4 2664.3 1164.9 2665.4 1166.4 2666.4 1167.9 2667.4 1169.4 2668.5 1170.9 2669.5 1172.4 2670.6 1173.9 2671.6 1175.4 2672.6 1176.9 2673.7 1178.4 2674.7 1180.0 2675.7 1181.5 2676.7 1183.0 2677.8 1184.5 2678.8 1186.0 2679.8 1187.5 2680.8 1189.1 2681.8 1190.6 2682.8 1192.1 2683.8 1193.7 2684.8 1195.2 2685.8 1196.7 2686.8 1198.2 2687.8 1199.8 2688.8 1201.3 2689.8 1202.9 2690.8 1204.4 2691.8 1205.9 2692.8 1207.5 2693.8 1209.0 2694.7 1210.6 2695.7 1212.1 2696.7 1213.7 2697.7 1215.2 2698.6 1216.8 2699.6 1218.3 2700.6 1219.9 2701.5 1221.4 2702.5 1223.0 2703.5 1224.6 2704.4 1226.1 2705.4 1227.7 2706.3 1229.2 2707.3 1230.8 2708.2 1232.4 2709.2 1233.9 2710.1 1235.5 2711.0 1237.1 2712.0 1238.7 2712.9 1240.2 2713.8 1241.8 2714.8 1243.4 2715.7 1245.0 2716.6 1246.6 2717.5 1248.1 2718.4 1249.7 2719.4 1251.3 2720.3 1252.9 2721.2 1254.5 2722.1 1256.1 2723.0 1257.7 2723.9 1259.3 2724.8 1260.9 2725.7 1262.5 2726.6 1264.1 2727.5 1265.7 2728.4 1267.3 2729.3 1268.9 2730.1 1270.5 2731.0 1272.1 2731.9 1273.7 2732.8 1275.3 2733.6 1276.9 2734.5 1278.5 2735.4 1280.1 2736.3 1281.7 2737.1 1283.3 2738.0 1285.0 2738.8 1286.6 2739.7 1288.2 2740.5 1289.8 2741.4 1291.4 2742.2 1293.1 2743.1 1294.7 2743.9 1296.3 2744.8 1297.9 2745.6 1299.6 2746.4 1301.2 2747.3 1302.8 2748.1 1304.5 2748.9 1306.1 2749.7 1307.7 2750.5 1309.4 2751.4 1311.0 2752.2 1312.7 2753.0 1314.3 2753.8 1315.9 2754.6 1317.6 2755.4 1319.2 2756.2 1320.9 2757.0 1322.5 2757.8 1324.2 2758.6 1325.8 2759.4 1327.5 2760.1 1329.1 2760.9 1330.8 2761.7 1332.4 2762.5 1334.1 2763.3 1335.8 2764.0 1337.4 2764.8 1339.1 2765.6 1340.7 2766.3 1342.4 2767.1 1344.1 2767.8 1345.7 2768.6 1347.4 2769.3 1349.1 2770.1 1350.7 2770.8 1352.4 2771.6 1354.1 2772.3 1355.8 2773.0 1357.4 2773.8 1359.1 2774.5 1360.8 2775.2 1362.5 2776.0 1364.1 2776.7 1365.8 2777.4 1367.5 2778.1 1369.2 2778.8 1370.9 2779.5 1372.6 2780.2 1374.2 2781.0 1375.9 2781.7 1377.6 2782.4 1379.3 2783.1 1381.0 2783.8 1382.7 2784.5 1384.4 2785.1 1386.1 2785.8 1387.8 2786.5 1389.5 2787.2 1391.2 2787.9 1392.8 2788.6 1394.5 2789.3 1396.2 2789.9 1397.9 2790.6 1399.6 2791.3 1401.3 2792.0 1403.0 2792.6 1404.7 2793.3 1406.4 2794.0 1408.1 2794.7 1409.8 2795.3 1411.5 2796.0 1413.3 2796.7 1415.0 2797.3 1416.7 2798.0 1418.4 2798.6 1420.1 2799.3 1421.8 2800.0 1423.5 2800.6 1425.2 2801.3 1426.9 2801.9 1428.6 2802.6 1430.3 2803.2 1432.0 2803.9 1433.7 2804.6 1435.4 2805.2 1437.1 2805.9 1438.8 2806.5 1440.6 2807.2 1442.3 2807.8 1444.0 2808.5 1445.7 2809.1 1447.4 2809.8 1449.1 2810.4 1450.8 2811.1 1452.5 2811.7 1454.2 2812.4 1455.9 2813.0 1457.6 2813.7 1459.4 2814.3 1461.1 2815.0 1462.8 2815.6 1464.5 2816.3 1466.2 2816.9 1467.9 2817.6 1469.6 2818.2 1471.3 2818.9 1473.0 2819.5 1474.7 2820.2 1476.4 2820.9 1478.1 2821.5 1479.9 2822.2 1481.6 2822.8 1483.3 2823.5 1485.0 2824.1 1486.7 2824.8 1488.4 2825.5 1490.1 2826.1 1491.8 2826.8 1493.5 2827.5 1495.2 2828.1 1496.9 2828.8 1498.6 2829.5 1500.3 2830.1 1502.0 2830.8 1503.7 2831.5 1505.4 2832.1 1507.1 2832.8 1508.8 2833.5 1510.5 2834.2 1512.2 2834.9 1513.9 2835.5 1515.6 2836.2 1517.3 2836.9 1519.0 2837.6 1520.7 2838.3 1522.3 2839.0 1524.0 2839.7 1525.7 2840.4 1527.4 2841.1 1529.1 2841.8 1530.8 2842.5 1532.5 2843.2 1534.2 2843.9 1535.8 2844.6 1537.5 2845.3 1539.2 2846.0 1540.9 2846.7 1542.6 2847.5 1544.2 2848.2 1545.9 2848.9 1547.6 2849.6 1549.3 2850.4 1550.9 2851.1 1552.6 2851.8 1554.3 2852.6 1556.0 2853.3 1557.6 2854.0 1559.3 2854.8 1561.0 2855.5 1562.6 2856.3 1564.3 2857.0 1566.0 2857.7 1567.7 2858.5 1569.3 2859.2 1571.0 2860.0 1572.6 2860.7 1574.3 2861.5 1576.0 2862.3 1577.6 2863.0 1579.3 2863.8 1581.0 2864.5 1582.6 2865.3 1584.3 2866.0 1586.0 2866.8 1587.6 2867.6 1589.3 2868.3 1590.9 2869.1 1592.6 2869.9 1594.2 2870.6 1595.9 2871.4 1597.6 2872.2 1599.2 2872.9 1600.9 2873.7 1602.5 2874.5 1604.2 2875.3 1605.8 2876.0 1607.5 2876.8 1609.2 2877.6 1610.8 2878.4 1612.5 2879.1 1614.1 2879.9 1615.8 2880.7 1617.4 2881.5 1619.1 2882.2 1620.7 2883.0 1622.4 2883.8 1624.1 2884.6 1625.7 2885.4 1627.4 2886.1 1629.0 2886.9 1630.7 2887.7 1632.3 2888.5 1634.0 2889.3 1635.6 2890.0 1637.3 2890.8 1638.9 2891.6 1640.6 2892.4 1642.2 2893.2 1643.9 2893.9 1645.6 2894.7 1647.2 2895.5 1648.9 2896.3 1650.5 2897.1 1652.2 2897.8 1653.8 2898.6 1655.5 2899.4 1657.1 2900.2 1658.8 2900.9 1660.5 2901.7 1662.1 2902.5 1663.8 2903.3 1665.4 2904.0 1667.1 2904.8 1668.7 2905.6 1670.4 2906.3 1672.1 2907.1 1673.7 2907.9 1675.4 2908.7 1677.0 2909.4 1678.7 2910.2 1680.4 2910.9 1682.0 2911.7 1683.7 2912.5 1685.3 2913.2 1687.0 2914.0 1688.7 2914.8 1690.3 2915.5 1692.0 2916.3 1693.7 2917.0 1695.3 2917.8 1697.0 2918.5 1698.7 2919.3 1700.3 2920.0 1702.0 2920.8 1703.7 2921.5 1705.3 2922.3 1707.0 2923.0 1708.7 2923.8 1710.3 2924.5 1712.0 2925.2 1713.7 2926.0 1715.4 2926.7 1717.0 2927.4 1718.7 2928.2 1720.4 2928.9 1722.1 2929.6 1723.8 2930.3 1725.4 2931.1 1727.1 2931.8 1728.8 2932.5 1730.5 2933.2 1732.2 2933.9 1733.8 2934.6 1735.5 2935.3 1737.2 2936.1 1738.9 2936.8 1740.6 2937.5 1742.3 2938.2 1744.0 2938.9 1745.7 2939.6 1747.4 2940.3 1749.1 2940.9 1750.7 2941.6 1752.4 2942.3 1754.1 2943.0 1755.8 2943.7 1757.5 2944.4 1759.2 2945.1 1760.9 2945.7 1762.6 2946.4 1764.3 2947.1 1766.0 2947.8 1767.7 2948.4 1769.4 2949.1 1771.1 2949.8 1772.8 2950.4 1774.5 2951.1 1776.2 2951.8 1777.9 2952.4 1779.7 2953.1 1781.4 2953.7 1783.1 2954.4 1784.8 2955.1 1786.5 2955.7 1788.2 2956.4 1789.9 2957.0 1791.6 2957.6 1793.3 2958.3 1795.1 2958.9 1796.8 2959.6 1798.5 2960.2 1800.2 2960.8 1801.9 2961.5 1803.6 2962.1 1805.4 2962.7 1807.1 2963.4 1808.8 2964.0 1810.5 2964.6 1812.2 2965.2 1814.0 2965.9 1815.7 2966.5 1817.4 2967.1 1819.1 2967.7 1820.9 2968.3 1822.6 2968.9 1824.3 2969.5 1826.0 2970.2 1827.8 2970.8 1829.5 2971.4 1831.2 2972.0 1832.9 2972.6 1834.7 2973.2 1836.4 2973.8 1838.1 2974.4 1839.9 2975.0 1841.6 2975.6 1843.3 2976.1 1845.1 2976.7 1846.8 2977.3 1848.5 2977.9 1850.3 2978.5 1852.0 2979.1 1853.7 2979.7 1855.5 2980.2 1857.2 2980.8 1859.0 2981.4 1860.7 2982.0 1862.4 2982.5 1864.2 2983.1 1865.9 2983.7 1867.7 2984.2 1869.4 2984.8 1871.1 2985.4 1872.9 2985.9 1874.6 2986.5 1876.4 2987.0 1878.1 2987.6 1879.9 2988.2 1881.6 2988.7 1883.4 2989.3 1885.1 2989.8 1886.8 2990.4 1888.6 2990.9 1890.3 2991.5 1892.1 2992.0 1893.8 2992.6 1895.6 2993.1 1897.3 2993.6 1899.1 2994.2 1900.8 2994.7 1902.6 2995.2 1904.3 2995.8 1906.1 2996.3 1907.9 2996.8 1909.6 2997.4 1911.4 2997.9 1913.1 2998.4 1914.9 2998.9 1916.6 2999.5 1918.4 3000.0 1920.1 3000.5 1921.9 3001.0 1923.6 3001.5 1925.4 3002.1 1927.2 3002.6 1928.9 3003.1 1930.7 3003.6 1932.4 3004.1 1934.2 3004.6 1936.0 3005.1 1937.7 3005.6 1939.5 3006.1 1941.2 3006.6 1943.0 3007.1 1944.8 3007.6 1946.5 3008.1 1948.3 3008.6 1950.0 3009.1 1951.8 3009.6 1953.6 3010.1 1955.3 3010.6 1957.1 3011.1 1958.9 3011.6 1960.6 3012.1 1962.4 3012.6 1964.2 3013.0 1965.9 3013.5 1967.7 3014.0 1969.5 3014.5 1971.2 3015.0 1973.0 3015.4 1974.8 3015.9 1976.5 3016.4 1978.3 3016.9 1980.1 3017.3 1981.8 3017.8 1983.6 3018.3 1985.4 3018.7 1987.1 3019.2 1988.9 3019.7 1990.7 3020.1 1992.4 3020.6 1994.2 3021.1 1996.0 3021.5 1997.8 3022.0 1999.5 3022.4 2001.3 3022.9 2003.1 3023.3 2004.8 3023.8 2006.6 3024.3 2008.4 3024.7 2010.2 3025.2 2011.9 3025.6 2013.7 3026.1 2015.5 3026.5 2017.2 3026.9 2019.0 3027.4 2020.8 3027.8 2022.6 3028.3 2024.3 3028.7 2026.1 3029.2 2027.9 3029.6 2029.7 3030.0 2031.4 3030.5 2033.2 3030.9 2035.0 3031.3 2036.8 3031.8 2038.5 3032.2 2040.3 3032.6 2042.1 3033.0 2043.9 3033.5 2045.6 3033.9 2047.4 3034.3 2049.2 3034.8 2051.0 3035.2 2052.7 3035.6 2054.5 3036.0 2056.3 3036.4 2058.1 3036.9 2059.8 3037.3 2061.6 3037.7 2063.4 3038.1 2065.2 3038.5 2066.9 3038.9 2068.7 3039.3 2070.5 3039.8 2072.3 3040.2 2074.0 3040.6 2075.8 3041.0 2077.6 3041.4" stroke="#0000ff"/>
</g></g>
<rect x="1735.3" y="2121.15" width="155.9" height="12.7" rx="5.5" ry="6.35" fill="#000000"/>
<text transform="matrix(0.3124,0,0,0.3568,1899.03,2153.10)" font-weight="normal">P1</text>
<rect x="1735.3" y="2223.25" width="155.9" height="12.7" rx="5.5" ry="6.35" fill="#ff0000"/>
<text transform="matrix(0.3201,0,0,0.3555,1898.98,2255.20)" font-weight="normal">P2</text>
<rect x="1735.3" y="2325.35" width="155.9" height="12.7" rx="5.5" ry="6.35" fill="#0000ff"/>
<text transform="matrix(0.3152,0,0,0.3561,1899.01,2357.39)" font-weight="normal">P3</text>
<text transform="matrix(0.3600,0,0,0.4160,925.00,3765.30)" x="-9.58 181.58 275.42 382.67 474.5 534.47 628.67 745.61 841.86 908.92 1020.15 1069.25 1131.72 1243.11 1403.86" y="0">Wavelength (nm)</text>
<text transform="matrix(0.3980,0,0,0.4290,1019.00,3881.60)" x="-9.37 60.47 186.09" y="0" font-weight="normal">(<tspan font-weight="bold" font-size="218">b</tspan>)</text>
<text transform="matrix(0,-0.3600,0.4125,0,100.10,3212.30)"><tspan x="4.78 185.56 300.69 391.72 585.33 697.97 769.28 841.03 954.75 1058.44 1169.68" y="0">Normalized </tspan><tspan x="1248.19 1422.11 1557.03 1655.28 1769.58 1861.56 1993.25 2069.69 2141.39 2263.67" y="0">Absorption</tspan></text>
</g>
</svg>
</body></html>
